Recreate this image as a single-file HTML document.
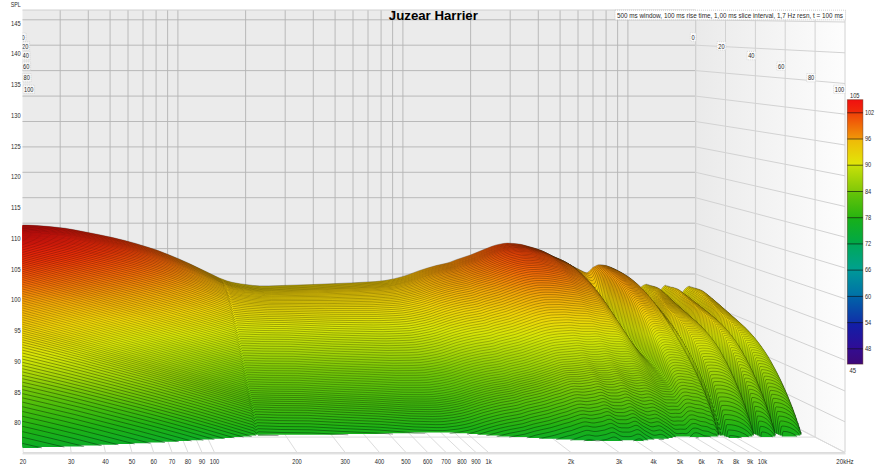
<!DOCTYPE html><html><head><meta charset="utf-8"><style>html,body{margin:0;padding:0;background:#fff}svg{display:block}text{font-family:"Liberation Sans",sans-serif}</style></head><body><svg width="877" height="468" viewBox="0 0 877 468">
<defs>
<clipPath id="cp"><rect x="22.5" y="0" width="830" height="456"/></clipPath>
<linearGradient id="rw" x1="0" y1="0" x2="1" y2="0"><stop offset="0" stop-color="#eaeaea"/><stop offset="1" stop-color="#fdfdfd"/></linearGradient>
<linearGradient id="g0" gradientUnits="userSpaceOnUse" x1="0" y1="223.2" x2="0" y2="421.4"><stop offset="0.000" stop-color="#f01010"/><stop offset="0.077" stop-color="#f03408"/><stop offset="0.154" stop-color="#f26c08"/><stop offset="0.231" stop-color="#f2a808"/><stop offset="0.308" stop-color="#f0d408"/><stop offset="0.385" stop-color="#d8e608"/><stop offset="0.462" stop-color="#a8d608"/><stop offset="0.538" stop-color="#74c608"/><stop offset="0.615" stop-color="#46bc0c"/><stop offset="0.692" stop-color="#1eb214"/><stop offset="0.769" stop-color="#0cac28"/><stop offset="0.846" stop-color="#00a84c"/><stop offset="1.000" stop-color="#00a090"/></linearGradient>
<linearGradient id="g1" gradientUnits="userSpaceOnUse" x1="0" y1="224.0" x2="0" y2="422.7"><stop offset="0.000" stop-color="#f01010"/><stop offset="0.077" stop-color="#f03408"/><stop offset="0.154" stop-color="#f26c08"/><stop offset="0.231" stop-color="#f2a808"/><stop offset="0.308" stop-color="#f0d408"/><stop offset="0.385" stop-color="#d8e608"/><stop offset="0.462" stop-color="#a8d608"/><stop offset="0.538" stop-color="#74c608"/><stop offset="0.615" stop-color="#46bc0c"/><stop offset="0.692" stop-color="#1eb214"/><stop offset="0.769" stop-color="#0cac28"/><stop offset="0.846" stop-color="#00a84c"/><stop offset="1.000" stop-color="#00a090"/></linearGradient>
<linearGradient id="g2" gradientUnits="userSpaceOnUse" x1="0" y1="224.8" x2="0" y2="423.9"><stop offset="0.000" stop-color="#f01010"/><stop offset="0.077" stop-color="#f03408"/><stop offset="0.154" stop-color="#f26c08"/><stop offset="0.231" stop-color="#f2a808"/><stop offset="0.308" stop-color="#f0d408"/><stop offset="0.385" stop-color="#d8e608"/><stop offset="0.462" stop-color="#a8d608"/><stop offset="0.538" stop-color="#74c608"/><stop offset="0.615" stop-color="#46bc0c"/><stop offset="0.692" stop-color="#1eb214"/><stop offset="0.769" stop-color="#0cac28"/><stop offset="0.846" stop-color="#00a84c"/><stop offset="1.000" stop-color="#00a090"/></linearGradient>
<linearGradient id="g3" gradientUnits="userSpaceOnUse" x1="0" y1="225.6" x2="0" y2="425.2"><stop offset="0.000" stop-color="#f01010"/><stop offset="0.077" stop-color="#f03408"/><stop offset="0.154" stop-color="#f26c08"/><stop offset="0.231" stop-color="#f2a808"/><stop offset="0.308" stop-color="#f0d408"/><stop offset="0.385" stop-color="#d8e608"/><stop offset="0.462" stop-color="#a8d608"/><stop offset="0.538" stop-color="#74c608"/><stop offset="0.615" stop-color="#46bc0c"/><stop offset="0.692" stop-color="#1eb214"/><stop offset="0.769" stop-color="#0cac28"/><stop offset="0.846" stop-color="#00a84c"/><stop offset="1.000" stop-color="#00a090"/></linearGradient>
<linearGradient id="g4" gradientUnits="userSpaceOnUse" x1="0" y1="226.5" x2="0" y2="426.4"><stop offset="0.000" stop-color="#f01010"/><stop offset="0.077" stop-color="#f03408"/><stop offset="0.154" stop-color="#f26c08"/><stop offset="0.231" stop-color="#f2a808"/><stop offset="0.308" stop-color="#f0d408"/><stop offset="0.385" stop-color="#d8e608"/><stop offset="0.462" stop-color="#a8d608"/><stop offset="0.538" stop-color="#74c608"/><stop offset="0.615" stop-color="#46bc0c"/><stop offset="0.692" stop-color="#1eb214"/><stop offset="0.769" stop-color="#0cac28"/><stop offset="0.846" stop-color="#00a84c"/><stop offset="1.000" stop-color="#00a090"/></linearGradient>
<linearGradient id="g5" gradientUnits="userSpaceOnUse" x1="0" y1="227.3" x2="0" y2="427.6"><stop offset="0.000" stop-color="#f01010"/><stop offset="0.077" stop-color="#f03408"/><stop offset="0.154" stop-color="#f26c08"/><stop offset="0.231" stop-color="#f2a808"/><stop offset="0.308" stop-color="#f0d408"/><stop offset="0.385" stop-color="#d8e608"/><stop offset="0.462" stop-color="#a8d608"/><stop offset="0.538" stop-color="#74c608"/><stop offset="0.615" stop-color="#46bc0c"/><stop offset="0.692" stop-color="#1eb214"/><stop offset="0.769" stop-color="#0cac28"/><stop offset="0.846" stop-color="#00a84c"/><stop offset="1.000" stop-color="#00a090"/></linearGradient>
<linearGradient id="g6" gradientUnits="userSpaceOnUse" x1="0" y1="228.1" x2="0" y2="428.9"><stop offset="0.000" stop-color="#f01010"/><stop offset="0.077" stop-color="#f03408"/><stop offset="0.154" stop-color="#f26c08"/><stop offset="0.231" stop-color="#f2a808"/><stop offset="0.308" stop-color="#f0d408"/><stop offset="0.385" stop-color="#d8e608"/><stop offset="0.462" stop-color="#a8d608"/><stop offset="0.538" stop-color="#74c608"/><stop offset="0.615" stop-color="#46bc0c"/><stop offset="0.692" stop-color="#1eb214"/><stop offset="0.769" stop-color="#0cac28"/><stop offset="0.846" stop-color="#00a84c"/><stop offset="1.000" stop-color="#00a090"/></linearGradient>
<linearGradient id="g7" gradientUnits="userSpaceOnUse" x1="0" y1="228.9" x2="0" y2="430.1"><stop offset="0.000" stop-color="#f01010"/><stop offset="0.077" stop-color="#f03408"/><stop offset="0.154" stop-color="#f26c08"/><stop offset="0.231" stop-color="#f2a808"/><stop offset="0.308" stop-color="#f0d408"/><stop offset="0.385" stop-color="#d8e608"/><stop offset="0.462" stop-color="#a8d608"/><stop offset="0.538" stop-color="#74c608"/><stop offset="0.615" stop-color="#46bc0c"/><stop offset="0.692" stop-color="#1eb214"/><stop offset="0.769" stop-color="#0cac28"/><stop offset="0.846" stop-color="#00a84c"/><stop offset="1.000" stop-color="#00a090"/></linearGradient>
<linearGradient id="g8" gradientUnits="userSpaceOnUse" x1="0" y1="229.7" x2="0" y2="431.3"><stop offset="0.000" stop-color="#f01010"/><stop offset="0.077" stop-color="#f03408"/><stop offset="0.154" stop-color="#f26c08"/><stop offset="0.231" stop-color="#f2a808"/><stop offset="0.308" stop-color="#f0d408"/><stop offset="0.385" stop-color="#d8e608"/><stop offset="0.462" stop-color="#a8d608"/><stop offset="0.538" stop-color="#74c608"/><stop offset="0.615" stop-color="#46bc0c"/><stop offset="0.692" stop-color="#1eb214"/><stop offset="0.769" stop-color="#0cac28"/><stop offset="0.846" stop-color="#00a84c"/><stop offset="1.000" stop-color="#00a090"/></linearGradient>
<linearGradient id="g9" gradientUnits="userSpaceOnUse" x1="0" y1="230.5" x2="0" y2="432.5"><stop offset="0.000" stop-color="#f01010"/><stop offset="0.077" stop-color="#f03408"/><stop offset="0.154" stop-color="#f26c08"/><stop offset="0.231" stop-color="#f2a808"/><stop offset="0.308" stop-color="#f0d408"/><stop offset="0.385" stop-color="#d8e608"/><stop offset="0.462" stop-color="#a8d608"/><stop offset="0.538" stop-color="#74c608"/><stop offset="0.615" stop-color="#46bc0c"/><stop offset="0.692" stop-color="#1eb214"/><stop offset="0.769" stop-color="#0cac28"/><stop offset="0.846" stop-color="#00a84c"/><stop offset="1.000" stop-color="#00a090"/></linearGradient>
<linearGradient id="g10" gradientUnits="userSpaceOnUse" x1="0" y1="231.3" x2="0" y2="433.7"><stop offset="0.000" stop-color="#f01010"/><stop offset="0.077" stop-color="#f03408"/><stop offset="0.154" stop-color="#f26c08"/><stop offset="0.231" stop-color="#f2a808"/><stop offset="0.308" stop-color="#f0d408"/><stop offset="0.385" stop-color="#d8e608"/><stop offset="0.462" stop-color="#a8d608"/><stop offset="0.538" stop-color="#74c608"/><stop offset="0.615" stop-color="#46bc0c"/><stop offset="0.692" stop-color="#1eb214"/><stop offset="0.769" stop-color="#0cac28"/><stop offset="0.846" stop-color="#00a84c"/><stop offset="1.000" stop-color="#00a090"/></linearGradient>
<linearGradient id="g11" gradientUnits="userSpaceOnUse" x1="0" y1="232.1" x2="0" y2="434.9"><stop offset="0.000" stop-color="#f01010"/><stop offset="0.077" stop-color="#f03408"/><stop offset="0.154" stop-color="#f26c08"/><stop offset="0.231" stop-color="#f2a808"/><stop offset="0.308" stop-color="#f0d408"/><stop offset="0.385" stop-color="#d8e608"/><stop offset="0.462" stop-color="#a8d608"/><stop offset="0.538" stop-color="#74c608"/><stop offset="0.615" stop-color="#46bc0c"/><stop offset="0.692" stop-color="#1eb214"/><stop offset="0.769" stop-color="#0cac28"/><stop offset="0.846" stop-color="#00a84c"/><stop offset="1.000" stop-color="#00a090"/></linearGradient>
<linearGradient id="g12" gradientUnits="userSpaceOnUse" x1="0" y1="232.8" x2="0" y2="436.1"><stop offset="0.000" stop-color="#f01010"/><stop offset="0.077" stop-color="#f03408"/><stop offset="0.154" stop-color="#f26c08"/><stop offset="0.231" stop-color="#f2a808"/><stop offset="0.308" stop-color="#f0d408"/><stop offset="0.385" stop-color="#d8e608"/><stop offset="0.462" stop-color="#a8d608"/><stop offset="0.538" stop-color="#74c608"/><stop offset="0.615" stop-color="#46bc0c"/><stop offset="0.692" stop-color="#1eb214"/><stop offset="0.769" stop-color="#0cac28"/><stop offset="0.846" stop-color="#00a84c"/><stop offset="1.000" stop-color="#00a090"/></linearGradient>
<linearGradient id="g13" gradientUnits="userSpaceOnUse" x1="0" y1="233.6" x2="0" y2="437.3"><stop offset="0.000" stop-color="#f01010"/><stop offset="0.077" stop-color="#f03408"/><stop offset="0.154" stop-color="#f26c08"/><stop offset="0.231" stop-color="#f2a808"/><stop offset="0.308" stop-color="#f0d408"/><stop offset="0.385" stop-color="#d8e608"/><stop offset="0.462" stop-color="#a8d608"/><stop offset="0.538" stop-color="#74c608"/><stop offset="0.615" stop-color="#46bc0c"/><stop offset="0.692" stop-color="#1eb214"/><stop offset="0.769" stop-color="#0cac28"/><stop offset="0.846" stop-color="#00a84c"/><stop offset="1.000" stop-color="#00a090"/></linearGradient>
<linearGradient id="g14" gradientUnits="userSpaceOnUse" x1="0" y1="234.4" x2="0" y2="438.5"><stop offset="0.000" stop-color="#f01010"/><stop offset="0.077" stop-color="#f03408"/><stop offset="0.154" stop-color="#f26c08"/><stop offset="0.231" stop-color="#f2a808"/><stop offset="0.308" stop-color="#f0d408"/><stop offset="0.385" stop-color="#d8e608"/><stop offset="0.462" stop-color="#a8d608"/><stop offset="0.538" stop-color="#74c608"/><stop offset="0.615" stop-color="#46bc0c"/><stop offset="0.692" stop-color="#1eb214"/><stop offset="0.769" stop-color="#0cac28"/><stop offset="0.846" stop-color="#00a84c"/><stop offset="1.000" stop-color="#00a090"/></linearGradient>
<linearGradient id="g15" gradientUnits="userSpaceOnUse" x1="0" y1="235.1" x2="0" y2="439.6"><stop offset="0.000" stop-color="#f01010"/><stop offset="0.077" stop-color="#f03408"/><stop offset="0.154" stop-color="#f26c08"/><stop offset="0.231" stop-color="#f2a808"/><stop offset="0.308" stop-color="#f0d408"/><stop offset="0.385" stop-color="#d8e608"/><stop offset="0.462" stop-color="#a8d608"/><stop offset="0.538" stop-color="#74c608"/><stop offset="0.615" stop-color="#46bc0c"/><stop offset="0.692" stop-color="#1eb214"/><stop offset="0.769" stop-color="#0cac28"/><stop offset="0.846" stop-color="#00a84c"/><stop offset="1.000" stop-color="#00a090"/></linearGradient>
<linearGradient id="g16" gradientUnits="userSpaceOnUse" x1="0" y1="235.9" x2="0" y2="440.8"><stop offset="0.000" stop-color="#f01010"/><stop offset="0.077" stop-color="#f03408"/><stop offset="0.154" stop-color="#f26c08"/><stop offset="0.231" stop-color="#f2a808"/><stop offset="0.308" stop-color="#f0d408"/><stop offset="0.385" stop-color="#d8e608"/><stop offset="0.462" stop-color="#a8d608"/><stop offset="0.538" stop-color="#74c608"/><stop offset="0.615" stop-color="#46bc0c"/><stop offset="0.692" stop-color="#1eb214"/><stop offset="0.769" stop-color="#0cac28"/><stop offset="0.846" stop-color="#00a84c"/><stop offset="1.000" stop-color="#00a090"/></linearGradient>
<linearGradient id="g17" gradientUnits="userSpaceOnUse" x1="0" y1="236.7" x2="0" y2="442.0"><stop offset="0.000" stop-color="#f01010"/><stop offset="0.077" stop-color="#f03408"/><stop offset="0.154" stop-color="#f26c08"/><stop offset="0.231" stop-color="#f2a808"/><stop offset="0.308" stop-color="#f0d408"/><stop offset="0.385" stop-color="#d8e608"/><stop offset="0.462" stop-color="#a8d608"/><stop offset="0.538" stop-color="#74c608"/><stop offset="0.615" stop-color="#46bc0c"/><stop offset="0.692" stop-color="#1eb214"/><stop offset="0.769" stop-color="#0cac28"/><stop offset="0.846" stop-color="#00a84c"/><stop offset="1.000" stop-color="#00a090"/></linearGradient>
<linearGradient id="g18" gradientUnits="userSpaceOnUse" x1="0" y1="237.5" x2="0" y2="443.2"><stop offset="0.000" stop-color="#f01010"/><stop offset="0.077" stop-color="#f03408"/><stop offset="0.154" stop-color="#f26c08"/><stop offset="0.231" stop-color="#f2a808"/><stop offset="0.308" stop-color="#f0d408"/><stop offset="0.385" stop-color="#d8e608"/><stop offset="0.462" stop-color="#a8d608"/><stop offset="0.538" stop-color="#74c608"/><stop offset="0.615" stop-color="#46bc0c"/><stop offset="0.692" stop-color="#1eb214"/><stop offset="0.769" stop-color="#0cac28"/><stop offset="0.846" stop-color="#00a84c"/><stop offset="1.000" stop-color="#00a090"/></linearGradient>
<linearGradient id="g19" gradientUnits="userSpaceOnUse" x1="0" y1="238.3" x2="0" y2="444.4"><stop offset="0.000" stop-color="#f01010"/><stop offset="0.077" stop-color="#f03408"/><stop offset="0.154" stop-color="#f26c08"/><stop offset="0.231" stop-color="#f2a808"/><stop offset="0.308" stop-color="#f0d408"/><stop offset="0.385" stop-color="#d8e608"/><stop offset="0.462" stop-color="#a8d608"/><stop offset="0.538" stop-color="#74c608"/><stop offset="0.615" stop-color="#46bc0c"/><stop offset="0.692" stop-color="#1eb214"/><stop offset="0.769" stop-color="#0cac28"/><stop offset="0.846" stop-color="#00a84c"/><stop offset="1.000" stop-color="#00a090"/></linearGradient>
<linearGradient id="g20" gradientUnits="userSpaceOnUse" x1="0" y1="239.0" x2="0" y2="445.6"><stop offset="0.000" stop-color="#f01010"/><stop offset="0.077" stop-color="#f03408"/><stop offset="0.154" stop-color="#f26c08"/><stop offset="0.231" stop-color="#f2a808"/><stop offset="0.308" stop-color="#f0d408"/><stop offset="0.385" stop-color="#d8e608"/><stop offset="0.462" stop-color="#a8d608"/><stop offset="0.538" stop-color="#74c608"/><stop offset="0.615" stop-color="#46bc0c"/><stop offset="0.692" stop-color="#1eb214"/><stop offset="0.769" stop-color="#0cac28"/><stop offset="0.846" stop-color="#00a84c"/><stop offset="1.000" stop-color="#00a090"/></linearGradient>
<linearGradient id="g21" gradientUnits="userSpaceOnUse" x1="0" y1="239.8" x2="0" y2="446.8"><stop offset="0.000" stop-color="#f01010"/><stop offset="0.077" stop-color="#f03408"/><stop offset="0.154" stop-color="#f26c08"/><stop offset="0.231" stop-color="#f2a808"/><stop offset="0.308" stop-color="#f0d408"/><stop offset="0.385" stop-color="#d8e608"/><stop offset="0.462" stop-color="#a8d608"/><stop offset="0.538" stop-color="#74c608"/><stop offset="0.615" stop-color="#46bc0c"/><stop offset="0.692" stop-color="#1eb214"/><stop offset="0.769" stop-color="#0cac28"/><stop offset="0.846" stop-color="#00a84c"/><stop offset="1.000" stop-color="#00a090"/></linearGradient>
<linearGradient id="g22" gradientUnits="userSpaceOnUse" x1="0" y1="240.6" x2="0" y2="448.0"><stop offset="0.000" stop-color="#f01010"/><stop offset="0.077" stop-color="#f03408"/><stop offset="0.154" stop-color="#f26c08"/><stop offset="0.231" stop-color="#f2a808"/><stop offset="0.308" stop-color="#f0d408"/><stop offset="0.385" stop-color="#d8e608"/><stop offset="0.462" stop-color="#a8d608"/><stop offset="0.538" stop-color="#74c608"/><stop offset="0.615" stop-color="#46bc0c"/><stop offset="0.692" stop-color="#1eb214"/><stop offset="0.769" stop-color="#0cac28"/><stop offset="0.846" stop-color="#00a84c"/><stop offset="1.000" stop-color="#00a090"/></linearGradient>
<linearGradient id="g23" gradientUnits="userSpaceOnUse" x1="0" y1="241.3" x2="0" y2="449.2"><stop offset="0.000" stop-color="#f01010"/><stop offset="0.077" stop-color="#f03408"/><stop offset="0.154" stop-color="#f26c08"/><stop offset="0.231" stop-color="#f2a808"/><stop offset="0.308" stop-color="#f0d408"/><stop offset="0.385" stop-color="#d8e608"/><stop offset="0.462" stop-color="#a8d608"/><stop offset="0.538" stop-color="#74c608"/><stop offset="0.615" stop-color="#46bc0c"/><stop offset="0.692" stop-color="#1eb214"/><stop offset="0.769" stop-color="#0cac28"/><stop offset="0.846" stop-color="#00a84c"/><stop offset="1.000" stop-color="#00a090"/></linearGradient>
<linearGradient id="g24" gradientUnits="userSpaceOnUse" x1="0" y1="242.0" x2="0" y2="450.3"><stop offset="0.000" stop-color="#f01010"/><stop offset="0.077" stop-color="#f03408"/><stop offset="0.154" stop-color="#f26c08"/><stop offset="0.231" stop-color="#f2a808"/><stop offset="0.308" stop-color="#f0d408"/><stop offset="0.385" stop-color="#d8e608"/><stop offset="0.462" stop-color="#a8d608"/><stop offset="0.538" stop-color="#74c608"/><stop offset="0.615" stop-color="#46bc0c"/><stop offset="0.692" stop-color="#1eb214"/><stop offset="0.769" stop-color="#0cac28"/><stop offset="0.846" stop-color="#00a84c"/><stop offset="1.000" stop-color="#00a090"/></linearGradient>
<linearGradient id="g25" gradientUnits="userSpaceOnUse" x1="0" y1="242.7" x2="0" y2="451.3"><stop offset="0.000" stop-color="#f01010"/><stop offset="0.077" stop-color="#f03408"/><stop offset="0.154" stop-color="#f26c08"/><stop offset="0.231" stop-color="#f2a808"/><stop offset="0.308" stop-color="#f0d408"/><stop offset="0.385" stop-color="#d8e608"/><stop offset="0.462" stop-color="#a8d608"/><stop offset="0.538" stop-color="#74c608"/><stop offset="0.615" stop-color="#46bc0c"/><stop offset="0.692" stop-color="#1eb214"/><stop offset="0.769" stop-color="#0cac28"/><stop offset="0.846" stop-color="#00a84c"/><stop offset="1.000" stop-color="#00a090"/></linearGradient>
<linearGradient id="g26" gradientUnits="userSpaceOnUse" x1="0" y1="243.3" x2="0" y2="452.4"><stop offset="0.000" stop-color="#f01010"/><stop offset="0.077" stop-color="#f03408"/><stop offset="0.154" stop-color="#f26c08"/><stop offset="0.231" stop-color="#f2a808"/><stop offset="0.308" stop-color="#f0d408"/><stop offset="0.385" stop-color="#d8e608"/><stop offset="0.462" stop-color="#a8d608"/><stop offset="0.538" stop-color="#74c608"/><stop offset="0.615" stop-color="#46bc0c"/><stop offset="0.692" stop-color="#1eb214"/><stop offset="0.769" stop-color="#0cac28"/><stop offset="0.846" stop-color="#00a84c"/><stop offset="1.000" stop-color="#00a090"/></linearGradient>
<linearGradient id="g27" gradientUnits="userSpaceOnUse" x1="0" y1="243.9" x2="0" y2="453.4"><stop offset="0.000" stop-color="#f01010"/><stop offset="0.077" stop-color="#f03408"/><stop offset="0.154" stop-color="#f26c08"/><stop offset="0.231" stop-color="#f2a808"/><stop offset="0.308" stop-color="#f0d408"/><stop offset="0.385" stop-color="#d8e608"/><stop offset="0.462" stop-color="#a8d608"/><stop offset="0.538" stop-color="#74c608"/><stop offset="0.615" stop-color="#46bc0c"/><stop offset="0.692" stop-color="#1eb214"/><stop offset="0.769" stop-color="#0cac28"/><stop offset="0.846" stop-color="#00a84c"/><stop offset="1.000" stop-color="#00a090"/></linearGradient>
<linearGradient id="g28" gradientUnits="userSpaceOnUse" x1="0" y1="244.4" x2="0" y2="454.3"><stop offset="0.000" stop-color="#f01010"/><stop offset="0.077" stop-color="#f03408"/><stop offset="0.154" stop-color="#f26c08"/><stop offset="0.231" stop-color="#f2a808"/><stop offset="0.308" stop-color="#f0d408"/><stop offset="0.385" stop-color="#d8e608"/><stop offset="0.462" stop-color="#a8d608"/><stop offset="0.538" stop-color="#74c608"/><stop offset="0.615" stop-color="#46bc0c"/><stop offset="0.692" stop-color="#1eb214"/><stop offset="0.769" stop-color="#0cac28"/><stop offset="0.846" stop-color="#00a84c"/><stop offset="1.000" stop-color="#00a090"/></linearGradient>
<linearGradient id="g29" gradientUnits="userSpaceOnUse" x1="0" y1="244.9" x2="0" y2="455.3"><stop offset="0.000" stop-color="#f01010"/><stop offset="0.077" stop-color="#f03408"/><stop offset="0.154" stop-color="#f26c08"/><stop offset="0.231" stop-color="#f2a808"/><stop offset="0.308" stop-color="#f0d408"/><stop offset="0.385" stop-color="#d8e608"/><stop offset="0.462" stop-color="#a8d608"/><stop offset="0.538" stop-color="#74c608"/><stop offset="0.615" stop-color="#46bc0c"/><stop offset="0.692" stop-color="#1eb214"/><stop offset="0.769" stop-color="#0cac28"/><stop offset="0.846" stop-color="#00a84c"/><stop offset="1.000" stop-color="#00a090"/></linearGradient>
<linearGradient id="g30" gradientUnits="userSpaceOnUse" x1="0" y1="245.5" x2="0" y2="456.2"><stop offset="0.000" stop-color="#f01010"/><stop offset="0.077" stop-color="#f03408"/><stop offset="0.154" stop-color="#f26c08"/><stop offset="0.231" stop-color="#f2a808"/><stop offset="0.308" stop-color="#f0d408"/><stop offset="0.385" stop-color="#d8e608"/><stop offset="0.462" stop-color="#a8d608"/><stop offset="0.538" stop-color="#74c608"/><stop offset="0.615" stop-color="#46bc0c"/><stop offset="0.692" stop-color="#1eb214"/><stop offset="0.769" stop-color="#0cac28"/><stop offset="0.846" stop-color="#00a84c"/><stop offset="1.000" stop-color="#00a090"/></linearGradient>
<linearGradient id="g31" gradientUnits="userSpaceOnUse" x1="0" y1="246.0" x2="0" y2="457.1"><stop offset="0.000" stop-color="#f01010"/><stop offset="0.077" stop-color="#f03408"/><stop offset="0.154" stop-color="#f26c08"/><stop offset="0.231" stop-color="#f2a808"/><stop offset="0.308" stop-color="#f0d408"/><stop offset="0.385" stop-color="#d8e608"/><stop offset="0.462" stop-color="#a8d608"/><stop offset="0.538" stop-color="#74c608"/><stop offset="0.615" stop-color="#46bc0c"/><stop offset="0.692" stop-color="#1eb214"/><stop offset="0.769" stop-color="#0cac28"/><stop offset="0.846" stop-color="#00a84c"/><stop offset="1.000" stop-color="#00a090"/></linearGradient>
<linearGradient id="g32" gradientUnits="userSpaceOnUse" x1="0" y1="246.5" x2="0" y2="458.1"><stop offset="0.000" stop-color="#f01010"/><stop offset="0.077" stop-color="#f03408"/><stop offset="0.154" stop-color="#f26c08"/><stop offset="0.231" stop-color="#f2a808"/><stop offset="0.308" stop-color="#f0d408"/><stop offset="0.385" stop-color="#d8e608"/><stop offset="0.462" stop-color="#a8d608"/><stop offset="0.538" stop-color="#74c608"/><stop offset="0.615" stop-color="#46bc0c"/><stop offset="0.692" stop-color="#1eb214"/><stop offset="0.769" stop-color="#0cac28"/><stop offset="0.846" stop-color="#00a84c"/><stop offset="1.000" stop-color="#00a090"/></linearGradient>
<linearGradient id="g33" gradientUnits="userSpaceOnUse" x1="0" y1="247.0" x2="0" y2="459.0"><stop offset="0.000" stop-color="#f01010"/><stop offset="0.077" stop-color="#f03408"/><stop offset="0.154" stop-color="#f26c08"/><stop offset="0.231" stop-color="#f2a808"/><stop offset="0.308" stop-color="#f0d408"/><stop offset="0.385" stop-color="#d8e608"/><stop offset="0.462" stop-color="#a8d608"/><stop offset="0.538" stop-color="#74c608"/><stop offset="0.615" stop-color="#46bc0c"/><stop offset="0.692" stop-color="#1eb214"/><stop offset="0.769" stop-color="#0cac28"/><stop offset="0.846" stop-color="#00a84c"/><stop offset="1.000" stop-color="#00a090"/></linearGradient>
<linearGradient id="g34" gradientUnits="userSpaceOnUse" x1="0" y1="247.5" x2="0" y2="459.9"><stop offset="0.000" stop-color="#f01010"/><stop offset="0.077" stop-color="#f03408"/><stop offset="0.154" stop-color="#f26c08"/><stop offset="0.231" stop-color="#f2a808"/><stop offset="0.308" stop-color="#f0d408"/><stop offset="0.385" stop-color="#d8e608"/><stop offset="0.462" stop-color="#a8d608"/><stop offset="0.538" stop-color="#74c608"/><stop offset="0.615" stop-color="#46bc0c"/><stop offset="0.692" stop-color="#1eb214"/><stop offset="0.769" stop-color="#0cac28"/><stop offset="0.846" stop-color="#00a84c"/><stop offset="1.000" stop-color="#00a090"/></linearGradient>
<linearGradient id="g35" gradientUnits="userSpaceOnUse" x1="0" y1="248.0" x2="0" y2="460.9"><stop offset="0.000" stop-color="#f01010"/><stop offset="0.077" stop-color="#f03408"/><stop offset="0.154" stop-color="#f26c08"/><stop offset="0.231" stop-color="#f2a808"/><stop offset="0.308" stop-color="#f0d408"/><stop offset="0.385" stop-color="#d8e608"/><stop offset="0.462" stop-color="#a8d608"/><stop offset="0.538" stop-color="#74c608"/><stop offset="0.615" stop-color="#46bc0c"/><stop offset="0.692" stop-color="#1eb214"/><stop offset="0.769" stop-color="#0cac28"/><stop offset="0.846" stop-color="#00a84c"/><stop offset="1.000" stop-color="#00a090"/></linearGradient>
<linearGradient id="g36" gradientUnits="userSpaceOnUse" x1="0" y1="248.5" x2="0" y2="461.8"><stop offset="0.000" stop-color="#f01010"/><stop offset="0.077" stop-color="#f03408"/><stop offset="0.154" stop-color="#f26c08"/><stop offset="0.231" stop-color="#f2a808"/><stop offset="0.308" stop-color="#f0d408"/><stop offset="0.385" stop-color="#d8e608"/><stop offset="0.462" stop-color="#a8d608"/><stop offset="0.538" stop-color="#74c608"/><stop offset="0.615" stop-color="#46bc0c"/><stop offset="0.692" stop-color="#1eb214"/><stop offset="0.769" stop-color="#0cac28"/><stop offset="0.846" stop-color="#00a84c"/><stop offset="1.000" stop-color="#00a090"/></linearGradient>
<linearGradient id="g37" gradientUnits="userSpaceOnUse" x1="0" y1="249.0" x2="0" y2="462.7"><stop offset="0.000" stop-color="#f01010"/><stop offset="0.077" stop-color="#f03408"/><stop offset="0.154" stop-color="#f26c08"/><stop offset="0.231" stop-color="#f2a808"/><stop offset="0.308" stop-color="#f0d408"/><stop offset="0.385" stop-color="#d8e608"/><stop offset="0.462" stop-color="#a8d608"/><stop offset="0.538" stop-color="#74c608"/><stop offset="0.615" stop-color="#46bc0c"/><stop offset="0.692" stop-color="#1eb214"/><stop offset="0.769" stop-color="#0cac28"/><stop offset="0.846" stop-color="#00a84c"/><stop offset="1.000" stop-color="#00a090"/></linearGradient>
<linearGradient id="g38" gradientUnits="userSpaceOnUse" x1="0" y1="249.5" x2="0" y2="463.6"><stop offset="0.000" stop-color="#f01010"/><stop offset="0.077" stop-color="#f03408"/><stop offset="0.154" stop-color="#f26c08"/><stop offset="0.231" stop-color="#f2a808"/><stop offset="0.308" stop-color="#f0d408"/><stop offset="0.385" stop-color="#d8e608"/><stop offset="0.462" stop-color="#a8d608"/><stop offset="0.538" stop-color="#74c608"/><stop offset="0.615" stop-color="#46bc0c"/><stop offset="0.692" stop-color="#1eb214"/><stop offset="0.769" stop-color="#0cac28"/><stop offset="0.846" stop-color="#00a84c"/><stop offset="1.000" stop-color="#00a090"/></linearGradient>
<linearGradient id="g39" gradientUnits="userSpaceOnUse" x1="0" y1="250.0" x2="0" y2="464.5"><stop offset="0.000" stop-color="#f01010"/><stop offset="0.077" stop-color="#f03408"/><stop offset="0.154" stop-color="#f26c08"/><stop offset="0.231" stop-color="#f2a808"/><stop offset="0.308" stop-color="#f0d408"/><stop offset="0.385" stop-color="#d8e608"/><stop offset="0.462" stop-color="#a8d608"/><stop offset="0.538" stop-color="#74c608"/><stop offset="0.615" stop-color="#46bc0c"/><stop offset="0.692" stop-color="#1eb214"/><stop offset="0.769" stop-color="#0cac28"/><stop offset="0.846" stop-color="#00a84c"/><stop offset="1.000" stop-color="#00a090"/></linearGradient>
<linearGradient id="g40" gradientUnits="userSpaceOnUse" x1="0" y1="250.5" x2="0" y2="465.4"><stop offset="0.000" stop-color="#f01010"/><stop offset="0.077" stop-color="#f03408"/><stop offset="0.154" stop-color="#f26c08"/><stop offset="0.231" stop-color="#f2a808"/><stop offset="0.308" stop-color="#f0d408"/><stop offset="0.385" stop-color="#d8e608"/><stop offset="0.462" stop-color="#a8d608"/><stop offset="0.538" stop-color="#74c608"/><stop offset="0.615" stop-color="#46bc0c"/><stop offset="0.692" stop-color="#1eb214"/><stop offset="0.769" stop-color="#0cac28"/><stop offset="0.846" stop-color="#00a84c"/><stop offset="1.000" stop-color="#00a090"/></linearGradient>
<linearGradient id="g41" gradientUnits="userSpaceOnUse" x1="0" y1="250.9" x2="0" y2="466.2"><stop offset="0.000" stop-color="#f01010"/><stop offset="0.077" stop-color="#f03408"/><stop offset="0.154" stop-color="#f26c08"/><stop offset="0.231" stop-color="#f2a808"/><stop offset="0.308" stop-color="#f0d408"/><stop offset="0.385" stop-color="#d8e608"/><stop offset="0.462" stop-color="#a8d608"/><stop offset="0.538" stop-color="#74c608"/><stop offset="0.615" stop-color="#46bc0c"/><stop offset="0.692" stop-color="#1eb214"/><stop offset="0.769" stop-color="#0cac28"/><stop offset="0.846" stop-color="#00a84c"/><stop offset="1.000" stop-color="#00a090"/></linearGradient>
<linearGradient id="g42" gradientUnits="userSpaceOnUse" x1="0" y1="251.3" x2="0" y2="467.0"><stop offset="0.000" stop-color="#f01010"/><stop offset="0.077" stop-color="#f03408"/><stop offset="0.154" stop-color="#f26c08"/><stop offset="0.231" stop-color="#f2a808"/><stop offset="0.308" stop-color="#f0d408"/><stop offset="0.385" stop-color="#d8e608"/><stop offset="0.462" stop-color="#a8d608"/><stop offset="0.538" stop-color="#74c608"/><stop offset="0.615" stop-color="#46bc0c"/><stop offset="0.692" stop-color="#1eb214"/><stop offset="0.769" stop-color="#0cac28"/><stop offset="0.846" stop-color="#00a84c"/><stop offset="1.000" stop-color="#00a090"/></linearGradient>
<linearGradient id="g43" gradientUnits="userSpaceOnUse" x1="0" y1="251.6" x2="0" y2="467.7"><stop offset="0.000" stop-color="#f01010"/><stop offset="0.077" stop-color="#f03408"/><stop offset="0.154" stop-color="#f26c08"/><stop offset="0.231" stop-color="#f2a808"/><stop offset="0.308" stop-color="#f0d408"/><stop offset="0.385" stop-color="#d8e608"/><stop offset="0.462" stop-color="#a8d608"/><stop offset="0.538" stop-color="#74c608"/><stop offset="0.615" stop-color="#46bc0c"/><stop offset="0.692" stop-color="#1eb214"/><stop offset="0.769" stop-color="#0cac28"/><stop offset="0.846" stop-color="#00a84c"/><stop offset="1.000" stop-color="#00a090"/></linearGradient>
<linearGradient id="g44" gradientUnits="userSpaceOnUse" x1="0" y1="251.9" x2="0" y2="468.4"><stop offset="0.000" stop-color="#f01010"/><stop offset="0.077" stop-color="#f03408"/><stop offset="0.154" stop-color="#f26c08"/><stop offset="0.231" stop-color="#f2a808"/><stop offset="0.308" stop-color="#f0d408"/><stop offset="0.385" stop-color="#d8e608"/><stop offset="0.462" stop-color="#a8d608"/><stop offset="0.538" stop-color="#74c608"/><stop offset="0.615" stop-color="#46bc0c"/><stop offset="0.692" stop-color="#1eb214"/><stop offset="0.769" stop-color="#0cac28"/><stop offset="0.846" stop-color="#00a84c"/><stop offset="1.000" stop-color="#00a090"/></linearGradient>
<linearGradient id="g45" gradientUnits="userSpaceOnUse" x1="0" y1="252.1" x2="0" y2="469.1"><stop offset="0.000" stop-color="#f01010"/><stop offset="0.077" stop-color="#f03408"/><stop offset="0.154" stop-color="#f26c08"/><stop offset="0.231" stop-color="#f2a808"/><stop offset="0.308" stop-color="#f0d408"/><stop offset="0.385" stop-color="#d8e608"/><stop offset="0.462" stop-color="#a8d608"/><stop offset="0.538" stop-color="#74c608"/><stop offset="0.615" stop-color="#46bc0c"/><stop offset="0.692" stop-color="#1eb214"/><stop offset="0.769" stop-color="#0cac28"/><stop offset="0.846" stop-color="#00a84c"/><stop offset="1.000" stop-color="#00a090"/></linearGradient>
<linearGradient id="g46" gradientUnits="userSpaceOnUse" x1="0" y1="252.4" x2="0" y2="469.8"><stop offset="0.000" stop-color="#f01010"/><stop offset="0.077" stop-color="#f03408"/><stop offset="0.154" stop-color="#f26c08"/><stop offset="0.231" stop-color="#f2a808"/><stop offset="0.308" stop-color="#f0d408"/><stop offset="0.385" stop-color="#d8e608"/><stop offset="0.462" stop-color="#a8d608"/><stop offset="0.538" stop-color="#74c608"/><stop offset="0.615" stop-color="#46bc0c"/><stop offset="0.692" stop-color="#1eb214"/><stop offset="0.769" stop-color="#0cac28"/><stop offset="0.846" stop-color="#00a84c"/><stop offset="1.000" stop-color="#00a090"/></linearGradient>
<linearGradient id="g47" gradientUnits="userSpaceOnUse" x1="0" y1="252.8" x2="0" y2="470.6"><stop offset="0.000" stop-color="#f01010"/><stop offset="0.077" stop-color="#f03408"/><stop offset="0.154" stop-color="#f26c08"/><stop offset="0.231" stop-color="#f2a808"/><stop offset="0.308" stop-color="#f0d408"/><stop offset="0.385" stop-color="#d8e608"/><stop offset="0.462" stop-color="#a8d608"/><stop offset="0.538" stop-color="#74c608"/><stop offset="0.615" stop-color="#46bc0c"/><stop offset="0.692" stop-color="#1eb214"/><stop offset="0.769" stop-color="#0cac28"/><stop offset="0.846" stop-color="#00a84c"/><stop offset="1.000" stop-color="#00a090"/></linearGradient>
<linearGradient id="g48" gradientUnits="userSpaceOnUse" x1="0" y1="253.1" x2="0" y2="471.3"><stop offset="0.000" stop-color="#f01010"/><stop offset="0.077" stop-color="#f03408"/><stop offset="0.154" stop-color="#f26c08"/><stop offset="0.231" stop-color="#f2a808"/><stop offset="0.308" stop-color="#f0d408"/><stop offset="0.385" stop-color="#d8e608"/><stop offset="0.462" stop-color="#a8d608"/><stop offset="0.538" stop-color="#74c608"/><stop offset="0.615" stop-color="#46bc0c"/><stop offset="0.692" stop-color="#1eb214"/><stop offset="0.769" stop-color="#0cac28"/><stop offset="0.846" stop-color="#00a84c"/><stop offset="1.000" stop-color="#00a090"/></linearGradient>
<linearGradient id="g49" gradientUnits="userSpaceOnUse" x1="0" y1="253.5" x2="0" y2="472.2"><stop offset="0.000" stop-color="#f01010"/><stop offset="0.077" stop-color="#f03408"/><stop offset="0.154" stop-color="#f26c08"/><stop offset="0.231" stop-color="#f2a808"/><stop offset="0.308" stop-color="#f0d408"/><stop offset="0.385" stop-color="#d8e608"/><stop offset="0.462" stop-color="#a8d608"/><stop offset="0.538" stop-color="#74c608"/><stop offset="0.615" stop-color="#46bc0c"/><stop offset="0.692" stop-color="#1eb214"/><stop offset="0.769" stop-color="#0cac28"/><stop offset="0.846" stop-color="#00a84c"/><stop offset="1.000" stop-color="#00a090"/></linearGradient>
<linearGradient id="g50" gradientUnits="userSpaceOnUse" x1="0" y1="254.0" x2="0" y2="473.1"><stop offset="0.000" stop-color="#f01010"/><stop offset="0.077" stop-color="#f03408"/><stop offset="0.154" stop-color="#f26c08"/><stop offset="0.231" stop-color="#f2a808"/><stop offset="0.308" stop-color="#f0d408"/><stop offset="0.385" stop-color="#d8e608"/><stop offset="0.462" stop-color="#a8d608"/><stop offset="0.538" stop-color="#74c608"/><stop offset="0.615" stop-color="#46bc0c"/><stop offset="0.692" stop-color="#1eb214"/><stop offset="0.769" stop-color="#0cac28"/><stop offset="0.846" stop-color="#00a84c"/><stop offset="1.000" stop-color="#00a090"/></linearGradient>
<linearGradient id="g51" gradientUnits="userSpaceOnUse" x1="0" y1="254.6" x2="0" y2="474.1"><stop offset="0.000" stop-color="#f01010"/><stop offset="0.077" stop-color="#f03408"/><stop offset="0.154" stop-color="#f26c08"/><stop offset="0.231" stop-color="#f2a808"/><stop offset="0.308" stop-color="#f0d408"/><stop offset="0.385" stop-color="#d8e608"/><stop offset="0.462" stop-color="#a8d608"/><stop offset="0.538" stop-color="#74c608"/><stop offset="0.615" stop-color="#46bc0c"/><stop offset="0.692" stop-color="#1eb214"/><stop offset="0.769" stop-color="#0cac28"/><stop offset="0.846" stop-color="#00a84c"/><stop offset="1.000" stop-color="#00a090"/></linearGradient>
<linearGradient id="g52" gradientUnits="userSpaceOnUse" x1="0" y1="255.3" x2="0" y2="475.2"><stop offset="0.000" stop-color="#f01010"/><stop offset="0.077" stop-color="#f03408"/><stop offset="0.154" stop-color="#f26c08"/><stop offset="0.231" stop-color="#f2a808"/><stop offset="0.308" stop-color="#f0d408"/><stop offset="0.385" stop-color="#d8e608"/><stop offset="0.462" stop-color="#a8d608"/><stop offset="0.538" stop-color="#74c608"/><stop offset="0.615" stop-color="#46bc0c"/><stop offset="0.692" stop-color="#1eb214"/><stop offset="0.769" stop-color="#0cac28"/><stop offset="0.846" stop-color="#00a84c"/><stop offset="1.000" stop-color="#00a090"/></linearGradient>
<linearGradient id="g53" gradientUnits="userSpaceOnUse" x1="0" y1="256.0" x2="0" y2="476.3"><stop offset="0.000" stop-color="#f01010"/><stop offset="0.077" stop-color="#f03408"/><stop offset="0.154" stop-color="#f26c08"/><stop offset="0.231" stop-color="#f2a808"/><stop offset="0.308" stop-color="#f0d408"/><stop offset="0.385" stop-color="#d8e608"/><stop offset="0.462" stop-color="#a8d608"/><stop offset="0.538" stop-color="#74c608"/><stop offset="0.615" stop-color="#46bc0c"/><stop offset="0.692" stop-color="#1eb214"/><stop offset="0.769" stop-color="#0cac28"/><stop offset="0.846" stop-color="#00a84c"/><stop offset="1.000" stop-color="#00a090"/></linearGradient>
<linearGradient id="g54" gradientUnits="userSpaceOnUse" x1="0" y1="256.7" x2="0" y2="477.4"><stop offset="0.000" stop-color="#f01010"/><stop offset="0.077" stop-color="#f03408"/><stop offset="0.154" stop-color="#f26c08"/><stop offset="0.231" stop-color="#f2a808"/><stop offset="0.308" stop-color="#f0d408"/><stop offset="0.385" stop-color="#d8e608"/><stop offset="0.462" stop-color="#a8d608"/><stop offset="0.538" stop-color="#74c608"/><stop offset="0.615" stop-color="#46bc0c"/><stop offset="0.692" stop-color="#1eb214"/><stop offset="0.769" stop-color="#0cac28"/><stop offset="0.846" stop-color="#00a84c"/><stop offset="1.000" stop-color="#00a090"/></linearGradient>
<linearGradient id="g55" gradientUnits="userSpaceOnUse" x1="0" y1="257.5" x2="0" y2="478.6"><stop offset="0.000" stop-color="#f01010"/><stop offset="0.077" stop-color="#f03408"/><stop offset="0.154" stop-color="#f26c08"/><stop offset="0.231" stop-color="#f2a808"/><stop offset="0.308" stop-color="#f0d408"/><stop offset="0.385" stop-color="#d8e608"/><stop offset="0.462" stop-color="#a8d608"/><stop offset="0.538" stop-color="#74c608"/><stop offset="0.615" stop-color="#46bc0c"/><stop offset="0.692" stop-color="#1eb214"/><stop offset="0.769" stop-color="#0cac28"/><stop offset="0.846" stop-color="#00a84c"/><stop offset="1.000" stop-color="#00a090"/></linearGradient>
<linearGradient id="g56" gradientUnits="userSpaceOnUse" x1="0" y1="258.2" x2="0" y2="479.8"><stop offset="0.000" stop-color="#f01010"/><stop offset="0.077" stop-color="#f03408"/><stop offset="0.154" stop-color="#f26c08"/><stop offset="0.231" stop-color="#f2a808"/><stop offset="0.308" stop-color="#f0d408"/><stop offset="0.385" stop-color="#d8e608"/><stop offset="0.462" stop-color="#a8d608"/><stop offset="0.538" stop-color="#74c608"/><stop offset="0.615" stop-color="#46bc0c"/><stop offset="0.692" stop-color="#1eb214"/><stop offset="0.769" stop-color="#0cac28"/><stop offset="0.846" stop-color="#00a84c"/><stop offset="1.000" stop-color="#00a090"/></linearGradient>
<linearGradient id="g57" gradientUnits="userSpaceOnUse" x1="0" y1="259.0" x2="0" y2="481.0"><stop offset="0.000" stop-color="#f01010"/><stop offset="0.077" stop-color="#f03408"/><stop offset="0.154" stop-color="#f26c08"/><stop offset="0.231" stop-color="#f2a808"/><stop offset="0.308" stop-color="#f0d408"/><stop offset="0.385" stop-color="#d8e608"/><stop offset="0.462" stop-color="#a8d608"/><stop offset="0.538" stop-color="#74c608"/><stop offset="0.615" stop-color="#46bc0c"/><stop offset="0.692" stop-color="#1eb214"/><stop offset="0.769" stop-color="#0cac28"/><stop offset="0.846" stop-color="#00a84c"/><stop offset="1.000" stop-color="#00a090"/></linearGradient>
<linearGradient id="g58" gradientUnits="userSpaceOnUse" x1="0" y1="259.8" x2="0" y2="482.1"><stop offset="0.000" stop-color="#f01010"/><stop offset="0.077" stop-color="#f03408"/><stop offset="0.154" stop-color="#f26c08"/><stop offset="0.231" stop-color="#f2a808"/><stop offset="0.308" stop-color="#f0d408"/><stop offset="0.385" stop-color="#d8e608"/><stop offset="0.462" stop-color="#a8d608"/><stop offset="0.538" stop-color="#74c608"/><stop offset="0.615" stop-color="#46bc0c"/><stop offset="0.692" stop-color="#1eb214"/><stop offset="0.769" stop-color="#0cac28"/><stop offset="0.846" stop-color="#00a84c"/><stop offset="1.000" stop-color="#00a090"/></linearGradient>
<linearGradient id="g59" gradientUnits="userSpaceOnUse" x1="0" y1="260.5" x2="0" y2="483.3"><stop offset="0.000" stop-color="#f01010"/><stop offset="0.077" stop-color="#f03408"/><stop offset="0.154" stop-color="#f26c08"/><stop offset="0.231" stop-color="#f2a808"/><stop offset="0.308" stop-color="#f0d408"/><stop offset="0.385" stop-color="#d8e608"/><stop offset="0.462" stop-color="#a8d608"/><stop offset="0.538" stop-color="#74c608"/><stop offset="0.615" stop-color="#46bc0c"/><stop offset="0.692" stop-color="#1eb214"/><stop offset="0.769" stop-color="#0cac28"/><stop offset="0.846" stop-color="#00a84c"/><stop offset="1.000" stop-color="#00a090"/></linearGradient>
<linearGradient id="g60" gradientUnits="userSpaceOnUse" x1="0" y1="261.2" x2="0" y2="484.4"><stop offset="0.000" stop-color="#f01010"/><stop offset="0.077" stop-color="#f03408"/><stop offset="0.154" stop-color="#f26c08"/><stop offset="0.231" stop-color="#f2a808"/><stop offset="0.308" stop-color="#f0d408"/><stop offset="0.385" stop-color="#d8e608"/><stop offset="0.462" stop-color="#a8d608"/><stop offset="0.538" stop-color="#74c608"/><stop offset="0.615" stop-color="#46bc0c"/><stop offset="0.692" stop-color="#1eb214"/><stop offset="0.769" stop-color="#0cac28"/><stop offset="0.846" stop-color="#00a84c"/><stop offset="1.000" stop-color="#00a090"/></linearGradient>
<linearGradient id="g61" gradientUnits="userSpaceOnUse" x1="0" y1="261.9" x2="0" y2="485.6"><stop offset="0.000" stop-color="#f01010"/><stop offset="0.077" stop-color="#f03408"/><stop offset="0.154" stop-color="#f26c08"/><stop offset="0.231" stop-color="#f2a808"/><stop offset="0.308" stop-color="#f0d408"/><stop offset="0.385" stop-color="#d8e608"/><stop offset="0.462" stop-color="#a8d608"/><stop offset="0.538" stop-color="#74c608"/><stop offset="0.615" stop-color="#46bc0c"/><stop offset="0.692" stop-color="#1eb214"/><stop offset="0.769" stop-color="#0cac28"/><stop offset="0.846" stop-color="#00a84c"/><stop offset="1.000" stop-color="#00a090"/></linearGradient>
<linearGradient id="g62" gradientUnits="userSpaceOnUse" x1="0" y1="262.7" x2="0" y2="486.8"><stop offset="0.000" stop-color="#f01010"/><stop offset="0.077" stop-color="#f03408"/><stop offset="0.154" stop-color="#f26c08"/><stop offset="0.231" stop-color="#f2a808"/><stop offset="0.308" stop-color="#f0d408"/><stop offset="0.385" stop-color="#d8e608"/><stop offset="0.462" stop-color="#a8d608"/><stop offset="0.538" stop-color="#74c608"/><stop offset="0.615" stop-color="#46bc0c"/><stop offset="0.692" stop-color="#1eb214"/><stop offset="0.769" stop-color="#0cac28"/><stop offset="0.846" stop-color="#00a84c"/><stop offset="1.000" stop-color="#00a090"/></linearGradient>
<linearGradient id="g63" gradientUnits="userSpaceOnUse" x1="0" y1="263.5" x2="0" y2="488.0"><stop offset="0.000" stop-color="#f01010"/><stop offset="0.077" stop-color="#f03408"/><stop offset="0.154" stop-color="#f26c08"/><stop offset="0.231" stop-color="#f2a808"/><stop offset="0.308" stop-color="#f0d408"/><stop offset="0.385" stop-color="#d8e608"/><stop offset="0.462" stop-color="#a8d608"/><stop offset="0.538" stop-color="#74c608"/><stop offset="0.615" stop-color="#46bc0c"/><stop offset="0.692" stop-color="#1eb214"/><stop offset="0.769" stop-color="#0cac28"/><stop offset="0.846" stop-color="#00a84c"/><stop offset="1.000" stop-color="#00a090"/></linearGradient>
<linearGradient id="g64" gradientUnits="userSpaceOnUse" x1="0" y1="264.3" x2="0" y2="489.1"><stop offset="0.000" stop-color="#f01010"/><stop offset="0.077" stop-color="#f03408"/><stop offset="0.154" stop-color="#f26c08"/><stop offset="0.231" stop-color="#f2a808"/><stop offset="0.308" stop-color="#f0d408"/><stop offset="0.385" stop-color="#d8e608"/><stop offset="0.462" stop-color="#a8d608"/><stop offset="0.538" stop-color="#74c608"/><stop offset="0.615" stop-color="#46bc0c"/><stop offset="0.692" stop-color="#1eb214"/><stop offset="0.769" stop-color="#0cac28"/><stop offset="0.846" stop-color="#00a84c"/><stop offset="1.000" stop-color="#00a090"/></linearGradient>
<linearGradient id="g65" gradientUnits="userSpaceOnUse" x1="0" y1="265.0" x2="0" y2="490.3"><stop offset="0.000" stop-color="#f01010"/><stop offset="0.077" stop-color="#f03408"/><stop offset="0.154" stop-color="#f26c08"/><stop offset="0.231" stop-color="#f2a808"/><stop offset="0.308" stop-color="#f0d408"/><stop offset="0.385" stop-color="#d8e608"/><stop offset="0.462" stop-color="#a8d608"/><stop offset="0.538" stop-color="#74c608"/><stop offset="0.615" stop-color="#46bc0c"/><stop offset="0.692" stop-color="#1eb214"/><stop offset="0.769" stop-color="#0cac28"/><stop offset="0.846" stop-color="#00a84c"/><stop offset="1.000" stop-color="#00a090"/></linearGradient>
<linearGradient id="g66" gradientUnits="userSpaceOnUse" x1="0" y1="265.7" x2="0" y2="491.4"><stop offset="0.000" stop-color="#f01010"/><stop offset="0.077" stop-color="#f03408"/><stop offset="0.154" stop-color="#f26c08"/><stop offset="0.231" stop-color="#f2a808"/><stop offset="0.308" stop-color="#f0d408"/><stop offset="0.385" stop-color="#d8e608"/><stop offset="0.462" stop-color="#a8d608"/><stop offset="0.538" stop-color="#74c608"/><stop offset="0.615" stop-color="#46bc0c"/><stop offset="0.692" stop-color="#1eb214"/><stop offset="0.769" stop-color="#0cac28"/><stop offset="0.846" stop-color="#00a84c"/><stop offset="1.000" stop-color="#00a090"/></linearGradient>
<linearGradient id="g67" gradientUnits="userSpaceOnUse" x1="0" y1="266.4" x2="0" y2="492.5"><stop offset="0.000" stop-color="#f01010"/><stop offset="0.077" stop-color="#f03408"/><stop offset="0.154" stop-color="#f26c08"/><stop offset="0.231" stop-color="#f2a808"/><stop offset="0.308" stop-color="#f0d408"/><stop offset="0.385" stop-color="#d8e608"/><stop offset="0.462" stop-color="#a8d608"/><stop offset="0.538" stop-color="#74c608"/><stop offset="0.615" stop-color="#46bc0c"/><stop offset="0.692" stop-color="#1eb214"/><stop offset="0.769" stop-color="#0cac28"/><stop offset="0.846" stop-color="#00a84c"/><stop offset="1.000" stop-color="#00a090"/></linearGradient>
<linearGradient id="g68" gradientUnits="userSpaceOnUse" x1="0" y1="267.0" x2="0" y2="493.5"><stop offset="0.000" stop-color="#f01010"/><stop offset="0.077" stop-color="#f03408"/><stop offset="0.154" stop-color="#f26c08"/><stop offset="0.231" stop-color="#f2a808"/><stop offset="0.308" stop-color="#f0d408"/><stop offset="0.385" stop-color="#d8e608"/><stop offset="0.462" stop-color="#a8d608"/><stop offset="0.538" stop-color="#74c608"/><stop offset="0.615" stop-color="#46bc0c"/><stop offset="0.692" stop-color="#1eb214"/><stop offset="0.769" stop-color="#0cac28"/><stop offset="0.846" stop-color="#00a84c"/><stop offset="1.000" stop-color="#00a090"/></linearGradient>
<linearGradient id="g69" gradientUnits="userSpaceOnUse" x1="0" y1="267.5" x2="0" y2="494.4"><stop offset="0.000" stop-color="#f01010"/><stop offset="0.077" stop-color="#f03408"/><stop offset="0.154" stop-color="#f26c08"/><stop offset="0.231" stop-color="#f2a808"/><stop offset="0.308" stop-color="#f0d408"/><stop offset="0.385" stop-color="#d8e608"/><stop offset="0.462" stop-color="#a8d608"/><stop offset="0.538" stop-color="#74c608"/><stop offset="0.615" stop-color="#46bc0c"/><stop offset="0.692" stop-color="#1eb214"/><stop offset="0.769" stop-color="#0cac28"/><stop offset="0.846" stop-color="#00a84c"/><stop offset="1.000" stop-color="#00a090"/></linearGradient>
<linearGradient id="g70" gradientUnits="userSpaceOnUse" x1="0" y1="267.9" x2="0" y2="495.3"><stop offset="0.000" stop-color="#f01010"/><stop offset="0.077" stop-color="#f03408"/><stop offset="0.154" stop-color="#f26c08"/><stop offset="0.231" stop-color="#f2a808"/><stop offset="0.308" stop-color="#f0d408"/><stop offset="0.385" stop-color="#d8e608"/><stop offset="0.462" stop-color="#a8d608"/><stop offset="0.538" stop-color="#74c608"/><stop offset="0.615" stop-color="#46bc0c"/><stop offset="0.692" stop-color="#1eb214"/><stop offset="0.769" stop-color="#0cac28"/><stop offset="0.846" stop-color="#00a84c"/><stop offset="1.000" stop-color="#00a090"/></linearGradient>
<linearGradient id="g71" gradientUnits="userSpaceOnUse" x1="0" y1="268.3" x2="0" y2="496.0"><stop offset="0.000" stop-color="#f01010"/><stop offset="0.077" stop-color="#f03408"/><stop offset="0.154" stop-color="#f26c08"/><stop offset="0.231" stop-color="#f2a808"/><stop offset="0.308" stop-color="#f0d408"/><stop offset="0.385" stop-color="#d8e608"/><stop offset="0.462" stop-color="#a8d608"/><stop offset="0.538" stop-color="#74c608"/><stop offset="0.615" stop-color="#46bc0c"/><stop offset="0.692" stop-color="#1eb214"/><stop offset="0.769" stop-color="#0cac28"/><stop offset="0.846" stop-color="#00a84c"/><stop offset="1.000" stop-color="#00a090"/></linearGradient>
<linearGradient id="g72" gradientUnits="userSpaceOnUse" x1="0" y1="268.5" x2="0" y2="496.7"><stop offset="0.000" stop-color="#f01010"/><stop offset="0.077" stop-color="#f03408"/><stop offset="0.154" stop-color="#f26c08"/><stop offset="0.231" stop-color="#f2a808"/><stop offset="0.308" stop-color="#f0d408"/><stop offset="0.385" stop-color="#d8e608"/><stop offset="0.462" stop-color="#a8d608"/><stop offset="0.538" stop-color="#74c608"/><stop offset="0.615" stop-color="#46bc0c"/><stop offset="0.692" stop-color="#1eb214"/><stop offset="0.769" stop-color="#0cac28"/><stop offset="0.846" stop-color="#00a84c"/><stop offset="1.000" stop-color="#00a090"/></linearGradient>
<linearGradient id="g73" gradientUnits="userSpaceOnUse" x1="0" y1="268.7" x2="0" y2="497.3"><stop offset="0.000" stop-color="#f01010"/><stop offset="0.077" stop-color="#f03408"/><stop offset="0.154" stop-color="#f26c08"/><stop offset="0.231" stop-color="#f2a808"/><stop offset="0.308" stop-color="#f0d408"/><stop offset="0.385" stop-color="#d8e608"/><stop offset="0.462" stop-color="#a8d608"/><stop offset="0.538" stop-color="#74c608"/><stop offset="0.615" stop-color="#46bc0c"/><stop offset="0.692" stop-color="#1eb214"/><stop offset="0.769" stop-color="#0cac28"/><stop offset="0.846" stop-color="#00a84c"/><stop offset="1.000" stop-color="#00a090"/></linearGradient>
<linearGradient id="g74" gradientUnits="userSpaceOnUse" x1="0" y1="268.9" x2="0" y2="497.9"><stop offset="0.000" stop-color="#f01010"/><stop offset="0.077" stop-color="#f03408"/><stop offset="0.154" stop-color="#f26c08"/><stop offset="0.231" stop-color="#f2a808"/><stop offset="0.308" stop-color="#f0d408"/><stop offset="0.385" stop-color="#d8e608"/><stop offset="0.462" stop-color="#a8d608"/><stop offset="0.538" stop-color="#74c608"/><stop offset="0.615" stop-color="#46bc0c"/><stop offset="0.692" stop-color="#1eb214"/><stop offset="0.769" stop-color="#0cac28"/><stop offset="0.846" stop-color="#00a84c"/><stop offset="1.000" stop-color="#00a090"/></linearGradient>
<linearGradient id="g75" gradientUnits="userSpaceOnUse" x1="0" y1="269.0" x2="0" y2="498.4"><stop offset="0.000" stop-color="#f01010"/><stop offset="0.077" stop-color="#f03408"/><stop offset="0.154" stop-color="#f26c08"/><stop offset="0.231" stop-color="#f2a808"/><stop offset="0.308" stop-color="#f0d408"/><stop offset="0.385" stop-color="#d8e608"/><stop offset="0.462" stop-color="#a8d608"/><stop offset="0.538" stop-color="#74c608"/><stop offset="0.615" stop-color="#46bc0c"/><stop offset="0.692" stop-color="#1eb214"/><stop offset="0.769" stop-color="#0cac28"/><stop offset="0.846" stop-color="#00a84c"/><stop offset="1.000" stop-color="#00a090"/></linearGradient>
<linearGradient id="g76" gradientUnits="userSpaceOnUse" x1="0" y1="269.0" x2="0" y2="498.9"><stop offset="0.000" stop-color="#f01010"/><stop offset="0.077" stop-color="#f03408"/><stop offset="0.154" stop-color="#f26c08"/><stop offset="0.231" stop-color="#f2a808"/><stop offset="0.308" stop-color="#f0d408"/><stop offset="0.385" stop-color="#d8e608"/><stop offset="0.462" stop-color="#a8d608"/><stop offset="0.538" stop-color="#74c608"/><stop offset="0.615" stop-color="#46bc0c"/><stop offset="0.692" stop-color="#1eb214"/><stop offset="0.769" stop-color="#0cac28"/><stop offset="0.846" stop-color="#00a84c"/><stop offset="1.000" stop-color="#00a090"/></linearGradient>
<linearGradient id="g77" gradientUnits="userSpaceOnUse" x1="0" y1="268.8" x2="0" y2="499.1"><stop offset="0.000" stop-color="#f01010"/><stop offset="0.077" stop-color="#f03408"/><stop offset="0.154" stop-color="#f26c08"/><stop offset="0.231" stop-color="#f2a808"/><stop offset="0.308" stop-color="#f0d408"/><stop offset="0.385" stop-color="#d8e608"/><stop offset="0.462" stop-color="#a8d608"/><stop offset="0.538" stop-color="#74c608"/><stop offset="0.615" stop-color="#46bc0c"/><stop offset="0.692" stop-color="#1eb214"/><stop offset="0.769" stop-color="#0cac28"/><stop offset="0.846" stop-color="#00a84c"/><stop offset="1.000" stop-color="#00a090"/></linearGradient>
<linearGradient id="g78" gradientUnits="userSpaceOnUse" x1="0" y1="268.1" x2="0" y2="498.8"><stop offset="0.000" stop-color="#f01010"/><stop offset="0.077" stop-color="#f03408"/><stop offset="0.154" stop-color="#f26c08"/><stop offset="0.231" stop-color="#f2a808"/><stop offset="0.308" stop-color="#f0d408"/><stop offset="0.385" stop-color="#d8e608"/><stop offset="0.462" stop-color="#a8d608"/><stop offset="0.538" stop-color="#74c608"/><stop offset="0.615" stop-color="#46bc0c"/><stop offset="0.692" stop-color="#1eb214"/><stop offset="0.769" stop-color="#0cac28"/><stop offset="0.846" stop-color="#00a84c"/><stop offset="1.000" stop-color="#00a090"/></linearGradient>
<linearGradient id="g79" gradientUnits="userSpaceOnUse" x1="0" y1="267.1" x2="0" y2="498.2"><stop offset="0.000" stop-color="#f01010"/><stop offset="0.077" stop-color="#f03408"/><stop offset="0.154" stop-color="#f26c08"/><stop offset="0.231" stop-color="#f2a808"/><stop offset="0.308" stop-color="#f0d408"/><stop offset="0.385" stop-color="#d8e608"/><stop offset="0.462" stop-color="#a8d608"/><stop offset="0.538" stop-color="#74c608"/><stop offset="0.615" stop-color="#46bc0c"/><stop offset="0.692" stop-color="#1eb214"/><stop offset="0.769" stop-color="#0cac28"/><stop offset="0.846" stop-color="#00a84c"/><stop offset="1.000" stop-color="#00a090"/></linearGradient>
<linearGradient id="g80" gradientUnits="userSpaceOnUse" x1="0" y1="266.0" x2="0" y2="497.6"><stop offset="0.000" stop-color="#f01010"/><stop offset="0.077" stop-color="#f03408"/><stop offset="0.154" stop-color="#f26c08"/><stop offset="0.231" stop-color="#f2a808"/><stop offset="0.308" stop-color="#f0d408"/><stop offset="0.385" stop-color="#d8e608"/><stop offset="0.462" stop-color="#a8d608"/><stop offset="0.538" stop-color="#74c608"/><stop offset="0.615" stop-color="#46bc0c"/><stop offset="0.692" stop-color="#1eb214"/><stop offset="0.769" stop-color="#0cac28"/><stop offset="0.846" stop-color="#00a84c"/><stop offset="1.000" stop-color="#00a090"/></linearGradient>
<linearGradient id="g81" gradientUnits="userSpaceOnUse" x1="0" y1="265.0" x2="0" y2="497.0"><stop offset="0.000" stop-color="#f01010"/><stop offset="0.077" stop-color="#f03408"/><stop offset="0.154" stop-color="#f26c08"/><stop offset="0.231" stop-color="#f2a808"/><stop offset="0.308" stop-color="#f0d408"/><stop offset="0.385" stop-color="#d8e608"/><stop offset="0.462" stop-color="#a8d608"/><stop offset="0.538" stop-color="#74c608"/><stop offset="0.615" stop-color="#46bc0c"/><stop offset="0.692" stop-color="#1eb214"/><stop offset="0.769" stop-color="#0cac28"/><stop offset="0.846" stop-color="#00a84c"/><stop offset="1.000" stop-color="#00a090"/></linearGradient>
<linearGradient id="g82" gradientUnits="userSpaceOnUse" x1="0" y1="264.3" x2="0" y2="496.6"><stop offset="0.000" stop-color="#f01010"/><stop offset="0.077" stop-color="#f03408"/><stop offset="0.154" stop-color="#f26c08"/><stop offset="0.231" stop-color="#f2a808"/><stop offset="0.308" stop-color="#f0d408"/><stop offset="0.385" stop-color="#d8e608"/><stop offset="0.462" stop-color="#a8d608"/><stop offset="0.538" stop-color="#74c608"/><stop offset="0.615" stop-color="#46bc0c"/><stop offset="0.692" stop-color="#1eb214"/><stop offset="0.769" stop-color="#0cac28"/><stop offset="0.846" stop-color="#00a84c"/><stop offset="1.000" stop-color="#00a090"/></linearGradient>
<linearGradient id="g83" gradientUnits="userSpaceOnUse" x1="0" y1="264.0" x2="0" y2="496.7"><stop offset="0.000" stop-color="#f01010"/><stop offset="0.077" stop-color="#f03408"/><stop offset="0.154" stop-color="#f26c08"/><stop offset="0.231" stop-color="#f2a808"/><stop offset="0.308" stop-color="#f0d408"/><stop offset="0.385" stop-color="#d8e608"/><stop offset="0.462" stop-color="#a8d608"/><stop offset="0.538" stop-color="#74c608"/><stop offset="0.615" stop-color="#46bc0c"/><stop offset="0.692" stop-color="#1eb214"/><stop offset="0.769" stop-color="#0cac28"/><stop offset="0.846" stop-color="#00a84c"/><stop offset="1.000" stop-color="#00a090"/></linearGradient>
<linearGradient id="g84" gradientUnits="userSpaceOnUse" x1="0" y1="264.0" x2="0" y2="497.2"><stop offset="0.000" stop-color="#f01010"/><stop offset="0.077" stop-color="#f03408"/><stop offset="0.154" stop-color="#f26c08"/><stop offset="0.231" stop-color="#f2a808"/><stop offset="0.308" stop-color="#f0d408"/><stop offset="0.385" stop-color="#d8e608"/><stop offset="0.462" stop-color="#a8d608"/><stop offset="0.538" stop-color="#74c608"/><stop offset="0.615" stop-color="#46bc0c"/><stop offset="0.692" stop-color="#1eb214"/><stop offset="0.769" stop-color="#0cac28"/><stop offset="0.846" stop-color="#00a84c"/><stop offset="1.000" stop-color="#00a090"/></linearGradient>
<linearGradient id="g85" gradientUnits="userSpaceOnUse" x1="0" y1="264.1" x2="0" y2="497.7"><stop offset="0.000" stop-color="#f01010"/><stop offset="0.077" stop-color="#f03408"/><stop offset="0.154" stop-color="#f26c08"/><stop offset="0.231" stop-color="#f2a808"/><stop offset="0.308" stop-color="#f0d408"/><stop offset="0.385" stop-color="#d8e608"/><stop offset="0.462" stop-color="#a8d608"/><stop offset="0.538" stop-color="#74c608"/><stop offset="0.615" stop-color="#46bc0c"/><stop offset="0.692" stop-color="#1eb214"/><stop offset="0.769" stop-color="#0cac28"/><stop offset="0.846" stop-color="#00a84c"/><stop offset="1.000" stop-color="#00a090"/></linearGradient>
<linearGradient id="g86" gradientUnits="userSpaceOnUse" x1="0" y1="264.2" x2="0" y2="498.3"><stop offset="0.000" stop-color="#f01010"/><stop offset="0.077" stop-color="#f03408"/><stop offset="0.154" stop-color="#f26c08"/><stop offset="0.231" stop-color="#f2a808"/><stop offset="0.308" stop-color="#f0d408"/><stop offset="0.385" stop-color="#d8e608"/><stop offset="0.462" stop-color="#a8d608"/><stop offset="0.538" stop-color="#74c608"/><stop offset="0.615" stop-color="#46bc0c"/><stop offset="0.692" stop-color="#1eb214"/><stop offset="0.769" stop-color="#0cac28"/><stop offset="0.846" stop-color="#00a84c"/><stop offset="1.000" stop-color="#00a090"/></linearGradient>
<linearGradient id="g87" gradientUnits="userSpaceOnUse" x1="0" y1="264.4" x2="0" y2="498.9"><stop offset="0.000" stop-color="#f01010"/><stop offset="0.077" stop-color="#f03408"/><stop offset="0.154" stop-color="#f26c08"/><stop offset="0.231" stop-color="#f2a808"/><stop offset="0.308" stop-color="#f0d408"/><stop offset="0.385" stop-color="#d8e608"/><stop offset="0.462" stop-color="#a8d608"/><stop offset="0.538" stop-color="#74c608"/><stop offset="0.615" stop-color="#46bc0c"/><stop offset="0.692" stop-color="#1eb214"/><stop offset="0.769" stop-color="#0cac28"/><stop offset="0.846" stop-color="#00a84c"/><stop offset="1.000" stop-color="#00a090"/></linearGradient>
<linearGradient id="g88" gradientUnits="userSpaceOnUse" x1="0" y1="264.6" x2="0" y2="499.5"><stop offset="0.000" stop-color="#f01010"/><stop offset="0.077" stop-color="#f03408"/><stop offset="0.154" stop-color="#f26c08"/><stop offset="0.231" stop-color="#f2a808"/><stop offset="0.308" stop-color="#f0d408"/><stop offset="0.385" stop-color="#d8e608"/><stop offset="0.462" stop-color="#a8d608"/><stop offset="0.538" stop-color="#74c608"/><stop offset="0.615" stop-color="#46bc0c"/><stop offset="0.692" stop-color="#1eb214"/><stop offset="0.769" stop-color="#0cac28"/><stop offset="0.846" stop-color="#00a84c"/><stop offset="1.000" stop-color="#00a090"/></linearGradient>
<linearGradient id="g89" gradientUnits="userSpaceOnUse" x1="0" y1="264.9" x2="0" y2="500.2"><stop offset="0.000" stop-color="#f01010"/><stop offset="0.077" stop-color="#f03408"/><stop offset="0.154" stop-color="#f26c08"/><stop offset="0.231" stop-color="#f2a808"/><stop offset="0.308" stop-color="#f0d408"/><stop offset="0.385" stop-color="#d8e608"/><stop offset="0.462" stop-color="#a8d608"/><stop offset="0.538" stop-color="#74c608"/><stop offset="0.615" stop-color="#46bc0c"/><stop offset="0.692" stop-color="#1eb214"/><stop offset="0.769" stop-color="#0cac28"/><stop offset="0.846" stop-color="#00a84c"/><stop offset="1.000" stop-color="#00a090"/></linearGradient>
<linearGradient id="g90" gradientUnits="userSpaceOnUse" x1="0" y1="265.1" x2="0" y2="500.8"><stop offset="0.000" stop-color="#f01010"/><stop offset="0.077" stop-color="#f03408"/><stop offset="0.154" stop-color="#f26c08"/><stop offset="0.231" stop-color="#f2a808"/><stop offset="0.308" stop-color="#f0d408"/><stop offset="0.385" stop-color="#d8e608"/><stop offset="0.462" stop-color="#a8d608"/><stop offset="0.538" stop-color="#74c608"/><stop offset="0.615" stop-color="#46bc0c"/><stop offset="0.692" stop-color="#1eb214"/><stop offset="0.769" stop-color="#0cac28"/><stop offset="0.846" stop-color="#00a84c"/><stop offset="1.000" stop-color="#00a090"/></linearGradient>
<linearGradient id="g91" gradientUnits="userSpaceOnUse" x1="0" y1="265.4" x2="0" y2="501.5"><stop offset="0.000" stop-color="#f01010"/><stop offset="0.077" stop-color="#f03408"/><stop offset="0.154" stop-color="#f26c08"/><stop offset="0.231" stop-color="#f2a808"/><stop offset="0.308" stop-color="#f0d408"/><stop offset="0.385" stop-color="#d8e608"/><stop offset="0.462" stop-color="#a8d608"/><stop offset="0.538" stop-color="#74c608"/><stop offset="0.615" stop-color="#46bc0c"/><stop offset="0.692" stop-color="#1eb214"/><stop offset="0.769" stop-color="#0cac28"/><stop offset="0.846" stop-color="#00a84c"/><stop offset="1.000" stop-color="#00a090"/></linearGradient>
<linearGradient id="g92" gradientUnits="userSpaceOnUse" x1="0" y1="265.6" x2="0" y2="502.1"><stop offset="0.000" stop-color="#f01010"/><stop offset="0.077" stop-color="#f03408"/><stop offset="0.154" stop-color="#f26c08"/><stop offset="0.231" stop-color="#f2a808"/><stop offset="0.308" stop-color="#f0d408"/><stop offset="0.385" stop-color="#d8e608"/><stop offset="0.462" stop-color="#a8d608"/><stop offset="0.538" stop-color="#74c608"/><stop offset="0.615" stop-color="#46bc0c"/><stop offset="0.692" stop-color="#1eb214"/><stop offset="0.769" stop-color="#0cac28"/><stop offset="0.846" stop-color="#00a84c"/><stop offset="1.000" stop-color="#00a090"/></linearGradient>
<linearGradient id="g93" gradientUnits="userSpaceOnUse" x1="0" y1="265.8" x2="0" y2="502.8"><stop offset="0.000" stop-color="#f01010"/><stop offset="0.077" stop-color="#f03408"/><stop offset="0.154" stop-color="#f26c08"/><stop offset="0.231" stop-color="#f2a808"/><stop offset="0.308" stop-color="#f0d408"/><stop offset="0.385" stop-color="#d8e608"/><stop offset="0.462" stop-color="#a8d608"/><stop offset="0.538" stop-color="#74c608"/><stop offset="0.615" stop-color="#46bc0c"/><stop offset="0.692" stop-color="#1eb214"/><stop offset="0.769" stop-color="#0cac28"/><stop offset="0.846" stop-color="#00a84c"/><stop offset="1.000" stop-color="#00a090"/></linearGradient>
<linearGradient id="g94" gradientUnits="userSpaceOnUse" x1="0" y1="266.1" x2="0" y2="503.5"><stop offset="0.000" stop-color="#f01010"/><stop offset="0.077" stop-color="#f03408"/><stop offset="0.154" stop-color="#f26c08"/><stop offset="0.231" stop-color="#f2a808"/><stop offset="0.308" stop-color="#f0d408"/><stop offset="0.385" stop-color="#d8e608"/><stop offset="0.462" stop-color="#a8d608"/><stop offset="0.538" stop-color="#74c608"/><stop offset="0.615" stop-color="#46bc0c"/><stop offset="0.692" stop-color="#1eb214"/><stop offset="0.769" stop-color="#0cac28"/><stop offset="0.846" stop-color="#00a84c"/><stop offset="1.000" stop-color="#00a090"/></linearGradient>
</defs>
<g clip-path="url(#cp)">
<rect x="20" y="10" width="675.6" height="365.7" fill="#ebebeb"/>
<polygon points="695.6,10 845.0,10 845.0,452.5 695.6,375.7" fill="url(#rw)"/>
<path d="M20.6 10V375.7M60.2 10V375.7M88.3 10V375.7M110.1 10V375.7M128.0 10V375.7M143.0 10V375.7M156.1 10V375.7M167.6 10V375.7M177.9 10V375.7M245.6 10V375.7M285.2 10V375.7M313.3 10V375.7M335.1 10V375.7M353.0 10V375.7M368.0 10V375.7M381.1 10V375.7M392.6 10V375.7M402.9 10V375.7M470.6 10V375.7M510.2 10V375.7M538.3 10V375.7M560.1 10V375.7M578.0 10V375.7M593.0 10V375.7M606.1 10V375.7M617.6 10V375.7M627.9 10V375.7M695.6 10V375.7M20 19.8H695.6M20 45.2H695.6M20 70.6H695.6M20 96.1H695.6M20 121.5H695.6M20 146.9H695.6M20 172.3H695.6M20 197.7H695.6M20 223.2H695.6M20 248.6H695.6M20 274.0H695.6M20 299.4H695.6M20 324.8H695.6M20 350.3H695.6M20 375.7H695.6" stroke="#b4b4b4" stroke-width="0.9" fill="none"/>
<path d="M20 10H695.6" stroke="#d0d0d0" stroke-width="1" fill="none"/>
<path d="M695.6 10V375.7M725.5 10V391.0M755.4 10V406.4M785.2 10V421.8M815.1 10V437.1M845.0 10V452.5M695.6 19.8L845.0 22.0M695.6 45.2L845.0 52.8M695.6 70.6L845.0 83.5M695.6 96.1L845.0 114.2M695.6 121.5L845.0 145.0M695.6 146.9L845.0 175.8M695.6 172.3L845.0 206.5M695.6 197.7L845.0 237.2M695.6 223.2L845.0 268.0M695.6 248.6L845.0 298.8M695.6 274.0L845.0 329.5M695.6 299.4L845.0 360.2M695.6 324.8L845.0 391.0M695.6 350.3L845.0 421.8M695.6 375.7L845.0 452.5" stroke="#d2d2d2" stroke-width="1" fill="none"/>
<path d="M20.6 375.7L23.0 452.5M60.2 375.7L71.2 452.5M88.3 375.7L105.5 452.5M110.1 375.7L132.0 452.5M128.0 375.7L153.7 452.5M143.0 375.7L172.1 452.5M156.1 375.7L188.0 452.5M167.6 375.7L202.0 452.5M177.9 375.7L214.5 452.5M245.6 375.7L297.0 452.5M285.2 375.7L345.2 452.5M313.3 375.7L379.5 452.5M335.1 375.7L406.0 452.5M353.0 375.7L427.7 452.5M368.0 375.7L446.1 452.5M381.1 375.7L462.0 452.5M392.6 375.7L476.0 452.5M402.9 375.7L488.5 452.5M470.6 375.7L571.0 452.5M510.2 375.7L619.2 452.5M538.3 375.7L653.5 452.5M560.1 375.7L680.0 452.5M578.0 375.7L701.7 452.5M593.0 375.7L720.1 452.5M606.1 375.7L736.0 452.5M617.6 375.7L750.0 452.5M627.9 375.7L762.5 452.5M695.6 375.7L845.0 452.5M20.6 375.7L695.6 375.7M21.1 391.0L725.5 391.0M21.6 406.4L755.4 406.4M22.0 421.8L785.2 421.8M22.5 437.1L815.1 437.1M23.0 452.5L845.0 452.5" stroke="#dcdcdc" stroke-width="1" fill="none"/>
<g stroke="#000" stroke-linejoin="round">
<path fill="url(#g0)" stroke-opacity="0.34" stroke-width="0.85" d="M16.6 375.7l0-150.7 10.8 0.1 9.6 0.4 13 1.1 15 1.6 9.2 1.6 24.1 4.7 14.5 3.1 12 2.9 10.6 2.9 13.5 4.1 9.2 3.1 10.1 3.9 10.7 4.4 11.5 5.2 28.4 13.7 7.8 3 5.3 1.5 8.2 1.5 12.6 1.6 7.2 0.5 8.7 0 42.5-1.3 40-1.7 24.1-1.3 9.7-1 9.6-1.9 7.7-2 5.4-1.7 11.5-4.3 8.2-2.6 8.7-2.5 10.2-2.3 3.8-1.1 6.3-2.5 14-4.6 13.5-5.6 8.2-3.2 4.3-1.4 6.8-1.4 4.3-0.4 6.8 0.4 4.3 0.5 3.4 0.6 12.5 3.5 6.8 2.3 9.2 4.8 10.1 4.3 13 7.3 10.3 5.1 1.7 0.6 1.4 0.2 1-0.4 1.1-0.8 2.8-3 1-0.9 3.8-2.2 2-0.6 3.4 0.1 4.3 0.7 4.4 1.8 2.4 1.5 1.4 1.5 1 1.5 1.2 3.2 0.6 2.7 0.6 6.9 2.2 31.8 0.6 5 0.5 1 4-9.7 2.9-6.4 3.3-6.6 3.4-5.5 3.4-4.4 2.9-2.9 1.9-1.4 1.5-0.8 1.4-0.5 1.3-0.1 0.9 47.4 4.1-17.2 1.9-7 1.9-6.1 2-5.2 1.9-4.3 1.9-3.3 1.5-1.8 1.4-1.2 1-0.3 0.2 0.1 0.9 48.2 3.4-11.8 2.7-8.4 2.9-7.8 2.9-6.6 2.9-5.4 2.9-4 1.5-1.4 1.4-1.1 1.4-0.7 1-0.1 0.4 89.5"/>
<path fill="url(#g1)" stroke-opacity="0.34" stroke-width="0.85" d="M16.6 376.4l0-150.9 10.8 0.1 9.7 0.4 13 1.1 15 1.6 9.2 1.6 24.2 4.8 14.5 3.1 12.1 2.9 10.6 2.8 13.5 4.2 9.2 3.1 10.2 3.9 11.1 4.6 11.6 5.2 29.8 14.4 6 2.2 5.3 1.4 8.2 1.6 12.6 1.5 7.3 0.6 8.7-0.1 42.5-1.3 40.1-1.7 24.2-1.3 9.7-1 9.7-1.9 7.7-2 5.3-1.7 11.6-4.3 8.2-2.6 8.8-2.5 10.1-2.3 3.9-1.1 6.3-2.5 14-4.6 13.5-5.7 8.2-3.1 4.4-1.4 6.8-1.4 4.3-0.4 6.8 0.4 4.3 0.5 3.4 0.6 12.6 3.5 6.8 2.3 9.1 4.8 10.7 4.5 13.5 7.7 9.3 4.8 1.8 0.7 1.4 0.2 1.1-0.4 0.9-0.8 2.8-3.3 1.1-0.9 3.4-2.1 2.4-0.9 3.4 0.1 4.3 0.8 4.4 1.7 2.4 1.5 1.5 1.5 0.9 1.6 1.3 3.2 0.5 2.7 0.7 6.9 2.1 31.7 0.7 5.1 0.4 1 4-9.8 2.9-6.4 3.4-6.5 3.4-5.6 3.4-4.4 2.9-2.9 1.9-1.4 1.4-0.7 1.5-0.5 1.3-0.2 0.9 47.5 3.9-16.4 3.6-12.5 1.9-5.5 1.9-4.5 2-3.6 1.4-2 1.9-1.6 1-0.4 0.3 0.1 0.8 48.3 3.4-11.8 2.8-8.4 2.9-7.9 2.9-6.6 2.9-5.3 2.9-4.1 1.4-1.4 1.5-1.1 1.4-0.6 0.9-0.2 0.4 89.7"/>
<path fill="url(#g2)" stroke-opacity="0.34" stroke-width="0.85" d="M16.6 377.2l0-151.1 10.8 0 9.7 0.5 13.1 1.1 15 1.6 9.2 1.6 24.3 4.8 14.5 3.1 12.1 2.9 10.7 2.9 13.5 4.1 9.3 3.2 10.1 3.8 11.2 4.7 12.6 5.6 28.8 14 6.1 2.1 5.3 1.5 8.2 1.5 12.6 1.6 7.3 0.5 8.7 0 42.7-1.4 40.2-1.6 24.2-1.3 9.7-1 9.7-1.9 7.8-2 5.3-1.7 11.6-4.3 8.3-2.6 8.7-2.5 10.2-2.4 3.8-1.1 6.3-2.4 14.1-4.7 13.6-5.7 8.2-3.1 4.4-1.4 6.7-1.4 4.4-0.4 6.8 0.3 4.3 0.6 3.4 0.6 13.1 3.6 6.8 2.4 8.7 4.6 7.8 3.2 3.4 1.6 16 9.6 6.4 3.7 1.8 0.7 1.5 0.2 1.2-0.5 1.1-1.1 2.4-3.6 1-1.2 3.5-2.2 2.4-0.9 3.4 0.1 4.3 0.8 4.4 1.7 2.4 1.5 1.5 1.5 0.9 1.6 1.3 3.2 0.5 2.7 0.7 6.9 2.1 31.6 0.7 5.1 0.4 0.9 4-9.8 2.9-6.4 3.4-6.6 3.4-5.5 3.4-4.5 2.9-2.8 2-1.4 1.4-0.8 1.5-0.4 1.2-0.1 0.2 2.8 0.8 44.7 3.9-16.6 3.6-12.5 1.9-5.5 1.9-4.5 2-3.5 1.4-2 2-1.6 0.9-0.3 0.3 0.2 0.8 48.2 3.5-11.9 2.7-8.4 2.9-7.9 2.9-6.6 2.9-5.4 2.9-4 1.5-1.4 1.4-1.1 1.5-0.6 0.9 0 0.4 89.9"/>
<path fill="url(#g3)" stroke-opacity="0.34" stroke-width="0.85" d="M16.7 378l0-151.4 10.8 0.1 9.7 0.5 13.1 1.1 15.1 1.7 9.2 1.5 24.3 4.9 14.5 3.1 12.2 2.9 10.7 2.9 14 4.3 9.3 3.1 10.6 4.1 11.7 4.9 13.6 6.1 17.5 8.4 9.2 4.7 1.6 0.4 7.2 2.3 7.7 1.7 13.6 1.8 9.2 0.7 8.8 0 42.7-1.3 40.3-1.6 24.3-1.4 9.7-0.9 9.7-2 7.8-1.9 5.4-1.7 11.6-4.4 8.3-2.6 8.7-2.5 10.2-2.4 3.9-1 6.3-2.5 14.1-4.7 13.6-5.6 8.2-3.2 4.4-1.4 6.8-1.4 4.4-0.4 6.8 0.4 4.4 0.5 3.4 0.6 12.1 3.3 6.3 2.1 2.9 1.3 7.3 3.9 9.7 4.1 5.4 3.1 18.4 12.4 2.2 1.1 1.4 0.1 1.3-0.7 0.9-1.3 2.4-4.5 1-1.4 2.8-2.1 2.6-1.2 1-0.1 2.4 0.1 4.8 0.8 4.4 1.7 2.4 1.5 1.5 1.6 1 1.5 1.2 3.2 0.6 2.7 0.6 6.8 2 29 0.6 6.2 0.3 1.6 0.3 0.6 4.1-9.9 2.9-6.4 3.4-6.6 3.4-5.6 3.4-4.4 2.9-2.8 1.9-1.3 1.5-0.8 1.5-0.4 1.2 0 0.2 3 0.8 44.4 3.9-16.6 3.6-12.6 1.9-5.5 2-4.5 1.9-3.5 1.5-2 0.9-0.9 1-0.6 1-0.2 0.2 0.4 0.9 48 3.4-12 2.8-8.5 2.9-7.9 2.9-6.6 2.9-5.4 2.9-3.9 1.5-1.4 1.4-1.1 1.5-0.5 0.8 0 0.1 0.6 0.1 8.4 0.3 81.3"/>
<path fill="url(#g4)" stroke-opacity="0.34" stroke-width="0.85" d="M16.7 378.8l0-151.6 10.3 0.1 10.2 0.5 13.2 1.1 15.1 1.7 9.2 1.6 24.4 4.9 14.6 3.1 12.1 2.9 10.7 2.9 14.1 4.3 9.8 3.4 10.7 4.1 12.2 5.1 14.1 6.3 23.5 11.4 1.8 1.1 1.6 0.2 7.6 2.5 7.8 1.6 13.6 1.8 8.8 0.7 8.8-0.1 42.8-1.2 40.4-1.6 24.3-1.4 9.7-0.9 9.8-2 7.8-1.9 5.3-1.7 11.7-4.4 8.3-2.6 8.7-2.5 10.3-2.4 3.9-1.1 6.3-2.4 14.1-4.7 13.6-5.7 8.3-3.2 4.4-1.4 6.8-1.4 4.4-0.4 6.8 0.4 4.4 0.5 3.4 0.6 12.1 3.4 6.4 2.1 2.9 1.3 7.3 3.8 10.2 4.4 3.4 2 3.9 2.7 5.4 3.9 10.4 8.5 1.4 0.9 1.4 0.6 1.4 0 1.1-0.8 0.8-1.4 2.4-6 1.3-2 2.1-1.8 2.5-1.2 1-0.2 1.4-0.1 5.4 0.7 3.9 1.3 3.4 1.8 1.4 1.3 1.5 2.1 1.2 3.2 0.6 2.7 0.6 6.8 2 28.7 0.6 6.2 0.3 1.5 0.4 0.6 4-10 2.9-6.5 3.4-6.6 3.5-5.5 3.4-4.4 2.9-2.8 2.9-1.7 1.5-0.5 1.4-0.1 0.4 0.6 0.1 2.6 0.7 44.1 4-16.7 3.6-12.6 1.9-5.5 2-4.5 1.9-3.5 1.5-1.9 1-0.9 0.9-0.5 1-0.1 0.2 0.5 0.9 47.7 3.5-12 2.7-8.5 2.9-8 2.9-6.6 3-5.3 2.9-4 1.4-1.3 1.5-1 1.5-0.5 0.4 0 0.4 0.3 0.2 9.1 0.3 81.4"/>
<path fill="url(#g5)" stroke-opacity="0.34" stroke-width="0.85" d="M16.7 379.5l0-151.7 10.4 0.1 10.2 0.5 13.2 1.2 15.1 1.7 9.3 1.6 24.3 4.9 14.2 3.1 12.2 2.9 10.7 2.8 14.6 4.5 9.8 3.3 10.7 4.1 12.2 5.1 14.7 6.6 22.9 11 2 1.3 1.8 0.2 7.4 2.4 8.3 1.6 13.2 1.7 8.7 0.7 9.3-0.1 42.9-1.2 40-1.5 24.4-1.4 9.8-0.9 9.7-2 7.8-1.9 5.4-1.7 11.7-4.4 8.3-2.6 8.8-2.5 10.2-2.4 3.9-1.1 6.4-2.5 14.1-4.7 13.7-5.6 8.2-3.2 4.4-1.4 6.9-1.4 4.4-0.5 6.8 0.4 4.4 0.5 3.4 0.7 12.2 3.3 6.3 2.1 2.9 1.3 7.4 3.9 7.8 3.2 2.9 1.5 4.4 2.8 5.3 4.1 3.9 3.5 9.1 8.7 1.4 1.1 1.4 0.7 1.3 0 1.1-0.8 1.1-2.4 2.1-6.6 1-2.3 1.5-1.8 2.5-1.6 1.4-0.5 1.5-0.1 5.9 0.6 3.9 1.3 3.4 1.9 1.4 1.3 1.5 2.1 1.2 3.2 0.6 2.7 0.7 6.7 1.9 28.4 0.7 6 0.3 1.5 0.3 0.6 4.1-10.1 2.9-6.5 3.4-6.6 3.4-5.6 3.4-4.3 3-2.7 1.9-1.2 1.5-0.6 1.4-0.3 1 0.2 0.4 0.7 0.1 2.6 0.7 43.7 4-16.9 3.6-12.7 1.9-5.5 2-4.4 1.9-3.5 1.5-1.8 1.5-1.1 0.9-0.3 0.5 0.3 0.3 0.6 0.8 47.4 3.5-12.2 2.7-8.6 3-8 2.9-6.6 2.9-5.3 3-3.9 2.4-1.9 1.5-0.6 0.9 0.1 0.5 0.7 0 2.6 0.4 87.7"/>
<path fill="url(#g6)" stroke-opacity="0.34" stroke-width="0.85" d="M16.7 380.3l0-151.9 10.4 0.1 10.3 0.6 13.2 1.2 15.1 1.8 9.3 1.6 24.4 4.9 26.4 6 10.8 2.9 14.7 4.4 9.7 3.4 11.3 4.2 12.7 5.3 14.6 6.6 22 10.5 2 1.4 1.6 0.1 7.2 2.2 8.8 1.8 13.2 1.6 8.8 0.7 9.3 0 43-1.2 40.1-1.5 24.4-1.3 9.8-1 9.8-1.9 7.8-2 5.4-1.7 11.7-4.4 8.3-2.6 8.8-2.5 10.3-2.4 3.9-1.1 6.3-2.5 14.2-4.7 13.7-5.7 8.3-3.2 4.4-1.4 6.8-1.4 4.4-0.4 6.9 0.4 4.4 0.5 3.4 0.6 12.2 3.4 6.4 2.1 2.9 1.3 6.8 3.6 8.8 3.7 3.5 1.9 4.4 3.1 4.9 4.2 3.4 3.5 9 10.3 1.7 1.4 1.5 0.7 1.1 0 0.7-0.4 0.3-0.4 0.8-2.1 2-7.8 1.1-3.2 1.4-2.3 2.1-1.8 1.7-0.8 1.5-0.3 2.4 0.1 3.5 0.5 1.9 0.5 2 0.7 2.4 1.1 1.5 0.9 1.5 1.3 1.4 2.2 1.3 3.2 0.5 2.7 0.7 6.6 1.9 28 0.7 5.9 0.3 1.5 0.3 0.5 4.1-10.2 2.9-6.6 3.5-6.6 2.9-4.8 3.4-4.4 2.9-2.8 2-1.3 1.5-0.6 1.4-0.3 1 0.1 0.5 0.4 0.3 0.5 0.2 2.3 0.7 43.7 4-17.1 3.6-12.7 1.9-5.5 1.5-3.4 2-3.6 1.4-2 1.5-1.2 1-0.4 0.5 0 0.5 0.5 0.2 0.7 0.8 46.8 3.5-12.3 2.8-8.7 2.9-8 3-6.6 2.9-5.3 1.5-2 1.4-1.7 1.5-1.2 1.5-0.8 0.9-0.2 1 0.3 0.4 0.8 0.1 2.6 0.4 87.8"/>
<path fill="url(#g7)" stroke-opacity="0.34" stroke-width="0.85" d="M16.8 381.1l0-152.1 9.8 0.2 10.8 0.6 13.2 1.3 15.2 1.8 9.3 1.6 24 4.9 26.5 5.9 11.3 3.1 14.7 4.4 9.8 3.3 11.2 4.3 12.8 5.3 15.1 6.8 21.6 10.2 2 1.5 1.8 0 7.5 2.2 8.8 1.7 12.7 1.6 8.3 0.6 9.8 0 42.7-1.1 40.1-1.4 24.5-1.3 10.3-1 9.8-2 7.8-2 5.4-1.7 11.8-4.3 8.3-2.7 8.8-2.5 10.3-2.4 3.9-1.1 6.4-2.5 14.2-4.7 13.7-5.7 8.3-3.2 4.5-1.4 6.8-1.4 4.4-0.4 6.9 0.4 4.4 0.5 3.4 0.6 12.8 3.5 6.3 2.2 9.8 5 8.8 3.7 3.5 1.9 4.4 3.4 4.4 4.2 3.9 4.6 8.3 10.9 2 2 1.5 0.8 1 0 0.7-0.3 0.4-0.5 0.8-2.5 2-9.3 1-3.8 1.4-2.6 1.8-1.7 1.6-0.9 1.5-0.4 2-0.1 2.9 0.4 2.4 0.4 2 0.6 2.9 1.3 2 1.1 1.5 1.3 1.4 2.2 1.3 3.2 0.5 2.7 0.7 6.5 2 27.6 0.6 5.7 0.3 1.5 0.4 0.4 4-10.2 3-6.6 3.4-6.7 2.9-4.7 3.5-4.4 1.9-1.9 1.5-1.1 1.5-0.9 1.4-0.5 1.5-0.2 1 0.4 0.5 0.4 0.3 0.7 0.2 2.2 0.7 43.1 4-17.3 3.6-12.8 2-5.5 1.4-3.3 2-3.6 1.5-1.9 1.4-1.1 1-0.2 0.5 0.2 0.5 0.6 0.2 0.9 0.9 46.2 3.5-12.5 2.7-8.8 3-8 2.4-5.6 3-5.5 1.4-2.1 1.5-1.8 1.5-1.3 1-0.6 1.4-0.4 1 0.1 0.5 0.4 0.4 0.9 0.1 2.7 0.3 87.8"/>
<path fill="url(#g8)" stroke-opacity="0.34" stroke-width="0.85" d="M16.8 381.8l0-152.1 9.4 0.1 10.8 0.7 13.2 1.3 15.8 1.9 9.3 1.7 24 4.9 26.1 5.9 11.2 3 14.8 4.4 9.8 3.3 11.8 4.4 13.2 5.5 15.7 7 20.6 9.6 2 1.7 1.9-0.2 7.4 2.3 9.4 1.7 12.7 1.5 7.9 0.6 7.8 0 44.7-1.1 39.8-1.4 24.5-1.2 10.3-1 10.3-2 7.9-2 5.4-1.7 11.8-4.4 8.3-2.6 8.9-2.5 10.3-2.4 3.9-1.1 6.4-2.5 14.2-4.7 13.7-5.7 8.4-3.2 4.4-1.4 6.9-1.4 4.4-0.5 6.9 0.4 4.4 0.5 3.4 0.7 12.8 3.4 6.4 2.2 9.3 4.8 9.3 4 3.5 2 4.4 3.5 4.4 4.5 3.9 5.2 8.6 12.8 1.8 1.9 0.9 0.7 0.9 0.3 0.7-0.1 0.7-0.3 0.7-1.5 3.4-16.8 1.2-2.9 0.8-1.1 0.9-0.9 1.5-1 2-0.6 3.9 0.2 3 0.4 1.9 0.5 3.5 1.5 1.9 1.1 1.5 1.4 1.5 2.1 1.2 3.2 0.6 2.7 0.6 6.5 2 27.1 0.7 5.6 0.3 1.4 0.3 0.4 4.1-10.4 2.9-6.7 3.5-6.6 3.4-5.4 3.4-4.1 3-2.4 1.5-0.7 1.4-0.5 1.5 0.1 1 0.5 0.5 0.5 0.3 0.8 0.1 2.2 0.8 42.4 3.7-16.6 3.4-12.3 2-5.7 1.5-3.6 1.9-3.7 1.5-2 1.5-1.2 0.9-0.3 1 0.4 0.5 0.8 0.3 0.9 0.8 45.5 3.5-12.7 2.8-8.8 2.9-8.1 2.5-5.6 2.9-5.4 1.5-2.1 1.5-1.6 1.4-1.2 1.5-0.7 1-0.1 1 0.4 0.5 0.5 0.4 0.9 0.1 2.8 0.3 87.6"/>
<path fill="url(#g9)" stroke-opacity="0.34" stroke-width="0.85" d="M16.8 382.6l0-152.2 8.9 0.1 10.9 0.7 12.7 1.3 16.3 2.1 9.3 1.6 24.1 5 26.1 5.9 11.8 3.2 14.8 4.4 9.8 3.3 11.8 4.4 13.8 5.6 16.2 7.2 19.6 9.1 2.1 1.8 1.8-0.3 7.5 2.2 9.4 1.7 12.8 1.5 7.8 0.5 7.4 0.1 45.3-1 39.8-1.3 24.6-1.3 10.3-0.9 9.9-1.9 7.9-2 5.9-1.9 12.3-4.5 7.8-2.5 8.9-2.5 10.3-2.4 3.9-1.1 6.4-2.5 14.3-4.7 13.8-5.7 8.3-3.2 4.5-1.4 6.9-1.4 4.4-0.4 6.9 0.3 4.4 0.5 3.4 0.7 12.8 3.4 6.4 2.2 9.4 4.7 9.3 4 4 2.4 4.4 3.8 3.9 4.4 4 5.7 8.6 14.3 1.8 2.1 0.9 0.7 0.8 0.4 0.7 0 0.7-0.4 0.7-1.6 3.5-19.1 1.1-3.2 1.4-1.9 1.5-1.1 1.9-0.8 1.4-0.1 2.5 0.1 3.5 0.5 1.9 0.6 3.5 1.4 1.9 1.2 1.5 1.3 1.5 2.2 1.2 3.2 0.6 2.6 0.6 6.5 2 26.6 0.7 5.4 0.3 1.4 0.3 0.3 4.1-10.5 3-6.7 3.4-6.7 3-4.6 3.4-4.2 3-2.4 1.4-0.7 1.5-0.4 1.5 0.1 1 0.4 1 1 0.3 1 0.9 43.6 3.7-16.9 3.4-12.3 2-5.7 1.5-3.5 1.9-3.6 1.5-1.9 1.5-1 1-0.1 1 0.7 0.4 0.8 0.3 1 0.8 44.7 3.4-12.2 2.9-9.5 3-8.2 2.9-6.6 3-5 2.4-2.8 1.5-1.1 1.5-0.5 1 0.1 1 0.6 0.5 0.6 0.4 1 0 2.8 0.4 87.4"/>
<path fill="url(#g10)" stroke-opacity="0.34" stroke-width="0.85" d="M16.8 383.4l0-152.3 8.5 0.2 11.3 0.8 12.8 1.4 16.3 2 9.4 1.8 23.6 4.9 26.2 6 11.8 3.1 15.3 4.6 10.3 3.5 11.9 4.4 14.3 5.8 17.2 7.6 17.7 8.2 0.7 0.4 1.4 1.4 1.8-0.4 7.5 2.2 9.9 1.7 12.3 1.3 7.9 0.6 6.9 0 45.8-0.8 40-1.3 24.1-1.2 10.9-1 9.8-1.9 7.9-2 5.9-1.8 12.3-4.6 7.9-2.4 8.9-2.6 10.4-2.3 3.9-1.1 6.4-2.5 14.3-4.7 13.8-5.7 8.4-3.2 4.4-1.4 6.9-1.4 4.5-0.5 6.9 0.4 4.4 0.5 3.5 0.6 12.8 3.4 6.4 2.1 9.4 4.7 9.3 4 2.5 1.4 2 1.4 2.4 2.1 2 2 3.9 4.9 3.5 5.5 8.4 15.1 2 2.8 0.9 0.8 0.9 0.4 0.7 0 0.7-0.4 0.7-1.7 0.7-3.8 1.8-12.2 0.9-5.2 1-3.2 0.6-1 0.9-1.3 1.5-1.2 2-0.8 0.9-0.1 2.5 0.1 3.9 0.5 1.5 0.4 3.5 1.4 2.4 1.4 1.5 1.3 1.5 2.1 1.3 3.3 0.5 2.6 0.7 6.4 2 26.1 0.6 5.3 0.3 1.3 0.4 0.3 3.6-9.4 2.9-6.9 3.5-6.9 2.9-4.8 3.5-4.3 2.9-2.4 1.5-0.7 1.5-0.3 1.5 0.1 1 0.4 1 0.8 0.4 0.7 0.4 1.1 0.9 42.6 3.7-17.1 3.4-12.4 2-5.7 1.5-3.5 1.5-2.7 1.4-1.9 1.5-1.1 0.5-0.2 1 0.2 1 0.9 0.5 0.9 0.2 1.1 0.9 43.8 3.3-12.4 3-9.7 2.9-8.2 2.5-5.6 3-5.1 2.4-3 1.5-1.1 1-0.4 1.5 0 0.9 0.5 1 1.2 0.5 1.6 0.4 89.4"/>
<path fill="url(#g11)" stroke-opacity="0.34" stroke-width="0.85" d="M16.9 384.1l0-152.2 7.9 0.2 11.4 0.8 13.3 1.5 16.3 2.2 9.4 1.8 23.7 5 25.7 5.9 11.9 3.2 15.3 4.6 10.4 3.4 12.3 4.6 18.8 7.7 22.7 10.1 8.1 3.7 1.8 1.8 1.4-0.5 0.5 0 7.5 2.1 10.4 1.8 11.8 1.2 7.4 0.5 6.9 0.1 46.5-0.8 40-1.2 24.2-1.2 10.9-1 9.9-1.9 7.9-1.9 5.9-1.9 12.3-4.5 7.9-2.5 8.9-2.5 10.4-2.4 4-1.1 6.4-2.4 14.3-4.7 13.8-5.7 8.4-3.2 4.5-1.4 6.9-1.5 4.5-0.4 6.9 0.3 4.4 0.5 3.5 0.6 12.8 3.4 6.4 2.1 9.4 4.7 9.4 3.9 2.5 1.4 2 1.4 2.4 2.2 2 2.1 4 5.1 3.4 5.8 8.4 16.4 2.1 2.9 0.9 0.8 0.8 0.5 0.7 0 0.8-0.4 0.6-1.8 0.8-4.1 1.7-13.3 1-5.6 1-3.4 0.5-1.2 1-1.3 1.5-1.2 1.9-0.9 1-0.1 2.5 0.1 3.9 0.5 1.5 0.4 3.5 1.4 2.5 1.4 1.4 1.3 1.5 2.2 1.3 3.2 0.5 2.6 0.7 6.3 2 25.5 0.5 4.3 0.6 2.5 0.2 0.1 0.2-0.3 3.9-10.5 3.5-7.9 2.9-5.6 3-4.6 3-3.4 1.4-1.3 1.5-0.9 1.5-0.6 1-0.1 1.5 0.2 1.5 0.7 0.9 0.9 0.5 0.8 0.4 1.1 0.9 41.6 3.5-16.5 3.1-11.8 2-6 1.5-3.6 1.5-2.8 1.5-2.1 1.4-1.2 0.5-0.1 1 0.1 1 0.7 0.5 0.6 0.5 1.1 0.2 1.1 0.9 42.9 3.3-12.7 3-9.8 3-8.2 2.4-5.6 3-5 2.5-2.8 1.5-0.9 1-0.2 1.4 0.3 1 0.6 1 1.3 0.5 1.8 0.4 88.8"/>
<path fill="url(#g12)" stroke-opacity="0.34" stroke-width="0.85" d="M16.9 384.9l0-152.1 7.5 0.2 11.3 0.9 12.9 1.5 16.8 2.4 9.5 1.7 23.2 5 25.8 6 12.3 3.3 15.4 4.6 10.9 3.6 12.4 4.5 18.8 7.6 23.2 10.3 7.6 3.4 1.9 2 1.4-0.6 0.4 0 7.1 1.9 7.9 1.3 12.4 1.4 9.9 0.8 6.4 0 47-0.6 40.1-1.1 24.3-1.2 10.9-1 9.9-1.9 7.9-2 6-1.8 11.8-4.4 8.5-2.6 8.9-2.5 10.4-2.4 3.9-1.1 6.5-2.4 14.3-4.7 13.9-5.7 8.4-3.2 4.5-1.4 6.9-1.5 4.4-0.4 8 0.4 3.9 0.5 3.5 0.6 12.9 3.3 5.9 2 9.4 4.6 9.4 3.9 2.5 1.4 2 1.4 2.4 2.2 2 2.2 4 5.3 3.5 6.1 8.4 17.2 2 3.1 0.9 0.8 1 0.6 0.6-0.1 0.7-0.3 0.7-1.9 0.7-4.4 2.5-18.7 1.1-4.5 0.7-1.6 0.7-1.2 1.4-1.3 1.8-0.9 1.5-0.3 2 0 3.9 0.5 2 0.5 3.5 1.4 2.5 1.4 1.5 1.3 1.4 2.1 1 2.4 0.9 3.4 0.6 6.3 2 25.1 0.5 4.1 0.6 2.5 0.2 0 0.2-0.2 3.4-9.5 3.5-8.2 3-5.8 3-4.6 2.9-3.5 1.5-1.3 1.5-0.8 1.5-0.5 1-0.1 1.5 0.2 1.4 0.7 1.5 1.4 0.5 0.8 0.4 1.2 0.9 40.5 3.5-16.8 3.1-11.9 2-5.9 1.5-3.6 1.5-2.7 1.5-1.9 1.5-0.9 1.5 0.4 0.9 0.8 0.5 0.7 0.8 2.4 0.8 41.8 3.1-12 2.8-9.3 2.9-8.6 2.5-5.7 1.5-2.9 1.5-2.3 1.5-1.9 1-0.9 1.4-0.9 1-0.2 1.5 0.3 1 0.6 1 1 0.5 0.8 0.4 1.8 0.4 88.3"/>
<path fill="url(#g13)" stroke-opacity="0.34" stroke-width="0.85" d="M16.9 385.7l0-152 7 0.2 11.9 1.1 12.9 1.6 16.9 2.4 9.4 1.9 22.8 4.9 25.3 6 12.9 3.4 15.4 4.6 11.4 3.7 12.4 4.5 22.3 9.1 27 11.8 0.9 0.6 1.4 1.7 1.4-0.7 0.5 0 7 1.8 8 1.3 12.4 1.4 9.9 0.7 6 0.1 47.6-0.6 40.2-1 24.3-1.2 10.9-1 9.9-1.9 8-1.9 5.9-1.9 11.9-4.3 8.5-2.7 8.9-2.5 10.4-2.3 4-1.1 6.4-2.4 14.4-4.7 13.9-5.7 8.4-3.2 4.5-1.4 7-1.4 4.4-0.5 8 0.4 3.9 0.4 3.5 0.7 12.9 3.2 6.5 2.1 8.9 4.4 9.4 3.8 2.5 1.4 2.5 1.9 3.9 4 4 5.4 3.5 6.3 8.4 17.7 2.1 3.2 0.9 0.9 1 0.5 0.6 0 0.7-0.3 0.7-2 0.7-4.5 2.5-19.5 1.1-4.6 0.6-1.7 0.8-1.3 1.4-1.3 1.8-0.9 1.5-0.3 2 0.1 3.9 0.4 2 0.5 4 1.6 2 1.2 1.5 1.3 1.5 2.2 1 2.4 0.8 3.3 0.6 6.2 2 24.7 0.5 4 0.6 2.3 0.3 0 0.1-0.2 3.5-9.7 3.5-8.2 2.9-5.8 3-4.5 3-3.3 2.5-1.6 1.5-0.5 1 0.1 1.4 0.2 1.5 0.7 1 0.7 1 1.1 0.9 2.1 0.9 39.4 3.5-17.1 3.1-12.1 1.5-4.5 1.5-3.7 1.5-2.9 1.5-1.9 1.5-0.9 1 0.1 1 0.5 1 1 0.5 0.8 0.7 2.5 0.9 40.7 3.1-12.3 2.7-9.5 3-8.6 2.5-5.7 2.4-4.3 1.5-1.9 1-0.9 1.5-0.9 1-0.2 1.5 0.4 1 0.5 1.5 1.5 0.5 0.9 0.4 1.9 0.4 87.6"/>
<path fill="url(#g14)" stroke-opacity="0.34" stroke-width="0.85" d="M16.9 386.4l0-151.7 4 0 14.5 1.3 12.9 1.7 17.4 2.7 9.4 1.9 23.4 5.1 25.4 6.1 12.9 3.4 15.9 4.8 10.9 3.6 13 4.7 21.8 8.8 26.6 11.5 0.9 0.6 1.4 1.8 0.5-0.2 0.9-0.6 0.4-0.1 6.6 1.7 7 1.2 7.4 0.9 12.5 1.1 8.9 0.2 57.7-0.6 39.8-1 18.9-1.1 8.4-0.8 10-2 7.4-1.8 5.5-1.7 12.4-4.5 8.5-2.7 8.9-2.5 10.5-2.3 3.9-1 6.5-2.5 14.4-4.6 13.9-5.7 8-3 4-1.3 9.4-2 3-0.2 3.5 0 7.4 0.6 3.5 0.6 12 2.9 5.4 1.5 4.5 1.6 8 3.9 7.9 3.1 2.5 1.3 2 1.3 2.5 2 2 2 2.5 3 1.9 2.8 4 7.2 6.5 13.9 2.2 4.5 2.2 3.1 1 0.8 0.8 0.3 1-0.5 0.8-2 3.2-24.3 0.7-3.6 1-2.9 0.8-1.2 1-1 1.2-0.8 1.5-0.6 1-0.1 2 0 4.4 0.6 2 0.6 2.5 1 2 0.9 1.5 1.1 1 0.9 1 1.3 1.5 3.2 0.6 2.2 0.4 2.7 2.5 28.8 0.5 3.8 0.6 2.2 0.3-0.3 3.5-9.8 3.5-8.3 3.5-6.5 3-4.3 1.5-1.6 1.5-1.2 1.4-0.8 1-0.2 1.5 0 2 0.5 1.5 0.8 1.5 1.3 1 1.6 0.4 1.3 0.9 38.2 3.2-16.1 3-11.9 1.4-4.8 1.5-3.9 1.5-3 1.5-2 1-0.8 0.5-0.1 1 0.1 1 0.4 1.5 1.5 0.5 0.9 0.7 2.4 0.9 39.8 3.1-12.6 2.8-9.6 2.9-8.7 3-6.6 2.5-3.8 1.5-1.5 1-0.6 1-0.3 2 0.3 1.5 0.9 1 1 1 1.7 0.4 1.9 0.4 86.8"/>
<path fill="url(#g15)" stroke-opacity="0.34" stroke-width="0.85" d="M17 387.2l0-151.5 4 0 13.9 1.4 13.5 1.9 17.4 2.8 9.5 1.9 22.9 5.2 24.9 5.9 13.5 3.6 15.9 4.8 11.5 3.8 12.9 4.6 21.9 8.8 26.6 11.3 1 0.6 1.4 1.9 0.4-0.2 0.9-0.7 0.6-0.1 6.5 1.6 7 1.1 7.5 0.9 11.9 1 9 0.3 58.8-0.4 39.3-1 19-1 8.4-0.9 9.5-1.8 7.5-1.8 6-1.9 12.9-4.7 8-2.4 9-2.5 10.4-2.3 4-1 6.5-2.5 14.4-4.6 14-5.6 8-3.1 3.9-1.3 9.5-2 3-0.2 3.5 0 7.5 0.6 3.4 0.5 12.5 3 5.5 1.5 4 1.5 7.9 3.8 8 3.1 2.5 1.2 2 1.3 2.5 2 2 1.9 2.5 3 2 2.9 3.9 7.1 6.5 13.9 2.3 4.5 2.1 3.1 1.1 0.8 0.7 0.3 1.1-0.5 0.7-2 3.2-24.3 0.8-3.7 1-2.9 0.7-1.2 1.1-1 1.2-0.8 1.5-0.5 1-0.2 2 0 4.4 0.6 2 0.6 2.5 1 2 1 1.5 1 1 0.9 1 1.3 1.5 3.3 0.6 2 0.5 2.8 2.4 28.1 0.5 3.7 0.6 2.1 0.4-0.4 3.5-10 3.5-8.3 3.4-6.6 3-4 2.5-2.2 1.5-0.7 1-0.1 2 0.2 2 0.6 1.5 0.9 1.5 1.5 1 1.7 0.4 1.3 0.8 36.9 3.3-16.4 3-12.1 1.5-4.7 1.5-3.8 1.4-2.8 1-1.3 1-0.8 0.5-0.1 1.5 0.3 1 0.5 1.5 1.7 0.5 1 0.6 1.9 0.3 2.6 0.7 36.5 3.1-12.8 2.8-9.8 3-8.7 3-6.5 1.5-2.3 1-1.3 1.5-1.2 1-0.4 1.5 0 1.4 0.5 1.5 1 1 1.1 1 1.8 0.5 2 0.4 86.1"/>
<path fill="url(#g16)" stroke-opacity="0.34" stroke-width="0.85" d="M17 388l0-151.2 4 0 13.5 1.4 12.9 1.9 18 3 9.5 1.9 22.5 5.2 24.9 6 14 3.8 16 4.8 11.5 3.7 13.5 4.8 21.9 8.6 26.7 11.3 0.9 0.6 1.4 1.8 0.5-0.1 0.9-0.8 0.6-0.1 6.5 1.5 7 1.1 7.5 0.9 11.4 0.9 8.5 0.4 47-0.2 41.9-0.7 10.5-0.3 15-0.8 7.5-0.5 5-0.6 9.4-1.8 7.5-1.9 6-1.8 12.5-4.5 8.5-2.6 9-2.5 10.5-2.3 4-1 6.5-2.5 14.9-4.7 13.5-5.5 8-3 4-1.3 9.5-2 3-0.3 3.5 0.1 7.5 0.5 3.5 0.5 12.9 3.1 5 1.3 4 1.4 8 3.8 8 3 2.5 1.2 2 1.3 2.5 2 2 1.9 2.5 3 2 2.8 4 7.1 6.5 13.9 2.2 4.5 2.2 3.1 1.1 0.9 0.7 0.2 1.1-0.4 0.7-2.1 3.2-24.4 0.8-3.6 1-2.9 0.7-1.2 1.1-1.1 1.1-0.7 1.5-0.6 1-0.2 2 0.1 4.5 0.6 4 1.3 2.5 1.2 1.5 1 1 1 1 1.3 1.5 3.2 0.6 2 0.5 2.7 2.4 27.4 0.5 3.6 0.6 1.9 0.4-0.4 4-11.5 3-7.1 3-5.6 3-4.1 1.5-1.4 1.5-0.9 1-0.4 1.5 0 2 0.3 2 0.8 1.5 1 1.5 1.6 1 1.8 0.4 1.4 0.8 35.6 3.3-16.9 3-12.1 1.5-4.7 1.5-3.7 1.5-2.5 1-1.1 1-0.4 1 0.1 1 0.4 1 0.7 1.4 1.8 0.5 1.1 0.7 2 0.2 2.6 0.8 35.3 3.1-13.2 2.7-10 3-8.7 2.5-5.4 1.5-2.5 1-1.2 1-0.9 1-0.5 1.5-0.1 1.5 0.4 1.5 0.8 1.5 1.3 1 1.5 0.5 1.1 0.5 2 0.4 85.4"/>
<path fill="url(#g17)" stroke-opacity="0.34" stroke-width="0.85" d="M17 388.7l0-150.8 4 0 13 1.5 13 2 18 3.1 13.5 2.9 42.1 10.1 14.5 3.8 15.5 4.6 12.5 4 13.5 4.8 22 8.5 27.7 11.5 1 0.6 1.4 1.8 0.4-0.1 1-0.8 0.6-0.1 6.5 1.5 6.5 0.9 7.5 0.9 11.5 0.9 9 0.3 60.5-0.1 39.1-0.8 18.5-1 8.5-0.8 10-1.9 7.5-1.8 6-1.9 12.5-4.5 8.5-2.6 9-2.4 10.5-2.3 4-1 6.5-2.4 15-4.8 13.5-5.4 8-3.1 4.1-1.3 9.5-2 3-0.2 4 0 7 0.5 3.5 0.5 13 3 5 1.3 4 1.4 8 3.7 8 2.9 2.5 1.2 2 1.2 2.5 2 2 2 2.5 2.9 2 2.8 4 7.1 6.5 13.9 2.3 4.5 2.1 3.1 1.1 0.8 0.7 0.3 1.1-0.5 0.7-2 3.3-24.5 0.7-3.6 1.1-2.9 0.7-1.2 1.1-1.1 1.1-0.7 1.5-0.6 1-0.2 2 0.1 4.5 0.6 4 1.4 2.5 1.2 1.5 1 1 0.9 1 1.3 1.5 3.2 0.7 1.9 0.4 2.6 2.2 24.9 0.7 5.3 0.7 1.7 0.3-0.4 4-11.8 2.5-6 3.1-5.8 1.5-2.3 1.5-1.8 1.5-1.4 1.5-0.8 1-0.3 1.5 0.1 2 0.4 2 0.8 1.5 1 1.5 1.4 1 1.5 0.9 2.5 0.8 34.2 2.9-15.7 2.9-12.1 1.5-4.9 1.5-3.9 1.5-2.7 1-1.1 1-0.4 1 0.2 1.5 0.6 1 0.8 1.5 2.1 0.5 1 0.6 2.2 0.2 2.6 0.8 34 3.1-13.6 2.8-10.2 3-8.7 2.5-5.2 2-2.8 1-0.9 1-0.5 1.5 0.1 2 0.6 1.5 0.9 1.5 1.5 1 1.5 0.5 1.2 0.5 2.1 0.3 84.5"/>
<path fill="url(#g18)" stroke-opacity="0.34" stroke-width="0.85" d="M17 389.5l0-150.5 4 0 12.1 1.5 13.5 2.2 18.6 3.3 13 2.9 41.1 10 15.6 4.1 15.5 4.6 13 4.2 13.6 4.7 22 8.4 27.8 11.3 0.9 0.7 1.4 1.8 0.5-0.2 0.9-0.8 0.6-0.1 6.5 1.4 6.6 1 7 0.7 11 0.9 9.5 0.4 61.2 0 39.1-0.7 18.6-1 8.5-0.8 10-1.9 7.5-1.8 6.1-1.9 12.5-4.5 8.5-2.6 9-2.4 10.6-2.2 4-1.1 6.5-2.4 15-4.7 13.6-5.4 12-4.4 9.5-2 3-0.2 4.1 0 7 0.5 3.5 0.5 18 4.1 4 1.4 8.1 3.6 8 2.8 2.5 1.2 2 1.2 2.5 2 2 1.9 2.5 3 2 2.8 2 3.3 2 3.8 6.6 13.8 2.2 4.5 2.2 3.1 1.1 0.8 0.7 0.3 1.1-0.5 0.7-2 3.2-24.5 0.8-3.7 1-2.9 0.8-1.2 1-1.1 1.2-0.7 1.5-0.6 1-0.2 2 0.1 4.5 0.6 4 1.4 2.5 1.2 1.6 1 1 0.9 1 1.3 1.5 3.3 0.6 1.7 0.4 2.6 2.5 26.1 0.5 3.1 0.4 1.3 0.2 0.3 0.4-0.6 3.5-10.6 3-7.4 3-5.7 2.5-3.3 1.5-1.3 1.5-0.7 1-0.1 2 0.2 2 0.5 2 1 1.5 1 1.5 1.6 1 1.5 0.9 2.6 0.9 32.8 2.9-16.2 2.9-12.2 1.5-4.9 1-2.5 1.5-2.9 1-1.1 1-0.3 1 0.2 1.5 0.6 1 0.7 1 1.1 1 1.6 1 2.9 0.3 3.1 0.8 32.7 2.9-13.1 2.5-9.6 3-9.1 2.5-5.5 2-2.8 1-0.8 1-0.4 2.1 0.2 2 0.8 1.5 1 1.5 1.6 1 1.7 0.5 1.2 0.4 2.1 0.4 83.8"/>
<path fill="url(#g19)" stroke-opacity="0.34" stroke-width="0.85" d="M17.1 390.3l0-150.1 4 0 12 1.7 13.6 2.2 19.1 3.6 9.5 2.1 23.6 5.7 26.2 6.6 13 3.6 17.1 5.2 11.1 3.6 13.5 4.8 22.1 8.4 25.3 10.2 1 0.6 1.4 1.8 0.5-0.2 0.9-0.8 0.6-0.1 8 1.6 12.1 1.4 12 0.8 7.1 0.3 56.8 0.3 44.7-0.7 18.1-0.9 8.5-0.7 10.6-1.9 7.5-1.8 6-1.8 13.6-4.9 8-2.4 9.1-2.4 10.5-2.2 4-1 6.6-2.4 14.5-4.5 21.1-8.3 6.1-2 6.5-1.4 4-0.5 5-0.1 7.1 0.5 6.5 1 12.1 2.7 5 1.4 9.5 4.1 9.1 3.2 2.5 1.2 2.5 1.6 2.5 2.2 2 2.1 2 2.5 2.1 2.9 3.5 6.3 8.5 17.8 2.1 3.1 0.9 1 1 0.5 0.6 0 0.7-0.4 0.8-2.1 0.7-4.5 2.1-17.7 0.8-4.3 0.7-2.8 0.7-1.8 1-1.5 1.2-1.1 1.8-0.9 1.5-0.3 3 0.2 3.5 0.5 2.5 0.8 3.6 1.6 1.5 0.9 1.5 1.3 1.5 2.1 1.4 3.7 0-0.2 0.1 0.2 0.3 1.3 2.5 25 0.7 4.5 0.5 1.5 0.4-0.2 0.1-0.4 3-9.4 2.5-6.6 2.5-5.2 2.6-3.9 2-2 1-0.6 1-0.3 3.5 0.3 3 1.2 2 1.3 2 2 1 1.6 0.9 2.6 0.9 31.4 1.8-10.6 1.8-9.3 1.7-7.2 1.5-5.2 1.5-3.8 1.5-2.5 1-0.7 1 0 1.5 0.5 2 1.4 1.5 1.9 1 2.2 0.7 2.9 1 33.3 2.4-11.3 2-8.3 2-7 2-5.8 2-4.3 2-2.9 1.5-0.9 2 0.1 1.5 0.4 1.5 0.7 1.5 1.2 1 1 1.6 2.5 0.5 1.3 0.4 2 0.4 83.1"/>
<path fill="url(#g20)" stroke-opacity="0.34" stroke-width="0.85" d="M17.1 391l0-149.5 4 0 11.6 1.7 14.6 2.5 19.6 3.8 38.8 9.5 29.7 7.8 27.2 8.3 13.1 4.5 11.5 4.2 17.7 6.7 22.8 9.1 0.9 0.6 1.5 1.8 0.4-0.2 1-0.8 0.5-0.1 7.1 1.3 8.1 1 7.5 0.6 14.1 0.9 49.3 0.4 15.7 0 39.2-0.4 18.2-1 8-0.6 8.1-1.4 10-2.3 6.6-1.9 13.6-4.8 8-2.4 9.1-2.4 10.6-2.2 4-1.1 6.5-2.3 15.1-4.7 20.7-8 6-2 6.6-1.4 4-0.6 4.5 0 7.6 0.4 6.5 1 12.1 2.6 5.1 1.3 9.5 4 9.1 3.1 2.5 1.2 2.5 1.6 2.5 2.2 2.1 2.1 2 2.4 2 2.9 3.5 6.3 8.6 17.8 2 3.2 1 0.9 1 0.5 0.6 0 0.7-0.4 0.7-2.1 0.7-4.6 2.2-17.7 0.7-4.2 0.8-2.9 0.7-1.8 0.9-1.5 1.2-1 1.9-1 1.5-0.3 3 0.2 3.5 0.6 2.5 0.7 3.6 1.6 1.5 0.9 1.5 1.3 1.5 2.2 1.4 3.7 0-0.4 0.1 0.2 0.3 1.3 2.5 24.1 0.7 4.2 0.5 1.3 0.5-0.6 3.1-9.7 2.5-6.6 2.5-5.1 2-3 2-1.9 1.5-0.6 3.6 0.3 2 0.6 1.5 0.6 2 1.3 2 1.9 1.5 2.4 0.9 2.6 0.9 29.9 1.8-11 1.8-9.5 1.7-7.2 1.5-5.1 1.5-3.6 1-1.5 0.5-0.5 1-0.2 2 0.5 2 1.4 1.5 1.7 1.6 3.1 0.6 2.4 0.2 2.5 0.8 30.1 2.2-11 1.8-7.8 1.9-7 2-6 2-4.5 1-1.7 1.1-1.1 1-0.7 0.5-0.2 2 0.2 1.5 0.5 1.5 0.7 1.5 1.1 1 1 1 1.3 1 1.9 1 3.4 0.4 82.2"/>
<path fill="url(#g21)" stroke-opacity="0.34" stroke-width="0.85" d="M17.1 391.8l0-149 4 0 11.1 1.7 14.6 2.7 20.2 4.1 38.9 9.6 29.7 7.9 27.3 8.4 25.2 8.7 17.7 6.7 22.4 8.7 0.9 0.6 1.4 1.8 0.5-0.2 0.9-0.8 0.6-0.1 7.1 1.3 7 0.8 20.2 1.4 55.5 0.7 51.5-0.4 18.2-0.9 8-0.6 8.1-1.4 10.1-2.2 6.5-2 13.7-4.8 8-2.4 9.6-2.5 10.1-2.1 4.1-1 6.5-2.4 15.2-4.6 20.6-8 6.1-2 6.6-1.4 4-0.6 4.5 0 7.6 0.4 6.6 1 12.1 2.4 5 1.3 9.6 3.9 9.1 3.1 2.5 1.1 2.5 1.6 2.5 2.1 2.1 2.1 2 2.5 2 2.9 3.5 6.2 8.6 17.8 2.1 3.1 0.9 0.9 1 0.5 0.6 0 0.8-0.4 0.7-2.1 0.7-4.5 2.2-17.8 1.1-6 0.7-2.1 1.1-2 1.2-1.2 1.5-0.9 1.6-0.4 2-0.1 4.5 0.7 2 0.5 5.6 2.5 1.5 1.1 1.5 1.8 1 1.9 0.9 2.7 0-0.6 0.1 0.2 0.4 1.3 2.4 23.2 0.7 3.9 0.6 1.1 0.5-0.7 2.5-8.4 2.5-6.9 2.5-5.3 2.1-3 1.5-1.5 1.5-0.7 2 0.1 2 0.3 3.6 1.3 2.5 1.6 2 2.1 1.5 2.4 0.9 2.7 0.9 28.4 3.3-19.5 1.5-6.9 1.5-5.4 1.5-3.9 1-1.5 1-0.6 1.5 0.2 1 0.3 2.1 1.3 2 2.3 1.5 3.2 0.6 2.5 0.2 2.5 0.8 28.7 2.3-11.5 1.8-7.9 1.9-7.1 2-5.9 2-4.3 1.5-1.9 1-0.6 2.5 0.2 2.1 0.7 1.5 0.8 2.5 2.3 1 1.3 1 1.9 1 3.5 0.4 81.5"/>
<path fill="url(#g22)" stroke-opacity="0.34" stroke-width="0.85" d="M17.1 392.6l0-148.4 4 0 10.1 1.7 14.7 2.8 20.7 4.3 39 9.8 30.3 8.2 27.8 8.5 25.8 8.9 39.1 14.8 1 0.6 1.4 1.8 0.4-0.2 1-0.9 0.6-0.1 7.1 1.2 7 0.8 19.8 1.3 58.6 0.9 49-0.3 18.2-0.9 8.1-0.6 8.1-1.4 10.1-2.2 5.6-1.6 13.7-4.8 8.5-2.6 9.7-2.5 10.6-2.2 4-1 6.6-2.4 15.2-4.5 20.7-8.1 6.1-1.9 6.5-1.5 4.1-0.5 4.5-0.1 7.6 0.4 6.1 0.8 12.6 2.5 5.1 1.2 9.6 3.9 9.1 2.9 2.5 1.1 2.5 1.6 2.6 2.1 2 2 2 2.5 2 2.9 3.6 6.2 8.6 17.7 2.1 3.1 0.9 1 1 0.5 0.6-0.1 0.7-0.4 0.7-2 0.8-4.6 2.1-17.8 1.2-6 0.7-2.2 1-2 1.3-1.2 1.5-0.9 1.5-0.4 2.1 0 4 0.5 2.5 0.6 5.6 2.6 1.5 1.1 1.5 1.8 1 1.9 0.9 2.6 0.1-0.7 0.1 0.1 0.3 1.3 2.5 22.3 0.7 3.6 0.4 0.9 0.2-0.1 0.4-0.8 2.5-8.6 2.6-6.9 2-4.2 2-3 1.5-1.4 1.5-0.4 3.6 0.3 3.5 1.2 2.5 1.5 2.6 2.3 1.5 2.1 1.3 3.2 0.2 2.3 0.8 25.2 1.7-11.7 1.6-8.5 1.5-7 1.5-5.2 1.5-3.4 1-1.2 1.5 0 1.5 0.4 2.1 1.3 2 2.1 1.5 2.8 1 3.3 0.4 3.1 0.7 27.3 2.1-10.8 1.8-8.4 1.6-6.3 2-6.3 1.5-3.5 1.5-2.3 1.1-0.8 0.5-0.1 2 0.2 2 0.5 1.5 0.8 1.5 1 1.6 1.4 2 3 1 2.5 0.5 2.1 0.3 80.7"/>
<path fill="url(#g23)" stroke-opacity="0.34" stroke-width="0.85" d="M17.2 393.3l0-147.6 4 0 9.6 1.7 14.7 2.9 21.3 4.6 39 10 30.4 8.3 27.8 8.5 26.9 9.2 38.2 14.2 0.9 0.6 1.4 1.8 0.5-0.2 0.9-0.9 0.6-0.1 7.1 1.1 7.1 0.8 19.8 1.2 60.8 1 47.1-0.1 18.2-0.9 8.1-0.6 8.2-1.4 10.1-2.2 6.6-2 13.1-4.6 8.2-2.4 9.6-2.5 10.6-2.1 4.1-1 6.6-2.4 15.2-4.5 20.7-8 6.1-2 6.6-1.4 4.1-0.6 4.5-0.1 7.6 0.3 6.1 0.8 12.7 2.5 5 1.1 9.7 3.7 9.1 2.9 2.5 1.1 2.5 1.5 2.6 2.1 2 2 2 2.5 2.1 2.8 3.5 6.2 8.6 17.7 2.1 3.1 1 0.9 1 0.5 0.6 0 0.7-0.4 0.7-2.1 0.7-4.6 2.2-17.8 1.1-6 0.7-2.2 1.1-2 1.3-1.2 1.5-0.9 1.5-0.4 2.1 0 3 0.3 3 0.7 2.6 1 3.5 1.7 1.5 1.1 1.6 1.8 1 1.9 0.9 2.6 0.1-0.8 0.3 1.3 2.5 21.3 0.7 3.2 0.4 0.7 0.5-0.6 2.7-9.2 2-5.7 2-4.4 2.1-2.9 1.5-1.2 1.5-0.2 3.5 0.4 3.6 1.2 3 1.8 2.6 2.4 1.5 2.2 1.2 3.3 0.3 2.3 0.8 23.6 2.9-19 1.4-6.7 1.5-5.7 1.5-3.6 1-1.2 1.5 0.1 1.6 0.4 1.5 0.8 1 0.8 2 2.3 1.5 2.8 1 3.5 0.4 3.1 0.8 25.8 1.9-10.6 1.7-8.2 1.8-7.4 1.6-4.8 1.5-3.7 1.5-2.3 1-0.7 2.5 0.2 2.1 0.6 2 1.1 1.5 1.1 1.5 1.5 2.1 3 1 2.6 0.4 2.1 0.4 79.9"/>
<path fill="url(#g24)" stroke-opacity="0.34" stroke-width="0.85" d="M17.2 394.1l0-146.8 4 0 8.1 1.5 15.2 3.1 21.9 4.8 39.1 10.2 30.9 8.5 28.5 8.7 27.9 9.5 36.7 13.5 1 0.6 1.4 1.8 0.5-0.2 0.9-0.9 0.6-0.1 7.1 1 6.6 0.7 19.8 1.1 63 1.2 45.7 0 18.2-0.9 8.2-0.6 7.6-1.2 10.1-2.3 6.1-1.7 13.7-4.8 8.7-2.5 9.6-2.5 10.7-2.1 4-1 6.6-2.4 15.3-4.5 20.8-7.9 6.1-2 6.6-1.4 4-0.6 4.6-0.2 7.6 0.4 6.1 0.8 13.2 2.4 4.6 1 9.6 3.6 9.7 2.9 2.5 1.2 2 1.2 2.6 2.1 2 2 2 2.4 2.1 2.8 3.5 6.2 8.7 17.6 2.1 3.2 0.9 0.9 1 0.5 0.6-0.1 0.7-0.4 0.8-2.1 0.7-4.6 2.2-17.9 0.7-4.2 0.7-2.9 0.8-1.9 0.9-1.5 1.3-1 1.8-0.9 1.5-0.3 2 0 4.1 0.6 2 0.6 5.6 2.5 1.5 1.1 1.6 1.8 1 2 0.9 2.6 0-1.2 0.4 1.4 2.3 18.8 0.7 3.6 0.3 0.8 0.4 0.3 0.4-0.7 2.7-9.4 2-5.6 2.1-4.2 1-1.4 1-1.1 1-0.5 1.5 0 2.6 0.2 2 0.5 2 0.7 2.1 1 3 2.3 1.5 1.6 1.6 2.4 1 2.4 0.4 1.5 0.9 23.7 2.7-18.5 1.3-6.9 1.3-4.9 1-2.9 1-1.8 0.5-0.3 0.5-0.1 2.6 0.6 2.5 1.5 2 2.1 1 1.6 1.1 2.1 1 3.6 0.3 3.1 0.8 24.4 3.4-18.6 1.6-6.6 1.5-5.1 1.5-3.8 1.5-2.3 1.1-0.6 2.5 0.3 2 0.6 2.1 1 1.5 1.1 1.5 1.4 1.5 2 1 1.8 1.1 2.7 0.4 2 0.4 79.2"/>
<path fill="url(#g25)" stroke-opacity="0.34" stroke-width="0.85" d="M17.2 394.9l0-146 4 0 7.1 1.4 15.8 3.3 22.4 5.1 39.2 10.4 31 8.6 29 8.8 29.5 10.1 34.8 12.5 0.9 0.6 1.5 1.8 0.4-0.2 1-0.9 0.6-0.1 7.1 0.9 6.6 0.6 19.3 1.1 14.8 0.2 50.9 1.2 43.7 0.1 18.3-0.9 8.2-0.6 7.6-1.2 10.2-2.3 6.1-1.7 13.7-4.8 8.7-2.5 9.6-2.5 10.7-2.1 4.1-1 6.6-2.3 15.3-4.5 20.8-7.9 6.1-2 6.6-1.4 4.1-0.6 4.6-0.1 7.6 0.3 5.6 0.6 13.8 2.4 4.5 1 9.7 3.5 9.7 2.8 2.5 1.1 2.1 1.3 2.5 2 2 2 2.1 2.4 2 2.8 3.6 6.1 8.6 17.6 2.1 3.1 1 0.9 1 0.5 0.6 0 0.7-0.4 0.7-2.1 0.8-4.6 2.1-18 0.8-4.3 0.7-2.8 0.7-1.9 1-1.5 1.2-1.1 1.9-0.9 1.5-0.3 2 0.1 5.6 1 6.1 2.7 1.6 1.1 1 1.1 1.5 2.6 0.9 2.7 0-1.4 0.5 1.4 2.2 17.4 0.5 2.8 0.7 1.6 0.3-0.1 0.4-0.8 2.6-9.6 2.1-5.6 2-3.7 1.5-1.6 1.1-0.3 2 0 2.5 0.4 2.1 0.5 3.5 1.6 3.1 2.2 1.5 1.5 1.5 2.1 1.1 2 0.9 3 0.6 19.4 0.2 2.7 2.8-19.2 1.3-7 1.3-4.7 1-2.5 0.5-0.7 0.5-0.4 1.5 0.1 1.6 0.4 2.5 1.5 2 2 1.6 2.3 1.5 3.7 0.6 2.7 0.3 2.6 0.7 22.9 1.9-11 1.5-8.3 1.6-6.7 1.5-5 1.6-3.4 1-1.3 0.5-0.4 0.5 0 2.5 0.3 2.1 0.6 2 1 2 1.5 1.6 1.5 1.5 2 1 1.9 1 2.8 0.5 2 0.4 78.4"/>
<path fill="url(#g26)" stroke-opacity="0.34" stroke-width="0.85" d="M17.2 395.7l0-145.1 4 0 6.1 1.2 15.8 3.5 23 5.3 39.8 10.7 31.1 8.7 30 9.2 31.1 10.5 32.3 11.5 1 0.6 1.4 1.8 0.5-0.3 0.9-0.9 0.8-0.1 6.5 0.8 6.6 0.6 19.4 1.1 15.3 0.1 34.6 1.1 18.9 0.3 41.3 0.1 18.3-0.8 8.2-0.6 7.6-1.2 10.2-2.2 6.1-1.7 13.8-4.8 8.7-2.6 9.7-2.4 10.7-2.1 4.1-1 6.6-2.3 15.3-4.4 20.9-7.9 6.1-2 6.6-1.4 4.1-0.7 4.6-0.1 7.6 0.3 5.6 0.6 13.8 2.3 4.6 0.9 9.7 3.4 9.7 2.7 2.5 1.1 2.1 1.3 2.5 1.9 2 2 2.1 2.4 2 2.8 3.6 6.1 8.7 17.5 2.1 3.1 0.9 0.9 1 0.5 0.6 0 0.8-0.4 0.7-2.1 0.7-4.7 2.2-18 0.7-4.2 0.8-2.9 0.7-1.9 1-1.5 1.2-1.1 1.9-0.9 1.5-0.3 2 0.1 5.6 1.1 6.1 2.7 1.6 1.1 1 1.1 1.5 2.6 0.9 2.6 0.1-1.6 0.2 0.4 0.6 3.8 1.8 13.6 0.5 2.5 0.5 1 0.2 0.1 0.3-0.2 0.4-0.9 2.2-8.2 1.5-4.5 2-4.3 1.6-1.9 1-0.4 2 0 2.6 0.4 2 0.4 3.6 1.5 2 1.2 1.6 1.2 2 2 1.5 2.2 1 2.1 1 2.9 0.6 18.2 0.2 2.3 2.5-18.6 1.2-6.2 1.2-4.9 1-2.7 0.5-0.8 0.5-0.4 1.5 0.2 1.6 0.4 2.5 1.4 1.5 1.3 1.1 1.2 1.5 2.4 1.5 3.8 0.6 2.8 0.3 2.6 0.8 21.5 1.6-10.3 1.6-8.7 1.2-5.9 1.6-5.4 1.5-3.6 1-1.2 0.5-0.2 2.6 0.2 2.5 0.7 2.1 1 2 1.4 1.5 1.5 1.6 1.9 1.5 2.7 1 2.8 0.5 2 0.4 77.7"/>
<path fill="url(#g27)" stroke-opacity="0.34" stroke-width="0.85" d="M17.2 396.4l0-144.1 4 0 4.6 0.9 16.4 3.7 23.5 5.6 39.8 10.9 31.7 8.9 31.7 9.7 36.3 12.2 25.7 9 0.9 0.6 1.5 1.8 0.4-0.2 1-0.9 0.7-0.2 6.5 0.8 6.7 0.6 18.4 0.9 16.3 0.2 35.8 1.1 20.9 0.4 38.3 0.2 18.4-0.7 8.2-0.6 7.7-1.3 10.2-2.2 6.1-1.7 13.8-4.8 8.7-2.5 9.7-2.4 10.7-2.1 4.1-0.9 6.7-2.3 15.3-4.5 21.4-8 5.7-1.8 6.6-1.5 4.1-0.6 4.6-0.1 7.6 0.2 5.7 0.6 18.4 3.1 9.7 3.3 9.7 2.6 2.5 1.1 2.1 1.2 2.5 1.9 2.1 2 2 2.3 2 2.8 3.6 6.1 6.7 13.6 2.3 4.3 2.2 3 0.7 0.7 0.9 0.4 0.6-0.1 0.7-0.4 0.8-2.1 0.7-4.7 2.2-18 0.7-4.3 0.8-2.9 0.7-1.9 1-1.5 1.2-1 1.8-0.9 1.6-0.3 2 0.1 5.6 1 6.2 2.8 1.5 1.1 1 1 1.5 2.6 1 2.7 0-1.8 0.2 0.3 0.7 3.7 1.6 11.8 0.6 2.9 0.5 0.9 0.5-0.3 0.4-1.2 1.7-6.5 2-6.2 1.6-3.1 1-1.3 0.5-0.4 1-0.1 2.6 0 4.1 0.8 3.5 1.4 3.6 2.4 2.1 2 1.5 2 1.5 2.9 0.8 2.4 0.3 2 0.5 14.7 0.2 2.7 2.3-17.8 1-6 1.1-4.6 1-3 0.5-0.8 0.5-0.4 0.5 0 2.6 0.5 2.5 1.4 2.6 2.4 2 3.1 1.6 4 0.6 2.8 0.2 2.5 0.6 17.4 0.2 2.7 2.7-17.5 1.4-6.6 1.4-5.3 1.5-3.8 1.1-1.2 1 0 2 0.2 2.6 0.7 2 1 2.1 1.4 2 1.9 1.5 2 1.6 2.8 1 2.9 0.5 1.9 0.3 76.9"/>
<path fill="url(#g28)" stroke-opacity="0.34" stroke-width="0.85" d="M17.3 397.2l0-143.2 4 0 3 0.6 16.4 3.8 24.6 6.1 39.9 10.9 32.3 9.2 32.7 10.1 38.9 13 22.5 7.7 0.7 0.5 1.4 1.8 0.5-0.2 1-0.9 0.7-0.2 13.7 1.3 19.4 0.8 14.9 0.2 46.1 1.5 38.9 0.5 12.2-0.1 16.9-0.7 7.7-0.6 7.7-1.2 10.2-2.2 7.2-2.1 13.3-4.6 8.2-2.3 9.7-2.4 10.8-2.1 4.1-0.9 6.6-2.3 15.4-4.4 21.5-8 5.6-1.8 7.2-1.6 3.6-0.5 4.6-0.1 8.2 0.2 5.1 0.5 18.4 3 9.7 3.2 9.8 2.4 2.5 1.1 2.1 1.2 2.5 1.9 2.1 2 2 2.3 2.1 2.8 3.6 6 6.6 13.6 2.3 4.3 2.2 3 0.8 0.6 0.9 0.4 0.5 0 0.8-0.5 0.7-2.1 0.7-4.6 2.3-18.1 0.7-4.3 0.7-2.9 0.8-1.9 0.9-1.5 1.3-1.1 1.8-0.9 1.6-0.3 1.5 0.1 5.6 1 2.1 0.7 4.1 1.9 1.5 1 1 0.9 1.6 2.1 1.4 3.7 0-2.1 0.2 0.4 0.5 2.1 1.8 12.4 0.7 2.4 0.4 0.5 0.3-0.1 0.4-0.9 1.9-7.4 1.6-4.7 1.5-3.2 1-1.2 0.5-0.2 2.6-0.1 4.6 0.8 3.6 1.3 3.6 2.1 2 1.7 2.1 2.5 1.5 2.5 1 2.7 0.5 2.6 0.6 14 0.2 2.1 2.3-18.6 1-6 1.1-4.2 1-2.4 0.5-0.4 1.5 0.1 1.6 0.4 1.5 0.7 1.5 1 2.6 2.5 2 3.2 1.6 4.1 0.6 2.8 0.2 2.6 0.6 16.3 0.2 2.3 2.8-18.3 1.3-6.7 1.4-5 1.1-2.4 1-1.1 3.1 0.2 2.5 0.7 2.6 1.3 2 1.5 2.1 2 1.5 2 1.6 2.9 1.4 4.9 0.4 76.1"/>
<path fill="url(#g29)" stroke-opacity="0.34" stroke-width="0.85" d="M17.3 398l0-142.3 4 0 17.9 4.2 25.7 6.5 40 11.1 32.8 9.4 23.1 7 17.5 5.6 53.3 17.9 1.2 0.6 1.4 1.8 0.5-0.2 0.9-0.9 0.7-0.2 13.3 1.1 18.9 0.8 15.9 0.2 46.2 1.6 40.5 0.6 12.3-0.1 15.4-0.6 7.7-0.6 7.7-1.2 10.3-2.2 7.2-2 13.3-4.6 8.2-2.4 9.8-2.4 10.7-2 4.1-0.9 6.7-2.3 15.4-4.4 21.5-8 5.7-1.7 7.2-1.6 3.5-0.6 4.7-0.1 8.2 0.2 5.1 0.5 14.9 2.1 4.1 0.8 9.2 3 9.8 2.4 2.5 1 2.1 1.1 2.5 1.9 2.1 2 2 2.3 2.1 2.7 3.6 6.1 6.7 13.5 2.3 4.3 2.2 3 0.7 0.6 0.9 0.4 0.6-0.1 0.7-0.4 0.8-2.1 0.7-4.7 2.2-18.1 1.2-6.1 0.7-2.1 1.1-2.1 1.2-1.2 1.6-0.9 1.5-0.4 1.6 0 5.6 0.9 2.1 0.6 4.6 2.2 1.5 0.9 1 0.9 1.6 2.1 1.4 3.7 0-2.3 0.2 0.4 0.5 2 1.6 10.4 0.7 2.6 0.4 0.6 0.5-0.3 0.4-1.1 1.5-5.7 1.5-5 1.5-3.2 1.1-1.1 3.6 0 4.1 0.6 3.5 1.3 3.6 2.1 2.6 2.2 2.1 2.5 1.5 2.6 1 2.7 0.5 2.6 0.5 12.9 0.3 1.6 2.1-17.8 0.9-5.7 0.9-4.1 1-2.6 0.5-0.4 1.5 0.1 1.6 0.4 1.5 0.7 1.5 0.9 2.6 2.4 2.1 3 1.5 3.4 0.5 1.7 0.8 3.8 0.6 16.9 0.3 1.9 2.5-17.8 1.4-7 1.1-4.3 1-2.5 0.5-0.7 0.5-0.4 3.1 0.3 2.6 0.8 2.5 1.2 2.1 1.4 2 1.9 1.6 2 1.5 2.5 1 2.5 1 3.6 0.4 75.4"/>
<path fill="url(#g30)" stroke-opacity="0.33" stroke-width="0.85" d="M17.3 398.7l0-141.2 4 0 17.5 4.2 25.7 6.7 39.6 11.1 33.9 9.8 23.1 7 17.5 5.5 53.4 17.7 1.2 0.7 1.5 1.8 0.4-0.3 1-0.9 0.7-0.2 12.7 1 17 0.7 18.5 0.2 46.8 1.8 41.6 0.7 12.9-0.2 13.8-0.6 7.2-0.5 7.8-1.2 10.2-2.2 7.2-2 13.4-4.6 8.2-2.3 9.8-2.4 10.8-2 4.1-0.9 6.7-2.3 15.4-4.3 21.6-8 5.6-1.8 7.2-1.6 3.6-0.5 4.7-0.2 8.2 0.2 4.6 0.4 15.4 2.1 4.1 0.8 9.3 2.8 9.8 2.3 2.5 1 2.1 1.1 2.6 1.9 2 1.9 2.1 2.3 2 2.8 3.6 6 6.7 13.4 2.3 4.3 2.3 3 0.7 0.6 0.9 0.4 0.6 0 0.7-0.5 0.7-2.1 0.8-4.7 2.2-18.1 1.1-6.1 0.7-2.2 1.1-2 1.3-1.3 1.6-0.8 1.5-0.5 1.5 0 5.7 0.9 2.1 0.7 4.6 2.2 1.5 0.9 1.1 0.9 1.5 2.1 1.4 3.7 0-2.6 0.3 0.4 2 11.5 0.5 1.7 0.4 0.7 0.5-0.2 0.5-1 1.6-6.5 1.5-4.7 1.1-2 1-0.9 4.1 0.1 3.6 0.7 3.6 1.2 3.6 2 2.1 1.7 2 2.1 1.5 2.2 1.6 3.1 0.9 3.1 0.6 12.8 0.3 1.1 1.8-16.9 1-6 0.9-4.3 0.7-1.9 0.5-0.5 1.5 0.1 1.6 0.4 1.5 0.6 1.5 0.9 2.6 2.3 1.6 2 1 1.6 1.5 3.6 0.5 1.7 0.8 3.8 0.7 15.9 0.2 1.5 2.3-17.2 1.1-6.4 1.1-4.4 1-2.7 0.5-0.8 0.6-0.2 3 0.3 2.6 0.7 2.6 1.2 2.6 1.8 2 2 1.6 2 1.5 2.6 1 2.5 1 3.6 0.4 74.6"/>
<path fill="url(#g31)" stroke-opacity="0.33" stroke-width="0.85" d="M17.3 399.5l0-140.2 4 0 17.6 4.4 25.2 6.6 74.2 21.4 39.1 12 55.1 18 1.2 0.7 1.4 1.7 0.5-0.2 1-1 0.7-0.1 9.1 0.7 13.4 0.6 15 0.4 10.8 0 46.8 1.9 42.8 0.8 6.2 0 7.2-0.2 12.9-0.5 6.7-0.5 7.2-1.1 10.3-2.2 6.1-1.7 14.5-4.8 8.7-2.5 9.8-2.4 10.8-2 4.1-0.9 6.7-2.3 15.5-4.3 21.6-7.9 5.7-1.8 7.2-1.6 3.6-0.5 4.6-0.2 8.3 0.1 4.6 0.5 19.6 2.6 9.3 2.8 9.8 2.2 2.5 1 2.1 1.1 2.6 1.8 2 1.9 2.1 2.3 2 2.7 3.6 6 6.7 13.4 2.4 4.3 2.2 2.9 0.7 0.6 0.9 0.4 0.6 0 0.8-0.5 0.7-2.1 0.7-4.7 2.3-18.1 1.1-6.1 0.7-2.2 1.1-2.1 1.3-1.2 1.5-0.9 1.6-0.4 1.5 0 5.7 0.9 2.1 0.8 4.6 2.1 2.1 1.3 1 1.1 1 1.5 1.4 3.7 0.1-2.8 0.2 0.4 1.9 10.1 0.5 1.6 0.5 0.5 0.5-0.5 0.5-1.2 1.6-6.6 1.1-3.1 1-2 0.5-0.6 1-0.2 2.6 0.1 4.1 0.5 3.6 1.2 3.6 1.8 2.6 1.9 2.6 2.7 1.5 2.2 1.6 3.2 0.9 3.1 0.6 11.7 0.1 0.4 0.2 0.1 1.8-17.2 0.7-5 0.8-3.9 0.5-1.6 0.6-0.7 1.5 0.1 1.5 0.3 1.6 0.6 1.5 0.9 2.6 2.1 2.1 2.6 2 3.9 1.1 3.1 0.7 3.9 0.7 14.9 0.2 1.1 2.3-18 1.2-6.4 0.9-3.6 0.7-1.8 0.5-0.8 1-0.2 2.6 0.3 2.6 0.8 2.5 1.1 2.6 1.8 2.1 1.9 2 2.6 1.6 2.6 1 2.6 1 3.5 0.4 74"/>
<path fill="url(#g32)" stroke-opacity="0.33" stroke-width="0.85" d="M17.4 400.3l0-139.1 4 0 17 4.3 25.3 6.8 74.8 21.7 37.7 11.6 56.7 18.3 1.2 0.7 1.5 1.7 0.5-0.2 0.9-1 1-0.1 7.4 0.5 10.3 0.5 18 0.5 12.4 0.1 43.4 1.8 47.5 1 5.6 0.1 7.8-0.3 11.9-0.5 6.7-0.4 7.2-1.2 10.3-2.1 6.2-1.7 14.5-4.8 8.7-2.5 9.8-2.4 10.9-1.9 4.1-1 6.7-2.2 15.5-4.3 21.7-7.9 5.7-1.8 7.2-1.5 3.6-0.6 4.6-0.2 8.3 0.1 4.6 0.4 19.7 2.5 9.2 2.7 9.8 2.1 2.6 0.9 2.1 1.1 2.6 1.9 2 1.8 2.1 2.3 2.1 2.7 3.6 5.9 6.7 13.3 2.3 4.3 2.3 2.9 0.7 0.6 0.9 0.4 0.6-0.1 0.7-0.4 0.8-2.2 0.7-4.6 2.2-18.1 1.2-6.1 0.7-2.2 1.1-2.1 1.3-1.2 1.5-0.8 1.6-0.5 1.5 0 5.7 1 2.1 0.7 4.6 2.2 2.1 1.3 1 1 1 1.6 1.5 3.7 0-3.1 0.2 0.3 1.8 9 0.5 1.3 0.5 0.5 0.4-0.5 0.5-1.1 2.4-8.9 1-2.1 0.5-0.5 3.6-0.1 4.2 0.6 3.6 1.1 3.6 1.8 2.6 1.8 2 2 2.1 2.6 1.5 2.8 1.5 4.4 0.7 10.9 0.2-0.3 1.8-17.9 1.2-7.1 0.4-1.6 0.5-0.7 1.5 0 1.5 0.3 3.1 1.4 1.6 1.1 1.5 1.5 2.1 2.6 2.1 4.1 1 3.1 0.7 3.9 0.8 14.8 2.2-17.5 1-5.5 1-4.4 1-2.4 1-0.2 2.6 0.3 3.1 0.9 2.6 1.2 2.6 1.8 2 2 2.1 2.6 1.6 2.8 1 2.5 1 4 0-0.4 0.3 73.3"/>
<path fill="url(#g33)" stroke-opacity="0.33" stroke-width="0.85" d="M17.4 401l0-138 4 0 29 7.8 23.7 6.6 64.7 19 36.2 11.1 58.4 18.7 1.2 0.6 1.4 1.8 0.5-0.3 1-1 0.9-0.1 8 0.5 12.4 0.5 16.5 0.4 11.4 0 45 2 47.1 1.1 4.6 0 14.5-0.5 11.9-0.6 7.2-1.1 10.4-2.2 6.2-1.6 14.5-4.9 8.7-2.5 9.9-2.3 10.8-2 4.2-0.9 6.7-2.2 15.5-4.2 22.2-8.1 5.7-1.7 7.3-1.6 3.6-0.5 4.6-0.2 7.8 0.1 4.7 0.4 19.6 2.4 9.3 2.6 9.8 1.9 2.6 1 2.1 1 2.6 1.8 2.1 1.9 2 2.2 2.1 2.6 3.6 5.9 6.7 13.1 2.4 4.3 2.2 2.9 0.8 0.6 0.8 0.3 0.6 0 0.8-0.4 0.7-2.2 0.8-4.6 2.2-18 1.1-6.1 0.7-2.2 1.2-2 1.2-1.2 1.6-0.9 1.6-0.4 1.5 0 5.7 1 2.6 0.9 5.7 2.9 1.5 1.4 1.1 1.6 1.4 3.7 0.1-3.3 0.5 1.7 1.2 5.9 0.5 1.4 0.5 0.6 0.4-0.4 0.5-1.1 2.1-8.1 1-2.2 0.5-0.4 4.2-0.1 3.6 0.5 3.6 1.1 3.6 1.7 2.6 1.8 2.6 2.4 2.1 2.7 1.5 2.8 1.5 4.4 0.6 9.8 0.3-0.8 1.6-17 1.2-7.4 0.4-1.2 0.5-0.6 2.7 0.4 3.1 1.3 2.6 1.9 2.6 3 2.1 3.7 1.5 4.4 0.6 3 1 14.5 2-17.6 0.9-5.1 0.9-4.1 0.7-1.9 0.6-0.5 3.1 0.3 3.1 0.9 2.6 1.2 2.6 1.7 2.6 2.4 2.1 2.7 1.5 2.8 1.1 2.6 0.9 4 0.1-0.4 0.3 72.5"/>
<path fill="url(#g34)" stroke-opacity="0.32" stroke-width="0.85" d="M17.4 401.8l0-136.8 4 0 24.9 6.7 26.9 7.6 65.9 19.5 34.7 10.6 60.1 19 1.1 0.6 1.5 1.8 0.5-0.2 0.9-1 1-0.2 7.9 0.5 12.5 0.5 16.6 0.3 11.4 0 46.1 2.2 47.7 1.1 19.1-0.5 10.4-0.6 7.2-1.1 10.4-2.1 6.2-1.7 14.5-4.9 8.9-2.4 9.8-2.4 10.9-1.9 4.1-0.9 6.8-2.2 15.5-4.2 22.3-8 5.7-1.8 7.2-1.5 3.7-0.5 4.6-0.2 7.8 0 4.2 0.3 20.2 2.3 9.3 2.6 9.8 1.8 2.6 0.9 2.6 1.4 2.1 1.4 2.1 1.8 2 2.2 2.1 2.6 3.6 5.8 6.8 13 2.3 4.1 2.3 2.9 0.7 0.6 0.9 0.4 0.6-0.1 0.7-0.4 0.8-2.2 0.7-4.6 2.3-17.8 1.1-6.1 0.7-2.1 1.1-2 1.3-1.3 1.6-0.8 1.5-0.4 1.6 0 5.7 1 2.6 1 5.7 2.8 1.5 1.5 1.1 1.5 1.4 3.7 0.1-3.5 1.8 7 0.7 1.3 0.4-0.3 0.5-1.1 1.6-6.5 0.7-2.2 0.5-1 0.6-0.4 4.1-0.1 3.6 0.5 3.7 1 3.6 1.7 2.6 1.7 2.6 2.3 2 2.5 1.6 2.6 1 2.3 1 3.2 0.6 8.6 1.7-16.8 1.1-7.7 0.7-1.7 1.7 0.1 1.5 0.3 3.1 1.4 2.6 2 2.6 3 2.1 3.7 1.5 4.5 0.7 3.1 0.9 13.3 2-17.6 0.9-5.8 0.7-3 0.5-1.3 0.4-0.6 3.3 0.2 3.1 0.9 2.6 1.1 2.6 1.7 2.6 2.3 2 2.5 1.6 2.6 1.5 3.7 1 4 0-0.5 0.4 71.9"/>
<path fill="url(#g35)" stroke-opacity="0.32" stroke-width="0.85" d="M17.4 402.6l0-135.7 4 0 21.8 6 29.1 8.3 67 19.9 33.2 10.2 61.8 19.4 1.2 0.6 1.5 1.8 0.4-0.3 1-1 1-0.2 20.4 0.9 16.6 0.4 11.4 0 42.6 2 46.7 1.3 12 0 15-0.5 7.3-0.5 7.3-1.1 10.4-2.1 6.2-1.6 14.5-4.9 8.9-2.4 9.8-2.4 10.9-1.9 4.2-0.9 6.7-2.2 15.6-4.2 22.3-8 5.8-1.7 7.2-1.5 3.7-0.6 12.4-0.1 4.2 0.3 20.2 2.1 9.4 2.5 9.8 1.7 2.6 0.9 2.1 1 2.6 1.7 2.1 1.8 2.1 2.1 2 2.6 3.7 5.7 6.7 12.8 2.4 4.1 2.2 2.8 0.8 0.6 0.9 0.3 0.6 0 0.7-0.5 0.7-2.1 0.8-4.6 2.2-17.6 1.2-6 0.7-2.1 0.8-1.7 1.1-1.1 1.5-1.1 1.6-0.5 1-0.2 2.6 0.3 3.1 0.6 3.2 1 5.7 2.8 1.5 1.2 1.1 1.2 1 1.9 0.9 2.6 0.2-3.7 1.5 5.9 0.4 1 0.5 0.3 0.4-0.6 0.5-1.4 1.8-7.2 0.6-1.2 0.5-0.6 4.1-0.1 3.7 0.5 3.6 1 3.1 1.3 3.1 1.9 2.6 2.2 2.1 2.4 2.1 3.3 1 2.3 1 3.2 0.6 7.6 1.5-16.8 1.1-7.1 0.4-1.5 0.3-0.2 2.9 0.4 3.1 1.3 1.6 1 1.5 1.3 2.6 3.1 2.1 3.8 1.6 4.5 0.6 3.2 0.9 12.2 1.8-16.7 0.8-5.8 0.8-3.4 0.5-1.3 0.3-0.4 3.6 0.4 3.1 0.8 2.6 1.3 2.6 1.7 2.6 2.3 2.1 2.6 1.6 2.6 1.5 3.7 1 4.1 0-0.6 0.4 71.3"/>
<path fill="url(#g36)" stroke-opacity="0.32" stroke-width="0.85" d="M17.5 403.3l0-134.4 4 0 19.2 5.4 31.2 8.9 67.7 20.3 31.7 9.6 63.5 19.8 1.2 0.7 1.4 1.7 0.5-0.2 1-1 0.9-0.2 20.5 0.8 28.1 0.4 42.7 2.1 47.8 1.4 6.3 0.1 6.2-0.2 13.5-0.5 7.3-0.4 7.3-1.1 10.4-2.1 6.3-1.6 14.5-4.9 8.9-2.4 9.9-2.4 10.9-1.9 4.1-0.9 6.8-2.2 15.6-4.1 22.4-8 5.7-1.7 6.8-1.5 3.6-0.5 4.7-0.2 8.3-0.1 4.2 0.3 7.3 0.9 13 1.1 9.3 2.4 9.9 1.6 2.6 0.9 2.1 1 2.6 1.6 2.1 1.8 2.1 2.1 2.1 2.5 3.6 5.6 6.8 12.5 2.3 4.1 2.3 2.8 0.7 0.5 0.9 0.3 0.6 0 0.8-0.5 0.7-2.1 0.8-4.5 2.2-17.4 1.2-5.9 0.7-2.1 0.8-1.6 1.1-1.2 1.5-1 1.6-0.6 1-0.1 2.6 0.2 2.6 0.5 3.1 1 5.8 2.7 1.5 1 1.6 1.7 1 1.9 1 2.6 0.1-4 1.5 5.3 0.4 0.9 0.3 0.1 0.4-0.3 0.3-0.7 1.8-7.3 0.5-1.5 0.5-0.7 3.6-0.2 3.7 0.3 3.6 0.9 3.7 1.4 3.1 1.8 2.6 2.1 2.1 2.3 2.1 3 1.5 3.3 0.9 3.2 0.7 6.8 1.4-16.5 0.9-6.8 0.5-1.6 0.2-0.2 2.7 0.3 3.1 1.2 3.1 2.2 2.6 2.9 2.1 3.5 1.6 3.8 1 4.3 0.7 9.5 0.4 2.5 1.7-17.3 0.7-4.8 0.7-3.2 0.7-1.6 3.4 0.3 3.2 0.9 3.1 1.4 2.6 1.7 2.6 2.4 2.1 2.7 1.5 2.6 1.6 3.7 1 4.1 0-0.6 0.3 70.6"/>
<path fill="url(#g37)" stroke-opacity="0.31" stroke-width="0.85" d="M17.5 404.1l0-133.1 4 0 17.2 4.8 32.3 9.3 68.8 20.7 95.4 29.4 1.2 0.6 1.5 1.8 0.5-0.2 0.9-1 1-0.2 20.5 0.8 28.1 0.3 42.3 2.1 49 1.5 6.2 0.1 6.8-0.2 13.1-0.4 6.7-0.4 7.3-1.1 10.5-2.1 6.2-1.6 14.6-4.9 8.9-2.4 9.9-2.3 10.9-1.9 4.2-0.9 6.8-2.2 15.6-4.1 22.4-8 5.8-1.7 6.8-1.4 4.1-0.7 13.1-0.2 23.9 2.1 9.4 2.3 9.9 1.6 2.6 0.8 2.6 1.2 2.1 1.4 2.1 1.7 2.1 2.1 2.1 2.4 3.6 5.5 6.8 12.3 2.4 3.9 2.2 2.7 1.1 0.8 0.8 0.1 1.1-0.5 0.8-2.1 0.7-4.4 2.3-17.2 0.7-4.1 0.8-2.8 0.7-1.7 1.1-1.6 1.5-1.1 1.5-0.7 1.6-0.3 1.6 0.1 5.2 1 2.1 0.8 5.7 2.8 1.6 1.2 1 1.2 1.1 1.9 0.9 2.7 0.1-4.3 1.5 4.9 0.6 0.7 0.3-0.4 0.5-1.1 1.8-7.5 0.5-1.2 0.5-0.3 4.2-0.1 3.7 0.4 3.6 1 3.1 1.3 3.2 1.8 2.6 2.2 2 2.2 2.1 3 1.6 3.4 0.8 2.6 0.8 6.6 1.4-17.1 0.6-5 0.6-2.2 0.2-0.3 1.6 0.1 1.8 0.4 1.6 0.6 2.6 1.5 2.6 2.3 2.1 2.7 2.1 3.8 1 2.8 1.1 4.3 0.9 11.3 0.2-1 1.5-15.5 0.6-4.8 0.7-3.5 0.5-1.3 0.2-0.2 3.7 0.3 3.1 0.9 3.2 1.5 2.6 1.7 2.6 2.5 2.1 2.6 1.5 2.7 1.6 3.7 1 4.1 0-0.6 0.3 70"/>
<path fill="url(#g38)" stroke-opacity="0.31" stroke-width="0.85" d="M17.5 404.9l0-131.9 4 0 15.7 4.4 33.9 9.9 69 20.8 95.6 29.4 1.2 0.6 1.4 1.8 0.5-0.2 1-1 1-0.3 20.5 0.8 28.2 0.3 42.3 2.2 50.2 1.6 5.2 0 14.6-0.3 12.6-0.7 7.3-1.1 9.9-2 6.3-1.6 14.6-4.9 8.9-2.4 9.9-2.3 11-1.9 4.7-1 6.3-2.1 16.1-4.2 22-7.7 5.7-1.8 6.8-1.4 4.2-0.6 13.1-0.3 3.6 0.2 7.9 0.9 12.5 0.9 9.4 2.2 10.5 1.6 2.6 0.8 2.1 1 2 1.4 2.1 1.6 2.1 2 2.1 2.4 3.7 5.4 6.8 12 2.3 3.8 2.3 2.7 1.1 0.7 0.8 0.1 1.1-0.5 0.7-2.1 0.8-4.3 2.2-16.9 0.8-4 0.7-2.7 0.8-1.8 1.1-1.5 1.5-1.1 1.5-0.7 1.6-0.3 1.6 0.2 5.2 1 2.1 0.8 3.1 1.6 2.6 1.1 1.6 1.2 1 1.3 1.1 1.9 0.9 2.6 0-4.6 1.4 4.1 0.3 0.7 0.4 0.3 0.2-0.1 0.5-1 1.6-7.1 0.5-1.5 0.5-0.7 3.6-0.2 3.7 0.3 3.6 0.8 3.7 1.4 3.1 1.8 2.6 2 2.1 2.1 2.1 2.8 1.6 2.9 1 2.9 0.4 1.7 0.5 5 0.2 0.4 1.4-17.6 0.9-6 0.3-0.6 0.9 0 1.7 0.3 2.1 0.6 3.1 1.7 2.6 2.4 2.1 2.7 2.1 3.9 1 2.8 1.1 4.3 0.9 10.9 1.6-16.7 1.2-7.5 0.7-1.8 3.4 0.2 3.2 0.8 3.1 1.4 2.6 1.7 2.6 2.3 2.1 2.5 2.1 3.4 1.6 3.8 0.9 4.1 0.1-0.7 0.3 69.5"/>
<path fill="url(#g39)" stroke-opacity="0.30" stroke-width="0.85" d="M17.5 405.6l0-130.5 4 0 14.2 4 35 10.2 69.7 21.1 95.8 29.4 1.1 0.7 1.5 1.7 0.5-0.2 1-1 0.9-0.2 20.6 0.7 28.3 0.3 42.4 2.2 51.3 1.6 4.2 0.1 16.2-0.4 11-0.6 7.3-1.1 10-2 6.2-1.6 14.7-4.8 8.9-2.5 9.9-2.3 11-1.8 4.7-1 6.3-2.1 16.3-4.2 21.9-7.7 5.8-1.7 6.8-1.5 4.2-0.6 13.1-0.3 3.6 0.2 7.9 0.8 12.6 0.8 9.4 2.2 10.4 1.5 2.7 0.8 2.1 1 2.1 1.2 2 1.7 2.1 1.9 2.1 2.4 3.7 5.2 6.8 11.7 2.4 3.7 2.2 2.6 1.2 0.7 0.7 0.1 1.1-0.5 0.8-2.1 0.7-4.2 2.3-16.5 0.8-4 0.7-2.6 0.8-1.8 1.1-1.5 1.4-1.1 1.6-0.6 1.6-0.3 1.5 0.1 5.3 1.1 2.1 0.8 3.1 1.6 2.6 1.1 1.6 1.2 1 1.3 1.1 1.9 0.9 2.6 0.1-4.9 1.3 4 0.5 0.7 0.3-0.1 0.9-2.1 1.6-7.3 0.7-1 3.6-0.2 3.7 0.3 3.7 0.8 3.1 1.1 3.1 1.7 2.7 1.9 2.6 2.6 2.1 2.8 1.5 3 1.1 2.9 0.4 1.6 0.4 4.8 0.2 0.3 1.5-17.9 0.5-3.7 0.4-2.1 0.3-0.3 1.4 0.1 3.3 0.8 3.1 1.8 2.6 2.4 2.1 2.7 2.1 3.9 1.1 2.8 1 4.3 0.9 10.7 1.7-17 1.1-7.4 0.5-1.2 0.2-0.2 3.5 0.3 3.1 0.8 3.1 1.4 2.7 1.7 2.6 2.3 2.1 2.5 2.1 3.5 1.5 3.8 1 4.1 0-0.8 0.4 68.9"/>
<path fill="url(#g40)" stroke-opacity="0.30" stroke-width="0.85" d="M17.6 406.4l0-129.2 4 0 14.1 4 35.2 10.3 69.7 21.2 96 29.5 1.2 0.6 1.5 1.8 0.4-0.3 1-1 1-0.2 20.6 0.7 28.3 0.3 42 2.2 52.5 1.7 3.6 0.1 16.3-0.4 11-0.6 7.3-1 10-2 6.3-1.6 14.7-4.9 8.9-2.4 10-2.3 11-1.8 4.7-1 6.3-2.1 16.3-4.2 22.5-7.9 5.3-1.5 6.8-1.4 4.2-0.6 13.1-0.4 3.1 0.1 8.4 0.9 12.6 0.7 9.5 2.1 10.4 1.4 2.7 0.8 2.1 0.9 2.1 1.3 2.1 1.6 2.1 1.9 2.1 2.3 3.6 5 5.8 9.7 3.4 5.3 2.3 2.5 1.1 0.7 0.8 0.1 1.1-0.6 0.8-2 0.7-4.2 2.3-16.1 0.7-3.8 0.8-2.6 0.7-1.7 1.2-1.5 1.4-1.1 1.6-0.6 1.6-0.3 1.5 0.2 5.3 1 2.1 0.8 3.1 1.7 2.6 1 1.6 1.2 1.1 1.3 1 1.9 1 2.6 0-5.1 1.4 3.8 0.4 0.7 0.4-0.2 0.8-2.3 1.4-6.7 0.7-1.6 3.4-0.3 4.2 0.3 3.6 0.8 3.2 1.1 3.1 1.7 2.6 1.9 2.7 2.6 2.1 2.8 1.5 3 1.1 2.9 0.5 2.4 0.3 4 0.2 0.2 1.5-18.1 0.4-3.6 0.5-2 0.2-0.2 1.7 0.1 3.1 0.8 3.1 1.8 2.6 2.4 2.1 2.7 2.1 3.9 1.1 2.8 1 4.4 1 10.6 1.6-17.1 1.2-7.3 0.4-1.2 0.3-0.2 3.4 0.3 3.2 0.9 3.1 1.4 2.6 1.7 2.6 2.3 2.1 2.5 2.1 3.5 1.6 3.8 1 4.2 0-0.9 0.4 68.4"/>
<path fill="url(#g41)" stroke-opacity="0.30" stroke-width="0.85" d="M17.6 407.2l0-127.8 4 0 13.6 3.9 35.3 10.3 69.9 21.2 96.7 29.8 1.1 0.6 1.5 1.8 0.5-0.3 1-1 1-0.2 20.6 0.7 28.4 0.3 41.5 2.2 54.2 1.8 19.9-0.3 10-0.6 7.4-1 10-2 6.3-1.6 14.7-4.8 8.9-2.5 10-2.2 11-1.9 4.8-1 6.3-2 16.3-4.2 22.6-7.8 5.2-1.6 6.9-1.4 4.2-0.6 13.1-0.5 3.1 0.2 8.5 0.9 12.6 0.5 9.4 2.1 10.5 1.3 2.1 0.6 2.1 0.8 2.2 1.1 2.6 1.9 2.1 1.9 2.1 2.2 3.7 4.9 5.7 9.3 3.5 5.2 2.2 2.4 1.2 0.6 0.7 0.1 1.2-0.5 0.7-2 0.8-4.1 2.2-15.7 1.2-5.3 0.7-1.9 0.9-1.5 1-1 1.5-1 1.2-0.4 1.5-0.2 5.3 0.8 2.6 0.7 4.2 2.2 2.1 0.7 1.6 1 1.6 1.7 1 1.9 1 2.7 0-5.4 1.4 3.8 0.4 0.5 0.4-0.2 0.8-2.5 1.4-6.8 0.7-1.7 2.9-0.2 3.6 0.1 3.7 0.6 3.2 1 3.1 1.5 3.2 2.1 2.6 2.4 2.1 2.6 2.1 3.8 1.1 2.9 0.5 2.4 0.3 4.1 0.2 0.2 1.2-15.8 0.9-7 0.5-1.2 2.2 0.1 3.1 1 3.2 2 2.6 2.6 2.6 3.9 1.1 2.1 1 2.9 1.1 4.3 0.9 10.7 1.9-19 0.8-5.1 0.4-1.1 0.4-0.6 2.9 0.3 3.2 0.7 3.1 1.3 2.7 1.6 2.6 2.2 2.1 2.4 1.6 2.2 1.5 3 1.1 2.8 1 4.1 0-0.9 0.3 67.9"/>
<path fill="url(#g42)" stroke-opacity="0.29" stroke-width="0.85" d="M17.6 407.9l0-126.2 4 0 13.7 3.9 35.3 10.3 70 21.3 96.9 29.8 1.2 0.6 1.5 1.8 0.5-0.2 0.9-1.1 1-0.2 20.7 0.8 28.5 0.3 41 2.1 55.3 1.9 20-0.3 9.5-0.5 7.4-1.1 10-1.9 6.3-1.7 14.8-4.8 8.9-2.4 10-2.3 11.1-1.8 4.7-1 6.3-2 16.4-4.2 22.6-7.8 5.3-1.6 6.3-1.2 4.7-0.7 13.2-0.6 3.2 0.2 8.4 0.9 12.6 0.4 9.5 2.1 11.1 1.3 3.7 1.1 2.1 1.1 2.6 1.9 2.1 1.8 2.1 2.1 3.7 4.8 5.8 9 3.4 5 2.3 2.3 1.1 0.6 0.8 0.1 1.1-0.6 0.8-1.9 0.7-4 2.3-15.2 1.1-5.1 0.8-2 0.7-1.3 1.2-1.1 1.1-0.8 1.5-0.6 1.6-0.2 4.8 0.7 3.1 0.8 4.2 2.2 2.1 0.7 1.6 1 1.6 1.7 1.1 1.9 0.9 2.7 0-5.6 1.4 3.6 0.5 0.5 0.3-0.2 0.8-2.7 1.5-7 0.7-1.6 2.8-0.3 3.7 0.1 3.7 0.6 3.1 1 3.2 1.5 3.2 2.1 2.6 2.4 2.1 2.6 2.1 3.8 1.1 2.9 0.5 2.4 0.3 4.1 0.2 0.2 1.2-15.8 0.9-7 0.5-1.3 2.2 0.2 3.1 1 3.2 2 2.6 2.6 2.6 3.8 1.1 2.2 1 2.8 1.1 4.4 0.9 10.8 1.9-19 0.9-5.2 0.3-1 0.5-0.6 2.9 0.2 3.1 0.8 3.2 1.3 2.6 1.6 2.7 2.2 2.1 2.4 1.5 2.2 1.6 3 1.1 2.7 1 4.2 0-0.9 0.3 67.2"/>
<path fill="url(#g43)" stroke-opacity="0.29" stroke-width="0.85" d="M17.6 408.7l0-124.7 4 0 13.8 3.9 35.3 10.4 70.2 21.3 97.1 29.9 1.2 0.6 1.4 1.8 0.5-0.3 1-1 1-0.2 20.7 0.7 28.5 0.3 40.7 2.1 56.4 2 19.5-0.3 9.5-0.5 7.4-1 10.1-1.9 6.3-1.7 14.8-4.8 8.9-2.4 10.1-2.3 11-1.8 4.8-1 6.3-2 16.4-4.1 22.7-7.8 5.2-1.6 6.4-1.3 4.7-0.6 13.2-0.6 3.2 0.1 8.4 0.9 13.2 0.4 9 2 11.6 1.3 3.7 1.2 2.1 1.1 2.1 1.5 4.2 3.8 3.2 3.9 6.3 9.4 3.2 4.4 2.2 2.3 1.1 0.7 0.9 0.3 0.6-0.2 0.8-0.4 0.7-1.9 0.8-3.9 2.3-14.8 1.1-5 0.8-1.8 0.7-1.3 1.2-1.1 1.1-0.7 1.5-0.6 1.6-0.2 4.8 0.6 3.1 0.9 4.2 2.1 2.2 0.8 1.5 0.9 1.6 1.8 1.1 1.9 0.9 2.6 0-5.8 1.4 3.6 0.5 0.4 0.3-0.3 0.9-2.8 1.4-7.2 0.7-1.6 2.8-0.3 3.7 0 3.2 0.5 3.2 0.9 3.1 1.4 3.2 2 2.6 2.3 2.7 3.1 2.1 3.8 1 2.9 0.6 2.4 0.3 4.1 0.2 0.3 1.2-15.9 0.9-7 0.5-1.3 2.2 0.2 3.1 1 3.2 2 2.6 2.6 2.7 3.9 1 2.2 1.1 2.8 1 4.4 1 10.9 1.8-19.1 0.9-5.2 0.3-1 0.5-0.6 2.9 0.3 3.2 0.7 3.1 1.3 2.7 1.6 2.6 2.2 2.1 2.4 1.6 2.3 1.6 3 1.1 2.7 0.9 4.2 0.1-1 0.3 66.6"/>
<path fill="url(#g44)" stroke-opacity="0.29" stroke-width="0.85" d="M17.7 409.5l0-123.2 4 0 13.7 3.9 35.4 10.4 70.9 21.6 96.7 29.7 1.2 0.7 1.5 1.8 0.5-0.3 1-1 1-0.2 20.7 0.7 28.6 0.3 40.7 2.1 57.6 2.1 19.6-0.3 8.5-0.5 7.4-1 10-1.9 6.3-1.7 14.9-4.8 8.9-2.4 10.1-2.2 11.1-1.8 4.7-1 6.4-2.1 16.4-4.1 22.7-7.7 5.3-1.6 5.8-1.2 5.3-0.7 13.2-0.7 2.7 0.1 9 1 13.2 0.2 9 2 11.1 1.1 3.7 1 2.1 1 2.1 1.4 2.6 2 2.2 2 3.1 3.8 5.8 8.3 3.7 4.9 2.2 2.2 1.2 0.7 0.9 0.2 0.6-0.1 0.7-0.5 0.8-1.8 0.8-3.8 2.2-14.3 1.2-4.9 0.7-1.7 0.8-1.2 1.1-1.2 1.2-0.7 1.5-0.6 1.6-0.1 4.8 0.6 3.1 0.9 4.3 2.1 2.1 0.7 1.6 1 1.5 1.7 1.1 1.9 0.9 2.7 0.1-6 1.4 3.4 0.4 0.4 0.4-0.4 0.8-2.9 1.4-7.3 0.7-1.7 2.9-0.3 3.7 0.1 3.2 0.4 3.1 0.9 3.2 1.4 3.2 2 2.6 2.2 2.7 3.2 2.1 3.8 1 2.9 0.5 2.4 0.4 4.1 0.2 0.3 1.2-15.9 0.9-7 0.5-1.3 1.9 0.2 1.8 0.4 1.6 0.6 3.2 2 2.6 2.6 2.7 3.9 1 2.2 1.1 2.8 1.1 4.4 0.9 11 1.9-19.1 0.9-5.2 0.3-1 0.4-0.6 3 0.2 3.1 0.8 3.2 1.3 2.6 1.6 2.7 2.2 2.1 2.4 1.6 2.3 1.6 3 1 2.7 1 4.2 0.1-1 0.3 65.9"/>
<path fill="url(#g45)" stroke-opacity="0.29" stroke-width="0.85" d="M17.7 410.2l0-121.5 4 0 13.8 3.9 35.4 10.4 71 21.6 97 29.8 1.2 0.6 1.5 1.9 0.4-0.3 1-1 1-0.3 20.8 0.8 28.7 0.3 39.7 2.1 58.8 2.1 19.6-0.3 8.5-0.4 7.4-1 10.1-1.9 6.3-1.6 14.8-4.8 9-2.4 10.6-2.4 10.6-1.7 4.3-0.9 6.9-2.1 16.4-4.1 22.8-7.8 5.3-1.5 5.3-1.1 5.3-0.7 13.7-0.8 2.7 0.1 9 1 13.2 0.1 9 1.9 11.2 1 3.7 1 2.1 1 2.1 1.2 2.7 2.1 2.1 1.9 3.2 3.6 5.8 8 3.6 4.5 2.3 2.3 1.1 0.6 0.9 0.2 0.6-0.2 0.8-0.5 0.8-1.7 0.7-3.7 2.3-13.8 1.2-4.7 0.7-1.7 0.8-1.2 1.1-1.1 1.1-0.7 1.6-0.5 1.6-0.2 4.7 0.7 3.2 0.8 4.3 2.1 2.1 0.7 1.6 1 1.6 1.7 1 1.9 1 2.7 0-6.2 1.4 3.3 0.5 0.3 0.3-0.4 0.8-3 1.5-7.5 0.7-1.7 2.8-0.3 3.7 0 3.2 0.5 3.2 0.9 3.2 1.3 3.1 2 2.7 2.3 2.6 3.2 2.2 3.7 1 3 0.5 2.4 0.4 4.1 0.2 0.3 1.2-15.9 0.9-7.1 0.5-1.2 1.9 0.1 1.8 0.4 1.6 0.6 3.2 2 2.7 2.6 2.6 3.9 1.1 2.2 1 2.9 1.1 4.4 0.9 11.1 1.9-19.1 0.9-5.2 0.3-1.1 0.5-0.6 2.9 0.3 3.2 0.7 3.2 1.3 2.6 1.7 2.7 2.2 2.1 2.3 1.6 2.3 1.6 3 1 2.8 1 4.2 0-1.1 0.4 65.1"/>
<path fill="url(#g46)" stroke-opacity="0.28" stroke-width="0.85" d="M17.7 411l0-119.9 4 0 14.3 4 35.6 10.5 70.6 21.4 97.1 29.9 1.2 0.6 1.5 1.8 0.5-0.2 1-1.1 1-0.2 20.9 0.8 28.6 0.3 39.3 2 59.4 2.3 19.7-0.3 8.5-0.4 8.5-1.2 9.5-1.8 7.5-2 13.8-4.5 8.5-2.2 10.6-2.4 10.6-1.7 4.2-0.8 6.9-2.2 16.5-4 22.8-7.8 5.3-1.5 5.3-1.1 5.3-0.7 13.8-0.9 2.7 0.1 9 1 13.3 0 9 1.9 4.3 0.5 6.9 0.5 2.1 0.3 1.6 0.5 2.1 1 2.1 1.2 4.3 3.3 3.2 3.4 6.3 8.3 3.7 4.3 2.2 2.1 1.2 0.6 0.9 0.2 0.6-0.2 0.8-0.5 0.7-1.8 0.8-3.4 2.3-13.4 1.2-4.5 0.7-1.6 0.7-1.2 1.2-1.1 1.1-0.6 1.6-0.6 1.6-0.2 4.7 0.7 3.2 0.8 4.3 2.2 2.1 0.6 1.6 1 1.6 1.7 1 2 1 2.6 0-6.4 1.4 3.3 0.5 0.2 0.3-0.4 0.6-2 1.7-8.8 0.7-1.7 2.9-0.3 3.1 0 3.2 0.3 3.2 0.8 3.2 1.3 3.2 1.9 2.6 2.1 2.7 2.9 1.6 2.5 1.6 3.4 0.9 3.3 0.5 4.9 0.2 0.2 1.2-15.9 0.9-7 0.5-1.3 1.9 0.1 1.8 0.4 1.6 0.7 3.2 1.9 2.7 2.6 2.6 4 1.1 2.1 1.1 2.9 1 4.4 1 11.2 1.9-19.1 0.8-5.2 0.3-1.1 0.5-0.6 2.9 0.3 3.2 0.7 3.2 1.3 2.7 1.7 2.6 2.2 2.1 2.3 1.6 2.3 1.6 3 1.1 2.8 1 4.2 0-1.1 0.3 64.3"/>
<path fill="url(#g47)" stroke-opacity="0.28" stroke-width="0.85" d="M17.7 411.8l0-118.4 4 0 14.4 4.1 35.6 10.5 70.8 21.4 97.3 30 1.2 0.6 1.5 1.8 0.5-0.3 1-1 1-0.2 20.9 0.7 28.7 0.3 38.8 2.1 60.1 2.3 19.7-0.2 9-0.5 10.1-1.5 7.5-1.4 7.4-2 13.9-4.5 8.5-2.2 10.6-2.4 10.6-1.7 4.3-0.8 6.9-2.2 16.5-4 23.4-7.9 4.8-1.4 4.8-0.9 5.8-0.8 13.9-1 2.6 0.1 5.9 0.8 3.2 0.3 13.3-0.1 9 1.9 4.8 0.5 6.9 0.4 3.2 0.7 2.1 0.9 2.1 1.3 4.3 3.1 3.2 3.2 6.4 7.9 3.6 4.1 2.3 2 1.1 0.6 0.9 0.1 0.7-0.1 0.7-0.6 0.8-1.7 0.8-3.3 2.2-12.8 1.2-4.3 0.8-1.6 0.7-1.2 1.2-1 1.1-0.7 1.5-0.5 1.6-0.2 5.4 0.8 2.6 0.7 4.3 2.1 2.1 0.7 1.6 0.9 1.6 1.8 1.1 1.9 0.9 2.7 0-6.6 1.4 3.2 0.3 0.2 0.4-0.3 0.8-2.3 1.6-8.9 0.7-1.8 2.9-0.3 3.2 0 3.2 0.3 3.2 0.8 3.2 1.3 3.2 1.8 2.6 2.2 2.7 2.9 1.6 2.4 1.6 3.5 0.9 3.3 0.5 4.9 0.2 0.2 1.2-15.9 0.9-7.1 0.5-1.3 1.9 0.2 1.8 0.4 1.6 0.6 3.2 2 2.7 2.6 2.7 4 1 2.2 1.1 2.8 1 4.4 1 11.3 1.9-19.2 0.7-4.4 0.7-2.3 0.2-0.1 1.9 0.1 3.2 0.6 3.2 1.1 2.7 1.4 2.6 2 2.2 2.1 2.1 2.7 1.6 2.7 1.6 3.9 1 4.2 0-1.1 0.3 63.4"/>
<path fill="url(#g48)" stroke-opacity="0.28" stroke-width="0.85" d="M17.8 412.6l0-116.8 4 0 14.3 4.1 35.7 10.5 70.9 21.4 97.6 30 1.1 0.6 1.5 1.8 0.5-0.2 1-1.1 1-0.2 21 0.8 28.7 0.3 37.9 2 61.3 2.4 19.7-0.2 9-0.4 10.2-1.5 7.4-1.5 7.5-1.9 14.4-4.6 8.5-2.3 10.1-2.2 10.7-1.7 4.3-0.8 6.9-2.2 16.5-4 23.5-7.9 4.7-1.4 4.8-0.9 5.9-0.8 13.9-1 2.6 0.1 5.9 0.9 3.2 0.2 4.8 0.1 6.4-0.4 2.1 0.1 9.6 2 4.8 0.4 6.4 0.3 3.2 0.7 2.1 0.9 2.2 1.2 4.2 3 3.2 3.1 5.9 6.9 3.7 4 2.7 2.3 1.2 0.6 0.9 0.1 0.6-0.2 0.8-0.5 0.7-1.6 0.8-3.3 1.9-10.5 1.1-4.4 1-2.7 0.6-0.9 1-1.2 2.2-1.2 1.6-0.4 1-0.1 5.4 0.8 3.2 0.9 3.7 1.9 2.6 0.9 1.6 1.1 1.6 2.2 1.5 3.8 0.1-6.8 1.4 3.1 0.2 0.2 0.5-0.3 0.7-2.4 1.9-10 0.5-0.8 0.7-0.2 2.7-0.3 2.6 0.1 2.7 0.2 2.7 0.6 2.6 0.9 2.2 0.9 2.1 1.3 2.1 1.5 2.2 2 1.6 1.9 1.6 2.4 1 2.1 1.5 4.7 0.5 4.9 0.2 0.2 1.2-15.9 0.9-7.1 0.5-1.3 1.9 0.1 1.8 0.5 1.6 0.6 3.2 2 2.7 2.6 2.7 3.9 1 2.2 1.1 2.9 1.1 4.4 0.9 11.4 1.9-19.2 0.7-4.5 0.7-2.3 0.3-0.1 1.9 0.1 3.2 0.6 3.2 1.1 2.6 1.5 2.7 1.9 2.1 2.1 2.2 2.7 1.6 2.8 1.6 3.8 1 4.3 0-1.2 0.3 62.5"/>
<path fill="url(#g49)" stroke-opacity="0.28" stroke-width="0.85" d="M17.8 413.3l0-115.1 4 0 14.4 4.1 35.8 10.4 71 21.5 97.7 30 1.2 0.6 1.5 1.8 0.5-0.2 1-1.1 1-0.2 21 0.8 28.8 0.3 37.4 2 61.9 2.5 19.8-0.2 9.1-0.4 10.1-1.5 7.5-1.4 7.5-2 14.4-4.6 8.5-2.2 10.2-2.3 10.6-1.6 4.3-0.9 7-2.2 16.5-4 23.5-7.8 4.8-1.4 4.8-0.9 5.9-0.8 13.9-1.1 2.6 0.2 5.9 0.9 3.2 0.2 4.8 0 6.4-0.4 2.2 0 9.6 2.1 5.3 0.5 5.9 0.1 3.2 0.6 3.7 1.7 4.8 3.3 3.2 2.9 5.9 6.6 3.8 3.8 2.7 2.1 1.1 0.5 1 0.2 1.3-0.8 0.8-1.5 0.8-3.2 1.9-10 1-4.2 1.1-2.6 1.6-2 2-1.2 2.3-0.4 5.3 0.6 2.2 0.5 1.6 0.5 3.7 1.9 2.7 0.9 1.6 1.1 1.6 2.2 1.5 3.8 0-6.9 1.4 3 0.3 0.2 0.4-0.4 0.7-2.5 1.9-10.1 0.5-0.9 1.3-0.2 2.6-0.2 2.7 0 4.8 0.8 2.7 0.9 2.1 1 2.2 1.2 2.1 1.6 2.1 1.9 1.6 1.9 1.6 2.5 1.1 2.1 1.5 4.6 0.4 4.9 0.2 0.3 1.3-16 0.9-7.1 0.5-1.3 1.9 0.2 1.9 0.4 1.6 0.6 3.2 2 2.6 2.6 2.7 4 1.1 2.2 1 2.8 1.1 4.5 1 11.5 1.9-19.3 0.7-4.5 0.7-2.2 0.2-0.2 1.9 0.1 3.2 0.6 3.2 1.1 2.7 1.5 2.7 1.9 2.1 2.1 2.1 2.8 1.6 2.7 1.6 3.9 1 4.2 0.1-1.2 0.3 61.4"/>
<path fill="url(#g50)" stroke-opacity="0.28" stroke-width="0.85" d="M17.8 414.1l0-113.6 4 0 15 4.3 35.3 10.3 71.2 21.4 97.9 30.1 1.2 0.6 1.5 1.8 0.5-0.3 1-1 1-0.2 21 0.7 28.9 0.3 36.3 2 63.2 2.6 19.8-0.1 9.1-0.4 10.1-1.5 7.5-1.4 7.5-2 14.5-4.6 8.5-2.2 10.2-2.2 10.7-1.7 4.3-0.9 6.9-2.1 16.6-4 23.6-7.9 4.8-1.4 4.2-0.8 6.5-0.8 13.9-1.1 2.7 0.1 5.8 0.9 3.3 0.3 5.3-0.1 5.9-0.4 2.1 0 9.7 2 5.3 0.6 6.4 0.1 2.7 0.5 3.7 1.6 4.9 3.2 2.6 2.3 6.5 6.8 3.7 3.4 2.8 2.1 1.1 0.4 0.9 0.1 1.4-0.7 0.8-1.5 0.7-3 2-9.6 1-4 1.1-2.5 1.6-1.9 2-1.1 2.3-0.5 5.3 0.7 2.2 0.4 1.6 0.6 3.7 1.8 2.1 0.6 1.6 1 1.1 1 1.1 1.6 1.5 3.8 0-7 1.4 3 0.3 0.1 0.4-0.4 0.7-2.6 1.9-10.2 0.5-0.9 1.3-0.3 2.7-0.2 2.7 0.1 4.8 0.8 2.7 0.8 2.1 1 2.1 1.2 2.2 1.6 2.1 2 1.6 1.9 1.6 2.4 1.1 2.1 1.5 4.7 0.4 4.9 0.2 0.3 1.3-16.1 0.9-7.1 0.5-1.3 1.9 0.2 1.9 0.4 1.6 0.6 3.2 2 2.6 2.7 2.7 3.9 1.1 2.2 1.1 2.9 1 4.4 1 11.6 1.9-19.3 0.7-4.5 0.7-2.3 0.3-0.1 1.8 0.1 3.3 0.6 3.2 1.1 2.6 1.4 2.7 2 2.2 2.1 2.1 2.8 1.6 2.7 1.6 3.9 1 4.2 0-1.2 0.3 60.3"/>
<path fill="url(#g51)" stroke-opacity="0.28" stroke-width="0.85" d="M17.8 414.9l0-112 4 0 15.6 4.4 34.8 10.1 71.8 21.6 97.6 29.9 1.2 0.7 1.5 1.8 0.5-0.3 1-1 1-0.2 21.1 0.7 28.9 0.3 35.4 1.9 35.9 1.4 28.4 1.3 19.9-0.1 9.1-0.3 10.7-1.6 7.5-1.4 7-1.8 13.9-4.5 9.1-2.4 10.2-2.2 10.7-1.7 4.3-0.9 7-2.1 16.6-4 23.6-7.9 4.8-1.4 4.3-0.8 6.5-0.7 13.9-1.2 2.7 0.1 5.9 1 3.2 0.2 5.3 0 5.9-0.6 2.2 0 2.1 0.4 5.4 1.4 2.7 0.4 5.3 0.5 5.9 0 2.7 0.5 3.8 1.6 4.8 3 2.7 2.2 5.9 5.9 3.7 3.3 2.9 2.2 1.2 0.5 1.1 0.2 0.8-0.2 0.8-0.6 0.7-1.4 0.8-2.9 1.9-9.1 1.1-3.8 1-2.4 1.7-1.9 2-1.1 2.2-0.4 5.9 0.7 3.3 0.9 3.7 1.9 2.2 0.5 1.6 1 1 1 1.1 1.6 1.5 3.8 0-7.1 1.4 3 0.3 0.1 0.4-0.5 0.8-2.6 1.9-10.4 0.5-0.9 1.8-0.3 2.7-0.2 2.6 0.1 4.9 0.9 2.6 1 2.2 1 2.1 1.3 2.2 1.6 1.6 1.6 1.6 1.9 1.6 2.4 1.1 2.1 1.5 4.7 0.4 4.9 0.2 0.3 1.3-16.1 0.9-7.1 0.5-1.3 1.9 0.2 1.9 0.4 1.6 0.6 3.2 2 2.7 2.7 2.6 3.9 1.1 2.2 1.1 2.9 1.1 4.5 0.9 11.6 1.9-19.4 0.7-4.5 0.8-2.2 0.2-0.1 1.9 0.1 3.2 0.5 3.2 1.2 2.7 1.4 2.7 2 2.1 2.1 2.2 2.7 1.6 2.8 1.6 3.9 1 4.2 0-1.2 0.3 59.1"/>
<path fill="url(#g52)" stroke-opacity="0.28" stroke-width="0.85" d="M17.8 415.6l0-110.3 4 0 15.6 4.4 35.5 10.3 71.4 21.4 97.8 29.9 1.2 0.6 1.5 1.9 0.5-0.3 1-1 1-0.3 21.1 0.8 29 0.3 34.9 1.9 36.5 1.4 28.5 1.4 19.9-0.1 9.1-0.4 10.7-1.5 7.6-1.4 6.9-1.8 14.6-4.6 8.5-2.3 10.3-2.2 10.7-1.7 4.3-0.9 7-2.1 12.3-2.9 4.9-1.3 23.1-7.6 4.8-1.5 5.9-0.9 18.8-1.8 2.7 0.1 5.4 1 3.7 0.3 5.4-0.1 5.9-0.6 2.1 0 2.2 0.4 5.4 1.4 2.7 0.4 5.3 0.5 5.9-0.1 2.7 0.5 3.8 1.5 4.8 2.9 2.7 2.1 6.4 6.2 3.3 2.5 3.2 2.1 1.1 0.4 0.9 0.1 0.8-0.2 0.7-0.5 0.8-1.4 0.8-2.8 1.9-8.6 1-3.7 1.1-2.3 1.6-1.7 1.6-0.9 1.7-0.5 1.6-0.1 2.6 0.3 4.9 0.9 2.1 0.9 2.7 1.4 2.2 0.5 1.6 0.9 1.6 1.8 1.1 2 0.9 2.7 0-7.2 1.2 2.6 0.5 0.4 0.2-0.1 0.5-1 0.4-1.7 1.5-8.8 0.7-2.5 0.5-0.6 2.2-0.2 2.6-0.1 2.7 0.1 4.9 1 2.6 1 2.2 1.1 3.8 2.6 1.6 1.6 1.6 1.9 1.6 2.4 1.1 2.1 1.5 4.7 0.4 5 0.2 0.2 1.1-14.2 0.9-7.9 0.4-2.1 0.3-0.3 1.7 0.1 2.1 0.5 1.6 0.6 3.2 2 2.7 2.7 2.7 3.9 1 2.2 1.1 2.9 1.1 4.5 0.9 11.7 2-19.4 0.7-4.5 0.7-2.3 0.2-0.1 1.9 0.1 3.3 0.6 3.2 1.1 2.7 1.4 2.6 2 2.2 2.1 2.1 2.8 1.7 2.7 1.6 3.9 1 4.3 0-1.3 0.3 57.8"/>
<path fill="url(#g53)" stroke-opacity="0.28" stroke-width="0.85" d="M17.9 416.4l0-108.7 4 0 16.1 4.5 35 10.1 71.6 21.4 97.9 30 1.2 0.6 1.5 1.8 0.5-0.2 1-1.1 1-0.2 21.2 0.8 29.1 0.3 33.9 1.8 37.6 1.5 28.6 1.4 19.9 0 9.1-0.4 10.8-1.5 7.5-1.4 7-1.8 14.5-4.6 8.7-2.3 10.2-2.2 10.7-1.7 4.3-0.9 7-2.2 12.4-2.8 4.9-1.3 23.1-7.6 4.9-1.5 5.3-0.8 19.4-2 2.7 0.2 5.4 1 3.7 0.3 5.4 0 6-0.7 2.1 0 2.2 0.3 5.3 1.5 3.3 0.5 4.8 0.4 5.9-0.1 2.7 0.4 3.3 1.2 4.8 2.7 3.2 2.4 4.9 4.4 2.7 2.2 4.8 3.2 1.4 0.6 1.1 0.1 0.8-0.2 0.8-0.5 0.7-1.4 0.8-2.6 2-8.2 1-3.5 1.1-2.2 1.6-1.7 1.7-0.8 2.1-0.5 4.3 0.4 4.3 0.7 2.1 0.9 2.7 1.4 2.2 0.5 1.6 0.9 1.6 1.8 1.1 2 0.9 2.7 0.1-7.2 1.1 2.5 0.5 0.4 0.3-0.1 0.4-1.1 0.4-1.7 1.6-8.9 0.6-2.5 0.5-0.5 2.2-0.3 2.7-0.1 2.7 0.1 4.8 1 2.7 1 2.2 1.1 3.7 2.6 1.6 1.6 1.7 1.9 1.6 2.4 1 2.1 1.5 4.7 0.5 5 0.2 0.3 1.1-14.3 0.9-8 0.4-2 0.3-0.3 1.7 0.1 2.1 0.5 1.6 0.6 3.2 2 2.7 2.7 2.7 3.9 1.1 2.3 1 2.8 1.1 4.5 1 11.7 1.9-19.4 0.7-4.5 0.7-2.3 0.3-0.1 1.9 0.1 3.2 0.6 3.2 1.1 2.7 1.5 2.7 2 2.2 2.1 2.1 2.7 1.6 2.8 1.6 3.9 1.1 4.3 0-1.3 0.3 56.4"/>
<path fill="url(#g54)" stroke-opacity="0.29" stroke-width="0.85" d="M17.9 417.2l0-107.1 4 0 16.7 4.7 34.5 9.9 71.7 21.4 98.2 29.9 1.2 0.7 1.5 1.8 0.5-0.3 1-1 1-0.2 21.2 0.7 29.1 0.3 32.9 1.8 38.3 1.5 29.1 1.5 20.5 0 9.2-0.4 10.2-1.4 7.6-1.4 7-1.8 14.5-4.6 8.7-2.3 10.2-2.3 10.8-1.7 4.3-0.8 7-2.2 12.4-2.8 4.9-1.3 23.7-7.8 4.3-1.3 4.9-0.8 19.9-2 2.7 0.2 5.4 1.1 3.8 0.3 5.4-0.1 5.9-0.7 2.2-0.1 2.1 0.4 5.4 1.5 3.8 0.6 4.8 0.4 6-0.2 2.1 0.3 3.3 1.2 4.8 2.6 2.7 1.8 5.4 4.7 2.7 2 4.9 3 1.3 0.5 1.2 0.1 0.8-0.3 0.7-0.5 0.8-1.4 3.1-11.5 1.2-3.1 0.8-1.2 1.1-1.1 1.2-0.8 1.2-0.5 1.7-0.3 1 0 7 1 2.2 0.8 3.2 1.6 2.7 0.7 1.6 1.2 1.1 1.3 1.1 2 1 2.8 0-7.3 1.4 2.8 0.3 0.1 0.4-0.6 0.7-2.4 1.5-9 0.6-2.5 0.6-0.5 3.7-0.4 4.9 0.2 2.7 0.6 2.2 0.6 4.3 2.1 3.7 2.8 1.7 1.7 1.6 2 2.1 3.8 1.5 4.7 0.5 5 0.2 0.3 1.1-14.3 0.9-8 0.4-2 0.3-0.3 1.7 0.1 2.1 0.5 1.6 0.6 3.2 2 2.7 2.7 2.7 3.9 1.1 2.3 1.1 2.9 1 4.4 1 11.8 1.9-19.4 0.8-4.6 0.7-2.2 0.2-0.2 1.9 0.1 3.2 0.6 2.7 0.9 2.7 1.4 2.7 1.8 2.2 2 2.2 2.6 1.6 2.5 1 2.1 1.1 2.9 1 4.2 0.1-1.3 0.3 55"/>
<path fill="url(#g55)" stroke-opacity="0.29" stroke-width="0.86" d="M17.9 417.9l0-105.4 4 0 17.3 4.8 34.6 9.9 71.8 21.4 97.8 29.7 1.2 0.7 1.6 1.8 0.5-0.2 1-1.1 1-0.2 21.2 0.7 29.2 0.3 31.9 1.8 39.4 1.6 29.2 1.5 20.5 0 9.2-0.3 10.3-1.4 8.1-1.6 7-1.8 14-4.5 8.7-2.2 10.2-2.3 10.8-1.7 4.4-0.9 7.5-2.3 11.9-2.7 4.9-1.3 23.8-7.8 4.3-1.2 4.3-0.8 14.6-1.3 5.9-0.7 2.2 0 5.9 1.3 3.8 0.3 5.4-0.1 6-0.8 2.1-0.1 2.2 0.4 5.4 1.5 4.3 0.7 4.3 0.4 6-0.3 2.1 0.3 3.3 1.2 5.4 2.8 2.7 1.9 5.4 4.4 4.3 2.7 3.2 1.6 2.1 0.4 0.7-0.3 0.8-0.5 0.8-1.3 3.1-11 1.2-2.9 0.7-1.1 1.2-1.1 1.1-0.7 1.3-0.5 2.7-0.3 7 1 2.2 0.7 3.2 1.6 2.7 0.7 1.7 1.2 1 1.4 1.1 2 1 2.7 0-7.3 1.4 2.8 0.3 0.1 0.5-0.6 0.6-2.4 1.5-9.1 0.7-2.5 0.5-0.5 3.8-0.4 4.9 0.2 2.7 0.5 2.1 0.7 4.3 2.1 3.8 2.8 1.6 1.7 1.7 2 2.1 3.9 1.5 4.7 0.5 4.9 0.2 0.3 1.1-14.3 0.9-8 0.4-2 0.3-0.3 1.7 0.1 2.1 0.5 1.6 0.6 3.2 2 2.7 2.7 2.7 3.9 1.1 2.3 1.1 2.9 1.1 4.5 0.9 11.7 2-19.4 0.7-4.6 0.7-2.2 0.3-0.2 1.9 0.1 3.2 0.6 2.7 0.9 2.7 1.4 2.7 1.9 2.2 1.9 2.1 2.6 1.6 2.5 1.1 2.2 1.1 2.8 1 4.3 0-1.3 0.3 53.3"/>
<path fill="url(#g56)" stroke-opacity="0.29" stroke-width="0.86" d="M17.9 418.7l0-103.8 4 0 17.9 4.9 34.1 9.8 72 21.3 98 29.7 1.2 0.7 1.5 1.8 0.5-0.2 1-1.1 1-0.2 21.3 0.8 29.2 0.3 30.9 1.6 40.6 1.7 29.2 1.6 20.6 0 9.2-0.3 10.3-1.4 8.1-1.6 7-1.8 14.1-4.4 9.2-2.4 9.8-2.2 10.8-1.7 4.3-0.9 7.6-2.3 11.9-2.7 4.9-1.2 23.8-7.9 4.3-1.2 3.8-0.7 15.2-1.3 5.9-0.8 2.2 0.1 6 1.3 3.7 0.3 5.5-0.1 5.9-0.9 2.2 0 2.1 0.3 6 1.7 4.3 0.7 3.8 0.3 5.4-0.3 2.7 0.3 3.3 1.1 5.4 2.7 2.7 1.8 4.9 3.8 2.7 1.7 4.9 2.4 1.4 0.5 1.1 0 0.8-0.2 0.8-0.6 0.7-1.2 3.2-10.4 1.2-2.8 0.7-1 1.2-1 1.3-0.8 1.6-0.5 2.2-0.1 7 0.9 2.2 0.7 3.2 1.6 2.8 0.7 1.6 1.2 1.1 1.4 1 2 1 2.8 0-7.4 1.5 2.8 0.3 0.1 0.4-0.6 0.6-2.4 1.6-9.2 0.6-2.5 0.5-0.5 3.8-0.4 4.9 0.2 2.7 0.5 2.2 0.7 2.1 0.9 2.2 1.2 3.8 2.8 1.6 1.7 1.6 2 2.2 3.9 1.5 4.7 0.5 5 0.2 0.3 1.1-14.4 0.8-8 0.5-2 0.3-0.3 1.7 0.1 2.1 0.5 1.6 0.6 3.2 2 2.7 2.7 2.8 4 1 2.2 1.1 2.9 1.1 4.5 1 11.8 1.9-19.5 0.7-4.5 0.7-2.3 0.3-0.1 1.9 0.1 3.2 0.5 2.8 0.9 2.7 1.4 2.7 1.9 2.1 2 2.2 2.5 1.6 2.6 1.1 2.1 1.1 2.8 1 4.3 0-1.3 0.3 51.7"/>
<path fill="url(#g57)" stroke-opacity="0.29" stroke-width="0.86" d="M18 419.5l0-102.2 4 0 18.4 5 33.6 9.6 72.2 21.2 98.1 29.8 1.3 0.7 1.5 1.8 0.5-0.3 1-1 1-0.2 21.3 0.7 29.3 0.3 29.8 1.7 41.3 1.7 29.8 1.6 20.6 0.1 9.2-0.3 10.3-1.4 8.2-1.5 7-1.9 14.1-4.4 9.2-2.4 9.8-2.2 10.8-1.7 4.4-0.9 7.6-2.3 11.9-2.7 4.9-1.3 16.3-5.2 7.6-2.6 4.3-1.2 3.8-0.7 15.2-1.3 5.9-0.9 2.8 0.2 5.4 1.3 3.2 0.3 6 0 6-1 2.1-0.1 2.2 0.4 6 1.8 4.9 0.8 3.2 0.2 5.4-0.4 2.7 0.3 3.3 1.1 5.4 2.6 2.7 1.8 4.9 3.6 2.2 1.3 5.4 2.4 1.4 0.4 1.2 0 0.8-0.2 0.7-0.6 0.8-1.2 3.1-9.7 1.2-2.7 0.8-0.9 1.1-1 1.4-0.8 1.6-0.4 2.2-0.1 7 0.9 2.2 0.7 3.3 1.5 2.7 0.7 1.6 1.2 1.1 1.4 1.1 2 0.9 2.8 0.1-7.3 1.4 2.7 0.3 0.1 0.4-0.6 0.7-2.4 1.5-9.2 0.6-2.5 0.6-0.5 3.8-0.4 4.9 0.2 2.7 0.5 2.1 0.7 2.2 0.9 2.2 1.2 3.8 2.8 1.6 1.7 1.6 2.1 2.2 3.8 1.5 4.7 0.5 5 0.2 0.3 1-14.3 0.9-8.1 0.5-2 0.3-0.3 1.6 0.1 2.2 0.5 1.6 0.6 3.3 2 2.7 2.7 1.6 2.2 1.1 1.8 1.1 2.2 1 2.9 1.1 4.5 1 11.9 1.9-19.6 0.8-4.5 0.7-2.3 0.2-0.1 1.9 0.1 3.3 0.6 2.7 0.9 2.7 1.3 2.7 1.9 2.2 2 2.2 2.6 1.6 2.5 1.1 2.2 1.1 2.8 1 4.3 0-1.3 0.3 49.9"/>
<path fill="url(#g58)" stroke-opacity="0.30" stroke-width="0.87" d="M18 420.2l0-100.6 4 0 19 5.2 33.7 9.5 72.3 21.2 97.8 29.7 1.2 0.6 1.5 1.9 0.5-0.3 1.1-1.1 1-0.2 21.3 0.8 29.4 0.3 34.2 1.8 39.1 1.6 27.8 1.6 20.6 0.2 9.2-0.4 10.4-1.3 8.1-1.6 7.1-1.8 14.1-4.4 9.2-2.4 9.8-2.2 10.9-1.7 4.3-0.9 7.7-2.3 11.9-2.7 4.9-1.3 16.3-5.2 7.6-2.6 4.4-1.3 3.8-0.6 5.4-0.4 9.8-0.9 6-0.9 2.7 0.2 5.4 1.3 3.3 0.4 5.9-0.1 6-1 2.2-0.1 2.2 0.4 5.9 1.8 5.5 0.9 3.2 0.2 5.5-0.4 2.2 0.2 3.2 1.1 5.4 2.6 2.8 1.6 4.3 3.2 2.2 1.2 6 2.4 1.4 0.4 1.1 0 0.8-0.3 0.8-0.6 0.8-1.1 3.1-9.2 1.2-2.4 1.1-1.3 1.1-0.8 1.3-0.6 1.4-0.3 2.2-0.1 7 0.9 2.2 0.7 3.3 1.5 2.7 0.7 1.6 1.2 1.1 1.4 1.1 2 1 2.8 0-7.3 1.4 2.7 0.3 0.1 0.4-0.6 0.7-2.4 1.5-9.2 0.7-2.5 0.5-0.6 3.8-0.4 4.9 0.3 2.7 0.5 2.2 0.7 2.2 0.9 2.1 1.2 3.8 2.8 1.7 1.7 1.6 2.1 2.2 3.8 1.5 4.8 0.5 5 0.2 0.3 1-14.4 0.9-8.1 0.5-2 0.3-0.3 1.6 0.1 2.2 0.5 1.6 0.6 3.3 2 2.7 2.7 1.6 2.2 1.1 1.8 1.1 2.2 1.1 3 1.1 4.5 0.9 11.8 2-19.5 0.7-4.6 0.7-2.3 0.3-0.1 1.9 0.1 3.2 0.6 2.8 0.9 2.7 1.3 2.1 1.5 2.2 1.9 2.2 2.4 1.6 2.3 2.2 4.4 1.1 3.4 0.5 2.4 0-1.3 0.3 48"/>
<path fill="url(#g59)" stroke-opacity="0.30" stroke-width="0.87" d="M18 421l0-99 4 0 19.6 5.3 33.2 9.3 72.4 21.1 33.3 10 64.8 19.7 1.2 0.6 1.5 1.9 0.5-0.3 1-1.1 1-0.2 21.4 0.8 29.4 0.3 34.3 1.8 38.7 1.6 28.3 1.7 20.7 0.2 9.3-0.3 10.8-1.5 8.2-1.5 6.5-1.7 14.2-4.5 9.3-2.4 9.8-2.2 10.8-1.7 4.4-0.9 7.6-2.3 16.9-4 28.3-9.1 3.8-0.6 6-0.3 9.3-1 6-0.9 2.7 0.2 5.4 1.4 3.3 0.4 6-0.1 6-1.1 2.2-0.1 2.1 0.4 6 2 5.5 0.9 3.2 0.2 4.9-0.5 2.8 0.2 2.7 0.9 6 2.7 2.7 1.6 4.3 3 2.2 1.2 6.2 2.2 2.4 0.2 0.8-0.3 0.8-0.6 0.7-1.1 3.2-8.6 1.2-2.3 1.1-1.2 1-0.7 1.3-0.6 1.5-0.3 2.1-0.1 7.1 0.9 2.2 0.7 3.3 1.5 2.7 0.7 1.6 1.2 1.1 1.4 1.1 2.1 1 2.8 0-7.4 1.4 2.8 0.3 0.1 0.5-0.6 0.6-2.4 1.5-9.2 0.7-2.5 0.5-0.6 3.9-0.4 4.9 0.3 2.7 0.5 2.2 0.7 2.1 0.9 2.2 1.1 3.8 2.9 1.7 1.7 1.6 2.1 2.2 3.8 1.5 4.8 0.4 5 0.2 0.3 1.1-14.4 0.9-8.1 0.5-2.1 0.3-0.2 1.6 0.1 2.2 0.5 1.6 0.6 3.3 2 2.7 2.7 1.6 2.2 1.1 1.8 1.1 2.2 1.1 3 1.1 4.5 1 11.9 1.9-19.6 0.7-4.6 0.8-2.3 0.2-0.1 1.9 0.1 3.3 0.6 2.7 0.9 2.7 1.3 2.2 1.5 2.2 1.9 2.2 2.4 1.6 2.3 2.2 4.4 1.1 3.5 0.4 2.3 0.1-1.3 0.2 46.1"/>
<path fill="url(#g60)" stroke-opacity="0.31" stroke-width="0.87" d="M18 421.8l0-97.6 4 0 20.2 5.5 33.3 9.3 72 20.9 33.8 10.1 64.4 19.5 1.2 0.7 1.6 1.8 0.5-0.2 1-1.1 1-0.2 21.4 0.7 29.5 0.3 33.8 1.9 38.8 1.6 28.9 1.7 20.7 0.2 9.3-0.3 10.9-1.4 8.2-1.6 6.5-1.7 14.2-4.4 9.3-2.4 9.8-2.2 10.9-1.8 4.4-0.9 7.6-2.3 16.9-4 28.4-9.1 3.3-0.5 6.5-0.4 8.7-0.9 6-1 2.8 0.1 6 1.6 3.8 0.4 5.4-0.1 6-1.1 2.2-0.1 2.2 0.4 6 2 6 1.1 3.3 0.1 4.9-0.5 2.2 0.2 2.7 0.8 6.5 3 6 3.9 2.2 1.1 6.4 2.1 2 0.3 1.4-0.3 1.3-1.1 0.9-1.8 2.8-7.1 0.6-1.3 1-1.2 1.4-1.1 1.5-0.7 2-0.3 1.6 0 7.1 0.9 2.2 0.7 3.3 1.5 2.7 0.6 1.6 1.3 1.1 1.4 1.1 2.1 1 2.8 0-7.4 1.5 2.8 0.3 0.1 0.4-0.6 0.6-2.4 1.6-9.2 0.6-2.5 0.6-0.6 3.8-0.4 4.9 0.3 2.7 0.5 2.2 0.7 2.2 0.9 2.2 1.2 3.8 2.9 1.6 1.7 1.7 2 2.2 3.9 1.5 4.8 0.4 5 0.2 0.3 1.1-14.5 0.9-8 0.5-2.1 0.3-0.3 1.6 0.1 2.2 0.5 1.6 0.6 3.3 2.1 2.7 2.6 1.7 2.2 1 1.9 1.1 2.2 1.1 2.9 1.1 4.6 1 11.9 1.9-19.7 0.8-4.5 0.7-2.3 0.2-0.2 2 0.1 3.2 0.6 2.8 0.9 2.7 1.4 2.2 1.5 2.2 1.8 2.1 2.5 1.7 2.3 2.2 4.4 1 3.5 0.5 2.3 0.1-1.3 0.2 44.1"/>
<path fill="url(#g61)" stroke-opacity="0.31" stroke-width="0.88" d="M18.1 422.5l0-96 4 0 21.3 5.7 32.2 8.9 72.7 21 34.5 10.2 63.4 19.3 1.2 0.6 1.5 1.9 0.5-0.3 1-1 1.1-0.3 21.4 0.8 29.6 0.3 33.8 1.8 38.9 1.7 28.9 1.7 20.8 0.3 9.3-0.3 10.9-1.4 8.2-1.6 6.6-1.7 14.2-4.4 9.3-2.5 9.8-2.2 11-1.7 4.3-0.9 7.7-2.4 16.9-4 28.4-9.1 3.3-0.5 6.6-0.3 8.7-0.9 6.6-1.1 2.2 0.1 6 1.7 3.3 0.4 6-0.1 6-1.1 2.2-0.1 2.2 0.4 6 2.1 6 1.2 2.7 0.2 5.5-0.7 2.2 0.2 2.7 0.9 6.6 2.9 6 3.8 2.2 1.1 6.4 1.7 1.9 0.3 1.5-0.3 1.3-1.1 0.9-1.7 2.6-6.4 0.8-1.4 0.8-1 1.3-1 1.4-0.7 1.8-0.4 1.7 0 7.6 0.9 2.2 0.7 3.3 1.5 2.7 0.6 1.7 1.3 1.1 1.4 1 2.2 1 2.8 0-7.4 1.5 2.8 0.3 0.1 0.4-0.6 0.7-2.5 1.5-9.1 0.7-2.6 0.5-0.6 3.8-0.3 5 0.3 2.7 0.5 2.2 0.7 2.2 0.9 2.1 1.2 3.9 2.9 1.6 1.7 1.6 2.1 2.2 3.9 1.6 4.7 0.4 5.1 0.2 0.3 1.1-14.5 0.9-8.1 0.5-2.1 0.2-0.3 1.5 0.1 1.8 0.4 2.2 0.8 3.3 2 2.7 2.7 1.7 2.2 1.1 1.8 1.1 2.3 1.1 2.9 1 4.5 1 12 2-19.7 0.7-4.6 0.7-2.3 0.3-0.1 1.9 0.1 2.7 0.4 2.8 0.9 2.7 1.2 2.2 1.4 2.2 1.8 2.2 2.3 1.6 2.1 1.6 2.8 1.1 2.5 1.1 3.4 0.5 2.4 0-1.3 0.3 41.9"/>
<path fill="url(#g62)" stroke-opacity="0.32" stroke-width="0.88" d="M18.1 423.3l0-94.7 4 0 21.9 5.9 32.3 8.9 72.3 20.8 35.6 10.5 62.4 18.9 1.2 0.7 1.6 1.8 0.5-0.3 1-1 1-0.2 21.6 0.7 29.5 0.3 33.4 1.8 38.9 1.7 29.6 1.8 20.8 0.3 9.3-0.3 11-1.4 8.2-1.5 6.5-1.7 14.3-4.5 9.8-2.6 9.3-2 11-1.8 4.4-0.9 7.6-2.4 17-4 28.5-9.1 3.3-0.5 6.6-0.2 8.7-1 6.6-1.1 2.2 0.1 6 1.8 3.3 0.4 6-0.1 6-1.2 2.2-0.1 2.2 0.5 6 2.2 6.1 1.2 2.7 0.2 5.5-0.6 2.2 0.1 2.7 0.9 6.6 2.9 7.7 4.5 2.1 0.7 6.8 1.3 1.5-0.3 1.2-1.1 0.9-1.6 2.7-6 0.7-1.3 0.8-0.9 1.3-1 1.5-0.6 1.8-0.4 1.7 0 7.6 1 2.2 0.6 3.3 1.6 1.6 0.2 1.1 0.4 1.7 1.3 1.1 1.4 1.1 2.2 0.9 2.8 0.1-7.4 1.4 2.8 0.3 0.1 0.4-0.6 0.7-2.4 1.5-9.2 0.7-2.6 0.5-0.5 3.9-0.4 4.9 0.3 2.7 0.6 2.2 0.7 2.2 0.9 2.2 1.2 3.8 2.9 1.7 1.7 1.6 2.1 2.2 3.9 1.5 4.8 0.5 5 0.2 0.3 1.1-14.5 0.9-8.1 0.5-2.1 0.2-0.2 1.5 0 1.8 0.4 2.2 0.8 3.3 2 2.8 2.7 1.6 2.2 1.1 1.8 1.1 2.3 1.1 2.9 1.1 4.6 1 11.9 1.9-19.7 0.7-4.6 0.8-2.3 0.2-0.1 1.9 0.1 2.8 0.4 2.7 0.9 2.8 1.3 2.2 1.3 2.1 1.8 2.2 2.3 1.7 2.2 1.6 2.8 1.1 2.4 1.1 3.5 0.5 2.4 0-1.3 0.3 39.7"/>
<path fill="url(#g63)" stroke-opacity="0.32" stroke-width="0.89" d="M18.1 424.1l0-93.3 4 0 23.1 6.1 31.8 8.7 72.4 20.7 36.8 10.9 60.9 18.4 1.2 0.6 1.5 1.9 0.5-0.3 1.1-1 1-0.2 21.6 0.7 29.6 0.3 33.5 1.8 38.4 1.7 30.1 1.8 20.9 0.3 9.3-0.2 11-1.4 8.8-1.6 6.6-1.8 13.7-4.3 9.9-2.6 9.3-2.1 11-1.8 4.3-0.9 7.7-2.3 17-4.1 28.6-9.1 3.8-0.5 4.9-0.1 2.8-0.2 7.7-0.9 6-1.1 2.2 0.2 6 1.8 3.3 0.4 6.1 0 2.2-0.3 3.8-1 2.2-0.1 2.2 0.5 6 2.3 6.6 1.4 2.7 0.2 5-0.7 2.2 0.1 2.7 0.9 6.6 2.9 6 3.6 1.7 0.8 1.6 0.5 7.2 1.2 0.9 0 0.7-0.3 1.3-1 0.9-1.5 3-6.3 0.9-1.1 1.5-1.2 1.7-0.7 2.2-0.3 7.7 0.9 2.2 0.5 4.4 1.9 2.2 0.4 1.1 0.5 1.1 1 1.1 1.5 1.1 2.2 1 2.8 0-7.4 1.4 2.8 0.3 0.1 0.5-0.6 0.6-2.4 1.6-9.2 0.6-2.6 0.6-0.5 3.8-0.4 5 0.4 2.7 0.6 2.2 0.7 4.4 2.1 3.8 2.9 1.7 1.7 1.6 2.1 2.2 3.9 1.5 4.8 0.5 5.1 0.2 0.3 1.1-14.6 0.9-8.1 0.5-2.1 0.2-0.2 1.5 0 1.8 0.4 2.2 0.8 3.3 2 2.8 2.7 1.6 2.2 1.1 1.9 1.1 2.2 1.1 3 1.1 4.5 1 12 1.9-19.8 0.8-4.6 0.7-2.3 0.3-0.1 1.9 0.1 2.7 0.5 2.8 0.8 2.7 1.3 2.2 1.4 2.2 1.7 2.2 2.3 1.6 2.2 1.7 2.8 1.1 2.5 1.1 3.4 0.5 2.4 0-1.3 0.2 37.5"/>
<path fill="url(#g64)" stroke-opacity="0.33" stroke-width="0.89" d="M18.1 424.8l0-91.8 4 0 24.2 6.3 31.4 8.6 72 20.4 37.9 11.2 59.9 18.1 1.3 0.6 1.5 1.9 0.5-0.3 1-1 1.1-0.3 21.6 0.8 29.7 0.3 33.5 1.8 38.5 1.7 30.2 1.9 21.4 0.3 9.4-0.3 11-1.4 8.2-1.5 6.6-1.7 13.8-4.4 9.9-2.6 9.3-2.1 11-1.8 4.4-0.9 7.7-2.4 17-4 16.5-5.2 7.7-2.6 4.4-1.4 3.9-0.5 7.1-0.1 8.3-1 4.9-1 1.7-0.2 2.2 0.3 5.5 1.9 3.3 0.4 6 0 2.2-0.4 3.9-1 2.2-0.1 2.1 0.5 6.1 2.5 6.6 1.5 2.7 0.1 5-0.7 2.2 0.2 2.7 0.9 6.6 2.9 5.5 3.2 2.2 1.1 1.7 0.5 6.9 1 1.6-0.2 1.4-1 1.1-1.6 3-5.9 0.8-1 1.7-1.1 1.8-0.7 2-0.1 8.3 1 2.2 0.5 3.8 1.8 2.2 0.3 1.1 0.6 1.1 1 1.1 1.5 1.1 2.2 1 2.9 0-7.4 1.5 2.8 0.3 0.1 0.4-0.6 0.7-2.4 1.5-9.2 0.7-2.6 0.5-0.6 3.9-0.3 4.9 0.4 2.8 0.6 2.1 0.7 4.4 2.2 3.9 2.9 1.6 1.7 1.7 2.1 2.2 3.9 1.5 4.8 0.5 5.1 0.2 0.3 1.1-14.5 0.9-8.2 0.5-2.1 0.2-0.3 1.5 0.1 1.8 0.4 2.2 0.8 3.3 2 2.8 2.7 1.6 2.2 1.1 1.9 1.1 2.2 1.1 3 1.1 4.5 1 12 2-19.7 0.7-4.7 0.7-2.3 0.3-0.1 1.9 0.1 2.8 0.5 2.7 0.8 2.2 1 2.2 1.3 2.2 1.7 2.2 2.1 1.7 2 1.6 2.6 1.7 3.5 1.1 3.5 0.5 2.4 0-1.3 0.2 35"/>
<path fill="url(#g65)" stroke-opacity="0.33" stroke-width="0.90" d="M18.2 425.6l0-90.4 4 0 25.3 6.6 30.3 8.2 72.1 20.4 40.2 11.7 57.8 17.5 1.3 0.6 1.6 1.9 0.5-0.3 1-1 1-0.2 21.7 0.7 29.7 0.3 33.1 1.8 38.5 1.7 30.9 1.9 21.4 0.4 9.4-0.3 11-1.4 8.3-1.5 6.6-1.7 13.8-4.4 9.9-2.6 9.3-2.1 11.1-1.8 4.4-0.9 7.7-2.4 17-4.1 16.6-5.1 7.1-2.5 5-1.5 3.3-0.5 7.7-0.1 8.3-1 4.9-1.1 1.7-0.1 2.2 0.3 5.5 1.9 3.3 0.5 6-0.1 2.3-0.3 3.8-1 2.2-0.2 2.2 0.6 6.1 2.5 6.6 1.7 2.7 0.1 5-0.7 2.2 0.2 2.2 0.6 7.2 3.2 5.5 3.2 2.2 1.1 1.6 0.4 6.9 0.8 1.6-0.2 1.4-0.9 1.1-1.6 3.1-5.5 0.8-0.9 1.6-1 1.9-0.6 2-0.2 3.9 0.7 4.4 0.4 2.2 0.6 3.8 1.7 2.2 0.4 1.1 0.6 1.1 1 1.1 1.5 1.1 2.3 1 2.9 0-7.5 1.5 2.9 0.3 0.1 0.4-0.6 0.7-2.5 1.5-9.2 0.7-2.5 0.5-0.6 3.3-0.3 2.8 0.1 2.8 0.3 2.7 0.6 2.2 0.8 4.4 2.1 3.9 3 1.6 1.7 1.7 2.1 2.2 4 1.5 4.8 0.5 5 0.2 0.3 1.1-14.5 0.9-8.2 0.5-2.1 0.2-0.3 1.5 0.1 1.8 0.4 2.2 0.8 3.3 2 2.8 2.7 1.7 2.2 1.1 1.9 1.1 2.2 1.1 3 1.1 4.6 0.9 12 2-19.8 0.7-4.7 0.8-2.3 1.6-0.1 2.8 0.4 2.7 0.8 2.2 0.9 2.2 1.2 2.2 1.6 2.2 2 1.7 1.9 1.6 2.4 1.1 1.9 1.7 4.1 1 4.3 0.1-1.3 0.2 32.6"/>
<path fill="url(#g66)" stroke-opacity="0.34" stroke-width="0.90" d="M18.2 426.4l0-89 4 0 26.5 6.9 29.8 8 72.3 20.3 40.2 11.7 57.4 17.3 1.3 0.7 1.5 1.9 0.5-0.3 1.1-1.1 1-0.2 21.7 0.8 29.8 0.3 33.1 1.8 38.6 1.6 31.5 2.1 21.5 0.4 9.4-0.3 11-1.5 8.3-1.6 6.1-1.5 13.8-4.4 9.9-2.6 9.4-2.1 11-1.9 4.4-0.9 7.7-2.4 17.2-4.1 11.5-3.7 5-1.4 7.2-2.5 4.9-1.5 3.4-0.5 7.7 0 8.3-1 4.9-1.2 1.7-0.1 2.2 0.3 5.5 2 3.3 0.5 6.1 0 2.2-0.4 3.9-1 2.2-0.2 2.2 0.6 6 2.7 6.7 1.7 2.7 0.2 5-0.7 2.2 0.1 2.2 0.7 7.2 3.2 5.5 3.2 2.2 1 1.7 0.4 6.6 0.7 1.9-0.2 1.4-0.9 1.1-1.5 3-5.1 0.9-0.9 1.6-1 1.9-0.5 2-0.1 3.8 0.7 4.5 0.5 2.2 0.5 3.8 1.8 2.2 0.4 1.1 0.6 1.1 1 1.1 1.5 1.2 2.3 0.9 2.9 0.1-7.4 1.4 2.8 0.3 0.1 0.5-0.6 0.6-2.4 1.6-9.2 0.6-2.6 0.6-0.5 3.3-0.3 2.7 0.1 2.8 0.3 2.8 0.7 2.2 0.7 4.4 2.2 3.8 3 1.7 1.7 1.7 2.1 2.2 4 1.5 4.8 0.5 5.1 0.2 0.3 1.1-14.6 0.9-8.2 0.5-2.1 0.2-0.3 1.5 0.1 1.8 0.4 2.2 0.8 3.4 2 2.7 2.7 1.7 2.2 1.1 1.9 1.1 2.2 1.1 3 1.1 4.6 1 12 1.9-19.8 0.8-4.7 0.7-2.3 1.7-0.1 2.7 0.4 2.8 0.8 2.2 0.9 2.2 1.2 2.2 1.6 2.2 2 1.7 1.9 1.6 2.4 1.1 2 1.7 4 1 4.3 0-1.3 0.2 30.1"/>
<path fill="url(#g67)" stroke-opacity="0.35" stroke-width="0.90" d="M18.2 427.1l0-87.4 4 0 27.7 7.2 29.3 7.8 71.8 20 40.9 11.9 56.9 17.1 1.3 0.7 1.6 1.9 0.5-0.3 1-1.1 1.1-0.2 21.7 0.8 29.8 0.3 33.2 1.8 38.2 1.6 32 2.1 21.6 0.5 9.4-0.3 11-1.4 8.3-1.6 6.1-1.6 13.8-4.3 10-2.7 9.4-2.1 11.1-1.9 4.4-0.9 7.7-2.4 17.2-4.1 11.6-3.7 4.9-1.4 7.2-2.6 5-1.5 3.3-0.4 5.6 0.1 2.2-0.1 8.3-1 4.9-1.2 1.7-0.2 2.2 0.4 5.5 2.1 3.4 0.5 6.6-0.1 5.5-1.4 2.2-0.1 2.2 0.6 6.1 2.8 6.7 1.8 2.7 0.3 5-0.8 2.2 0.1 2.2 0.7 7.2 3.3 5.5 3.2 1.7 0.8 2.2 0.6 6.6 0.5 1.7-0.1 1.4-0.8 1.2-1.4 3.2-5 1.2-1.1 1.6-0.7 1.6-0.4 2 0 3.8 0.7 5 0.6 2.2 0.7 3.3 1.5 2.2 0.4 1.2 0.6 1.1 1.1 1.1 1.5 1.1 2.3 1 3 0-7.5 1.4 2.9 0.3 0.1 0.5-0.6 0.6-2.4 1.6-9.3 0.7-2.5 0.5-0.6 3.3-0.2 2.8 0.1 2.8 0.4 2.7 0.6 2.2 0.7 4.5 2.3 3.8 3 1.7 1.7 1.6 2.1 2.3 4 1.5 4.8 0.5 5.1 0.2 0.3 1.1-14.6 0.9-8.2 0.5-2.1 0.2-0.3 1.5 0.1 1.8 0.3 2.3 0.8 3.3 2.1 2.7 2.7 1.7 2.2 1.1 1.9 1.1 2.3 1.1 2.9 1.1 4.6 1 12.1 2-19.9 0.7-4.7 0.8-2.3 1.6-0.1 2.8 0.4 2.7 0.8 2.2 0.9 3.9 2.4 2.2 1.9 1.7 1.8 1.6 2.2 1.7 2.8 1.7 4 1 4.4 0-1.3 0.2 27.3"/>
<path fill="url(#g68)" stroke-opacity="0.35" stroke-width="0.91" d="M18.2 427.9l0-85.8 4 0 28.8 7.4 28.8 7.6 71.5 19.8 41.5 12.1 56.5 16.9 1.3 0.7 1.5 1.9 0.6-0.3 1-1.1 1-0.2 21.8 0.8 29.9 0.3 32.7 1.8 38.8 1.6 32.1 2.2 21.6 0.5 9.4-0.3 11.1-1.4 8.9-1.7 6-1.6 13.3-4.2 10.6-2.8 8.8-2 11.1-1.9 4.4-0.9 7.8-2.5 12.7-2.9 5-1.3 11.1-3.5 5-1.4 7.2-2.6 5-1.5 3.3-0.5 5.5 0.3 2.2-0.1 8.4-1.1 4.9-1.2 1.7-0.2 2.2 0.4 5.6 2.2 3.3 0.5 4.4 0.1 2.2-0.2 5.6-1.4 2.2-0.2 2.2 0.7 6.1 2.9 6.6 1.9 2.8 0.3 5-0.8 2.2 0.1 2.2 0.7 7.2 3.4 6.7 3.8 1.1 0.5 1.6 0.3 7.2 0.4 1.7-0.3 1.7-1.5 2.7-4.1 1.1-1.4 1.2-0.8 1.7-0.7 1.6-0.2 1.6 0 3.9 0.9 5 0.5 2.2 0.7 3.3 1.6 2.3 0.4 1.1 0.6 1.1 1.1 1.1 1.6 1.1 2.3 1 2.9 0-7.5 1.5 3 0.3 0 0.4-0.5 0.7-2.8 1.6-9.4 0.7-2.2 0.4-0.4 2.8-0.2 2.8 0.1 2.7 0.3 4.5 1.1 4.4 2 3.3 2.2 3.4 3.2 2.7 3.9 1.7 3.6 1 3.4 0.4 5.1 0.3 0.3 1.1-14.6 0.9-8.2 0.5-2.1 0.2-0.3 1.5 0.1 1.8 0.3 2.3 0.8 3.3 2.1 2.8 2.7 1.6 2.3 1.1 1.8 1.1 2.3 1.1 3 1.1 4.6 1 12 2-19.9 0.8-4.6 0.7-2.4 1.6-0.1 2.8 0.4 2.2 0.6 2.2 0.9 3.9 2.2 2.2 1.8 1.7 1.7 2.2 2.8 1.7 2.8 1.6 4.1 1.1 4.3 0-1.3 0.2 24.6"/>
<path fill="url(#g69)" stroke-opacity="0.36" stroke-width="0.91" d="M18.3 428.7l0-84 4 0 30.5 7.7 28.3 7.5 71 19.5 41.6 12 56 16.8 1.3 0.7 1.6 1.9 0.5-0.3 1-1 1.1-0.3 21.8 0.8 30 0.3 32.7 1.8 38.3 1.7 32.7 2.2 21.7 0.5 9.4-0.3 11.1-1.3 8.9-1.7 6.1-1.6 13.3-4.2 10.6-2.8 8.9-2.1 11.1-1.9 4.4-0.9 7.8-2.5 12.7-2.9 5-1.3 11.1-3.5 5-1.4 7.2-2.6 5-1.5 3.4-0.5 5.5 0.3 2.2-0.1 8.4-1.1 4.9-1.2 1.7-0.2 2.2 0.4 5.6 2.3 3.3 0.5 4.5 0.1 2.2-0.1 5.5-1.5 2.2-0.2 2.3 0.7 6.1 3 6.6 2.1 2.8 0.3 5-0.8 2.2 0.1 2.2 0.7 7.3 3.4 6.6 3.9 1.1 0.4 1.7 0.3 3.8 0 3.4 0.3 1.7-0.3 1.6-1.4 2.8-3.9 1.1-1.3 1.1-0.8 1.8-0.6 2.7-0.1 4.4 0.9 5 0.6 2.2 0.7 3.4 1.6 2.2 0.3 1.1 0.7 1.1 1.1 1.1 1.6 1.1 2.3 1 3 0-7.5 1.5 2.9 0.3 0.1 0.4-0.5 0.8-2.9 1.6-9.4 0.6-2.1 0.5-0.4 2.7-0.2 2.8 0.1 2.8 0.3 4.4 1.2 4.5 2 3.3 2.2 3.3 3.2 2.8 3.9 1.7 3.6 1 3.5 0.4 5.1 0.2 0.3 1.2-14.7 0.9-8.2 0.5-2.1 0.2-0.3 1.2 0.1 2.1 0.4 1.7 0.5 3.3 1.9 1.7 1.4 1.7 1.8 1.6 2.2 1.1 1.8 1.2 2.3 1.1 3 1.1 4.6 1 12.1 1.9-19.9 0.8-4.7 0.7-2.3 1.3-0.1 2.6 0.3 2.2 0.5 2.2 0.8 3.9 2 2.2 1.7 1.7 1.6 2.2 2.6 1.7 2.6 1.1 2.2 1.1 2.9 1.1 4.4 0-1.3 0.1 21.7"/>
<path fill="url(#g70)" stroke-opacity="0.36" stroke-width="0.92" d="M18.3 429.5l0-82.2 4 0 32.2 8.2 27.3 7.1 70.6 19.3 41.7 12 56.1 16.8 1.3 0.7 1.6 1.9 0.5-0.3 1-1.1 1-0.2 21.9 0.8 30 0.3 32.3 1.7 38.9 1.7 32.8 2.3 21.7 0.6 9.4-0.3 11.2-1.3 8.9-1.7 6.1-1.6 13.3-4.2 10.6-2.8 8.9-2.1 11.1-1.9 4.5-1 7.7-2.4 12.8-2.9 5-1.3 11.2-3.6 5-1.4 7.2-2.5 5-1.6 3.3-0.4 5.6 0.4 2.2-0.1 8.4-1.1 5-1.3 1.6-0.2 2.2 0.3 5.6 2.4 3.3 0.6 4.5 0.1 2.2-0.2 5.6-1.5 2.2-0.1 2.2 0.6 6.1 3.2 7.3 2.3 2.2 0.2 5-0.9 2.2 0.2 2.2 0.7 7.3 3.5 6.1 3.7 1.7 0.7 1.1 0.2 4.4 0 3.5 0.2 1.5-0.3 1.7-1.3 2.8-3.8 1.1-1.2 1.1-0.7 1.8-0.6 2.6 0 4.5 1 5 0.6 2.2 0.7 3.4 1.6 2.2 0.3 1.1 0.7 1.1 1.1 1.1 1.6 1.1 2.4 1 3 0.1-7.5 1.4 2.9 0.3 0.1 0.5-0.5 0.7-2.8 1.6-9.4 0.6-2.2 0.5-0.4 2.8-0.2 2.8 0.1 2.7 0.4 4.5 1.2 4.4 2 3.4 2.3 3.3 3.2 2.8 3.9 1.7 3.6 1 3.5 0.4 5.1 0.2 0.3 1.7-20.3 0.6-3.9 0.3-0.8 0.2-0.3 0.3 0 1.7 0.1 1.9 0.5 2.2 0.9 1.7 1 1.7 1.2 1.6 1.7 2.8 3.7 1.7 3.3 1.6 4.9 0.9 4.4 0.7 10.4 2-20 0.7-4.7 0.8-2.3 1.2-0.1 2.6 0.3 2.3 0.5 2.2 0.8 3.9 2.1 3.3 2.7 2.2 2.5 2.3 3.3 1.1 2.2 1.1 2.9 1 4.4 0.1-1.3 0.1 18.7"/>
<path fill="url(#g71)" stroke-opacity="0.37" stroke-width="0.92" d="M18.3 430.2l0-80.1 4 0 33.4 8.4 26.8 6.9 70.2 19.1 42.3 12.1 55.7 16.7 1.3 0.7 1.5 1.9 0.5-0.3 1.1-1.1 1-0.2 21.9 0.8 30.1 0.3 32.3 1.7 38.4 1.7 33.5 2.4 22.3 0.6 5.5-0.1 3.9-0.2 11.2-1.4 8.9-1.7 6.1-1.6 12.8-4.1 10.6-2.8 8.9-2 11.2-2 4.4-0.9 7.8-2.5 12.8-2.9 5-1.3 11.2-3.6 5-1.3 7.2-2.6 5.1-1.6 3.3-0.4 5.6 0.4 2.2 0 8.4-1.2 5-1.3 1.6-0.2 2.3 0.4 5.5 2.4 3.4 0.6 4.4 0.1 2.3-0.1 1.6-0.4 3.9-1.2 2.3-0.2 2.2 0.7 6.1 3.3 7.3 2.4 2.2 0.3 5-0.9 2.2 0.1 2.3 0.8 7.2 3.5 6.1 3.8 1.7 0.7 1.1 0.2 4.5-0.1 3.5 0.2 1.2-0.1 0.8-0.5 1.2-1 2.7-3.6 1.2-1.1 1.1-0.7 1.6-0.5 2.8 0 4.5 1.2 5 0.5 2.2 0.7 3.4 1.6 2.2 0.4 1.1 0.6 1.1 1.2 1.1 1.6 1.2 2.4 0.9 3.1 0.1-7.6 1.4 3 0.3 0.1 0.5-0.6 0.7-2.8 1.6-9.4 0.7-2.2 0.4-0.4 2.8-0.1 2.8 0.1 2.8 0.4 4.5 1.2 4.4 2 3.4 2.3 3.3 3.3 2.8 3.9 1.7 3.6 0.9 3.5 0.5 5.1 0.2 0.3 1.7-20.3 0.6-3.9 0.2-0.9 0.3-0.3 0.2 0 1.8 0.2 1.9 0.5 2.2 0.9 1.7 1 1.7 1.2 1.6 1.7 2.8 3.7 1.7 3.3 1.7 5 0.8 4.3 0.7 10.5 2-20.1 0.8-4.7 0.7-2.3 0.8-0.1 2.5 0.2 2.3 0.5 2.2 0.7 3.9 1.9 3.3 2.6 2.8 3 2.2 3.3 1.2 2.2 1.1 2.9 1 4.4 0-1.3 0.2 15.5"/>
<path fill="url(#g72)" stroke-opacity="0.37" stroke-width="0.93" d="M18.3 431l0-78 4 0 35.7 8.9 25.7 6.7 69.2 18.7 42.5 12 55.7 16.7 1.3 0.7 1.6 1.9 0.5-0.3 1-1.1 1.1-0.2 21.9 0.8 30.2 0.3 31.8 1.7 39 1.7 33.5 2.5 22.4 0.6 5.5 0 3.9-0.2 11.2-1.4 8.9-1.7 6.2-1.6 12.8-4.1 10.6-2.8 8.9-2.1 11.2-1.9 4.5-1 7.8-2.5 12.8-2.9 5-1.3 11.2-3.5 5-1.4 7.3-2.6 5-1.5 3.4-0.4 5.5 0.5 2.3-0.1 8.3-1.2 5.1-1.4 1.6-0.2 2.3 0.4 5.6 2.6 3.3 0.6 4.5 0.1 2.2-0.1 1.7-0.4 3.9-1.3 2.2-0.2 2.3 0.8 6.1 3.4 7.2 2.5 2.3 0.3 5-1 2.2 0.1 2.3 0.8 7.2 3.7 6.2 3.9 1.6 0.7 1.2 0.2 4.4-0.2 3.5 0.2 1.2-0.1 0.9-0.5 1.1-1 2.8-3.4 1.1-1.1 1.1-0.6 1.7-0.5 2.2 0 5.1 1.3 5 0.6 2.2 0.7 3.4 1.6 2.2 0.3 1.1 0.7 1.1 1.2 1.2 1.7 1.1 2.4 1 3.1 0-7.6 1.5 3 0.3 0.1 0.4-0.6 0.8-2.8 1.6-9.4 0.6-2.2 0.5-0.4 2.8-0.1 2.8 0.1 2.7 0.4 4.5 1.3 4.5 2 3.3 2.3 3.4 3.3 2.8 3.9 1.6 3.6 1 3.5 0.5 5.2 0.2 0.3 1.3-16.7 1-7.6 0.5-1.1 2.8 0.3 3.3 1.2 1.7 1 1.7 1.3 2.8 2.9 1.7 2.5 1.1 2 1.6 4.2 1.2 4.7 1 12.1 1.9-20 0.8-4.7 0.7-2.4 0.8-0.1 2.6 0.2 3.9 1 3.9 1.8 3.3 2.4 2.8 2.8 2.3 3.1 2.2 4.5 1.1 3.5 0.5 2.5 0-1.3 0.1 12.2"/>
<path fill="url(#g73)" stroke-opacity="0.38" stroke-width="0.93" d="M18.4 431.8l0-75.7 4 0 39.7 9.8 24 6.2 67.7 18.2 42.5 12 55.3 16.5 1.3 0.7 1.5 1.9 0.6-0.3 1-1.1 1-0.2 22 0.8 30.2 0.3 31.9 1.7 38.6 1.7 34.1 2.6 22.4 0.7 5.5 0 4-0.3 11.1-1.3 9-1.7 6.1-1.6 12.9-4.1 11.2-2.9 8.4-2 11.2-2 4.4-0.9 7.9-2.5 12.8-2.9 5.1-1.3 11.1-3.6 5.1-1.3 7.2-2.6 5.1-1.6 3.3-0.4 5.6 0.6 2.3 0 8.3-1.3 5.1-1.4 1.7-0.2 2.2 0.4 5.6 2.7 2.8 0.5 6.7 0.1 2.2-0.4 4.5-1.5 1.1-0.1 1.1 0.2 1.7 0.6 3.9 2.4 2.3 1.1 7.2 2.7 2.8 0.2 5.1-0.9 1.1 0 1.7 0.4 8.9 4.6 5.6 3.7 1.7 0.7 1.1 0.2 4.4-0.2 3.4 0.1 1.4-0.1 1.6-1 3.2-3.7 1.1-1.1 0.9-0.5 1.6-0.4 2.5 0 5.1 1.4 5 0.6 2.2 0.7 3.4 1.6 2.2 0.3 1.1 0.7 1.2 1.2 1.1 1.7 1.1 2.5 1 3.1 0-7.6 1.5 3 0.3 0.1 0.4-0.6 0.8-2.8 1.6-9.4 0.6-2.2 0.5-0.3 3.4-0.1 2.8 0.2 2.8 0.4 4.4 1.4 3.9 1.9 3.4 2.3 3.4 3.2 2.7 4 1.7 3.6 1 3.5 0.5 5.2 0.2 0.3 1.3-16.7 1-7.6 0.5-1.2 2.8 0.3 3.3 1.3 1.7 0.9 1.7 1.3 2.8 3 1.7 2.5 1.1 2 1.7 4.2 1.1 4.7 1 12.2 1.5-15.9 1.2-8.9 0.8-2.4 1.6-0.1 2.8 0.4 2.3 0.6 2.2 0.9 2.2 1.1 2.3 1.5 1.7 1.4 1.6 1.7 1.7 2.1 1.7 2.6 1.7 3.5 1.1 3.6 0.5 2.4 0-1.3 0.1 8.8"/>
<path fill="url(#g74)" stroke-opacity="0.38" stroke-width="0.93" d="M18.4 432.5l0-73.4 4 0 45.9 11.3 46.5 12.2 39.2 10.6 43.2 12.2 54.8 16.3 1.3 0.7 1.6 1.9 0.5-0.3 1.1-1.1 1-0.2 22 0.8 30.3 0.3 31.4 1.7 39.2 1.8 34.1 2.6 22.5 0.7 5.6 0 3.9-0.2 11.2-1.3 8.9-1.7 6.2-1.6 12.9-4.1 11.2-3 8.4-1.9 11.2-2 4.5-1 7.8-2.5 18-4.2 11.2-3.5 5-1.3 7.3-2.6 5-1.6 3.4-0.4 5.6 0.6 2.2 0 8.4-1.2 5.1-1.6 1.7-0.2 2.2 0.5 5.6 2.7 2.8 0.6 6.7 0.1 2.3-0.5 4.5-1.5 1.1-0.1 1.1 0.2 1.7 0.6 3.9 2.5 2.2 1.2 7.3 2.8 1.7 0.3 1.1-0.1 5.1-1 1.1 0.1 1.7 0.4 8.9 4.7 5.6 3.8 2.3 0.9 1.7 0 3.3-0.2 3.5 0.2 1.2-0.2 1.7-1 4-4.4 0.8-0.5 2-0.6 2.4 0.1 5.1 1.5 5.1 0.6 2.2 0.7 3.4 1.6 2.2 0.4 1.2 0.7 1.1 1.2 1.1 1.7 1.1 2.5 1 3.1 0-7.5 1.5 3 0.3 0.1 0.5-0.6 0.7-2.8 1.6-9.4 0.7-2.2 0.4-0.4 3.4 0 2.8 0.2 2.8 0.5 4.5 1.4 3.9 1.9 3.4 2.3 3.3 3.3 2.8 4 1.7 3.6 1 3.5 0.5 5.2 0.2 0.3 1.3-16.8 1-7.6 0.5-1.1 2.8 0.3 3.4 1.2 1.6 1 1.7 1.3 2.8 2.9 2.3 3.5 1.1 2.3 1.1 3 1.1 4.6 0.3 1.7 0.5 8.9M772.7 432.5l1.7-18.5 0.9-5.5 0.4-1.1 0.5-0.6 4.2 0.5 2.2 0.5 2.3 0.9 3.9 2.3 2.2 1.8 1.7 1.7 2.8 3.7 2.3 4.5 1.1 3.5 0.5 2.5 0-1.4 0.1 5.2"/>
<path fill="url(#g75)" stroke-opacity="0.39" stroke-width="0.94" d="M18.4 433.3l0-71 4 0 46 11.2 46.6 12.1 39.3 10.6 43.2 12.1 55 16.4 1.3 0.7 1.6 1.9 0.5-0.3 1-1.1 1.1-0.2 22 0.8 30.3 0.3 32 1.7 37.1 1.6 12.3 0.9 23 1.9 10.7 0.4M449.6 433.3l10-1.3 8.5-1.6 5.6-1.5 12.9-4 11.2-3 8.4-2 11.3-2 4.5-0.9 7.8-2.5 18-4.2 11.2-3.6 5-1.3 7.3-2.6 5.1-1.6 3.4-0.3 5.6 0.7 2.2-0.1 8.4-1.2 5.1-1.6 1.7-0.2 2.2 0.4 5.6 2.9 2.8 0.5 6.8 0.1 2.2-0.4 4.5-1.6 1.1-0.1 1.2 0.2 1.6 0.7 4 2.5 2.2 1.2 7.3 3 1.7 0.2 1.1 0 5.1-1 1.1 0.1 1.7 0.4 9 4.8 5.6 4 2.2 0.8 1.7 0.1 3.4-0.3 3.5 0.2 1.2-0.1 1.6-1 4-4.3 0.9-0.5 2-0.5 2.5 0.2 5 1.6 5.1 0.6 2.2 0.7 3.4 1.6 2.2 0.4 1.2 0.7 1.1 1.2 1.1 1.8 1.1 2.5 1 3.2 0.1-7.6 1.4 3 0.3 0.1 0.5-0.6 0.7-2.8 1.6-9.4 0.7-2.2 0.5-0.3 3.3-0.1 2.8 0.3 2.9 0.5 4.4 1.4 4 1.9 3.3 2.4 3.4 3.3 2.8 4 1.7 3.6 1 3.5 0.5 5.2 0.2 0.3 1.3-16.7 1-7.7 0.5-1.1 2.8 0.3 3.4 1.2 2.8 1.8 2.8 2.8 2.2 3.1 1.7 3.3 1.7 5 0.8 4.4 0.3 5.1M774.4 433.3l1-10.5 0.7-6.1 0.8-4 0.4-1.2 0.3-0.2 4.2 0.5 4 1.2 3.9 2.1 3.4 2.7 2.8 3.3 2.2 3.6 1.7 4.1 1 4.4 0.1-1.3 0 1.4"/>
<path fill="url(#g76)" stroke-opacity="0.39" stroke-width="0.94" d="M18.4 434.1l0-68.6 4 0 46.7 11.3 46.7 12.1 38.8 10.3 43.8 12.3 54.5 16.2 1.3 0.7 1.6 1.9 0.5-0.3 1.1-1.1 1-0.2 22.1 0.8 30.4 0.3 32.1 1.7 33.1 1.5 16.9 1.1M467 434.1l5.9-1.5 14-4.3 11.3-3.1 9.5-2.2 14.1-2.6 9.5-2.9 15.8-3.6 12.9-4 5.1-1.3 7.3-2.6 5.1-1.6 3.3-0.3 5.7 0.8 2.2-0.1 8.4-1.3 5.1-1.6 1.7-0.2 2.2 0.4 5.7 3 2.8 0.6 6.7 0.1 2.3-0.5 4.5-1.7 1.1-0.1 1.1 0.2 1.7 0.7 5.6 3.6 7.9 3.4 1.7 0.3 1.1 0 5.1-1.1 1.1 0.1 1.7 0.5 9 5 5.6 4 2.3 0.9 1.6 0.1 3.4-0.3 3.6 0.2 1.2-0.1 1.6-1 4-4.2 0.9-0.5 1.7-0.4 1.4 0 1.4 0.2 5 1.8 5.1 0.6 2.2 0.8 3.4 1.6 2.3 0.3 1.1 0.8 1.1 1.2 1.1 1.8 1.2 2.5 1 3.2 0-7.6 1.5 3.1 0.3 0.1 0.4-0.6 0.8-2.8 1.6-9.4 0.6-2.2 0.5-0.3 2.8-0.1 2.8 0.3 2.8 0.4 4.5 1.4 4 1.9 3.3 2.2 3.4 3.1 2.8 3.7 1.7 3.2 1.6 5 0.3 3M753.7 434.1l1.3-16.8 0.7-5 0.3-1.1 0.3-0.2 3.4 0.4 3.3 1.4 2.8 2 2.9 3 2.2 3.4 1.7 3.7 1.1 3.6 0.7 3.4 0.1 2.2M776.2 434.1l1.5-13.4 0.6-3.2 0.5-1.3 0.2-0.2 3.7 0.4 3.4 0.9 3.4 1.5 3.3 2.2 2.8 2.7 2.3 2.9 2.2 4 1.3 3.5"/>
<path fill="url(#g77)" stroke-opacity="0.39" stroke-width="0.94" d="M18.4 434.8l0-66.1 4 0 46.8 11.2 46.8 12.1 38.8 10.2 44 12.3 54.3 16.2 1.5 0.6 1.7 2.1 0.5-0.3 1.1-1.1 1-0.2 22.1 0.7 30.5 0.4 36.8 1.9M477.3 434.8l11.1-3.4 11.8-3.2 8.5-1.9 14-2.6 9.6-3 15.8-3.5 13-4 5-1.3 7.3-2.6 5.1-1.6 3.4-0.3 5.6 0.8 2.3 0 8.4-1.4 5.1-1.7 1.7-0.2 2.3 0.5 5.6 3 2.8 0.6 6.8 0.1 2.2-0.5 4.5-1.7 1.2-0.1 1.1 0.2 1.7 0.7 5.6 3.8 7.9 3.5 1.7 0.3 1.1 0 5.1-1.1 1.1 0.1 1.7 0.5 9 5.2 5.6 4.2 2.3 1 1.7 0 3.4-0.3 3.5 0.2 1.2-0.1 1.6-0.9 4.1-4.1 0.8-0.5 1.7-0.3 1.5 0 1.2 0.2 5.2 1.9 5.6 0.8 5.1 2.3 2.3 0.3 1.1 0.8 1.1 1.3 1.2 1.8 1.1 2.6 1 3.2 0-7.6 1.5 3 0.3 0.2 0.4-0.6 0.8-2.8 1.6-9.4 0.7-2.2 0.4-0.4 2.3 0 2.8 0.2 2.8 0.5 4 1.1 3.9 1.7 3.4 2 2.8 2.3 2.3 2.4 2.2 3 1.7 3.3 1.3 3.7M755.4 434.8l1.2-13.9 0.5-3.7 0.3-1.1 0.3-0.2 3.4 0.4 2.8 1.1 2.8 1.8 2.2 2.1 2.3 2.9 1.7 3 1.7 4.3 0.8 3.3M778 434.8l1.2-10 0.8-3.2 0.5-0.7 3.1 0.3 3.4 0.8 2.8 1.1 2.8 1.6 2.8 2.2 2.3 2.4 2.2 3.1 1.4 2.4"/>
<path fill="url(#g78)" stroke-opacity="0.39" stroke-width="0.95" d="M18.5 435.6l0-63.7 4 0 41.7 10 23.7 5.9 62.1 16.2 37.9 10.4 42.3 12.4 23.9 7.2 1.1 0.6 0.7 1M257.8 435.6l0.6-0.5 1-0.2 19.1 0.7M486.3 435.6l17.1-4.6 6.8-1.5 12.9-2.4 10.2-3 15.8-3.6 13-4 5.1-1.2 7.3-2.7 5.1-1.6 3.4-0.3 5.6 0.9 2.3 0 8.4-1.4 5.1-1.7 1.7-0.3 1.1 0.1 1.2 0.4 5.6 3.1 2.8 0.7 6.8 0.1 2.3-0.6 4.5-1.7 1.1-0.1 1.1 0.2 1.7 0.7 5.7 3.9 7.9 3.7 1.7 0.3 1.1 0 5.1-1.1 1.1 0.1 1.7 0.5 9 5.4 5.7 4.4 2.2 1 1.7 0.1 3.4-0.3 3.6 0.2 1.2-0.1 1.6-0.9 3.2-3.3 1.3-1 2.1-0.5 2.3 0.2 5.6 2.2 5.6 0.8 5.1 2.4 1.7 0.2 1.1 0.4 1.2 1.1 1.1 1.5 1.6 3.3M720 435.6l0-4 1.5 3.1 0.3 0.1 0.5-0.5 0.7-2.8 2-11 0.5-0.9 1.4-0.1 4.5 0.3 4 0.9 3.9 1.3 4 2.1 3.4 2.4 2.8 2.7 2.2 2.9 2 3.5M757.1 435.6l1-10.5 0.5-3 0.5-1.1 2.8 0.3 2.3 0.7 2.2 1.1 2.3 1.7 2.2 2.3 1.7 2.3 1.7 2.9 1.4 3.3M779.9 435.6l1-7 0.5-1.9 0.5-0.7 2.6 0.2 2.2 0.4 2.9 0.9 2.2 1 2.3 1.3 2.2 1.7 2.3 2.2 1.5 1.9"/>
<path fill="url(#g79)" stroke-opacity="0.40" stroke-width="0.95" d="M18.5 436.4l0-61.1 4 0 27.7 6.4 30 7.4 56.5 14.6 26 6.9 27.2 7.5 27.1 7.9 34.8 10.4M496.7 436.4l12.7-3.1 15.3-2.9 9.6-2.9 15.8-3.6 13-3.9 5.1-1.3 7.4-2.6 5-1.6 3.4-0.3 5.7 1 2.3 0 8.4-1.5 5.1-1.8 1.7-0.3 1.2 0.2 1.1 0.4 5.6 3.2 2.9 0.6 6.8 0.1 2.2-0.5 4.5-1.8 1.2-0.1 1.1 0.1 1.7 0.8 5.6 4 8 3.9 1.7 0.4 1.1-0.1 5.1-1.1 1.1 0.1 1.7 0.5 9.1 5.7 5.6 4.6 2.3 1 1.7 0.1 3.7-0.3 3.2 0.3 1.2-0.1 1.7-0.9 3.2-3.3 1.1-0.8 1.3-0.5 1.7 0 2.1 0.4 5.1 2.2 4.5 0.6 1.7 0.5 4.5 2.1 2.3 0.4 1.1 0.8 1.1 1.3M724.4 436.4l2-10.9 0.5-0.8 0.8-0.1 3.9 0.2 3.4 0.6 3.4 1 3.4 1.4 2.8 1.6 2.9 2 2.8 2.6 2 2.4M758.8 436.4l0.9-7.6 0.5-2.2 0.3-0.3 2 0.2 1.9 0.4 2.3 1 1.7 1 1.7 1.3 1.7 1.6 1.7 2.1 1.5 2.5M781.9 436.4l0.7-3.6 0.5-1.2 0.3-0.2 3.6 0.3 3.4 0.9 3.4 1.6 3.3 2.2"/>
<path fill="url(#g80)" stroke-opacity="0.40" stroke-width="0.95" d="M18.5 437.1l0-58.4 4 0 23.8 5.5 32.3 7.8 51 13.1 25.5 6.7 29.5 8.1 26.6 7.6 32.4 9.6M509.1 437.1l15.9-3 10.2-3 15.9-3.5 13-3.9 5.1-1.3 7.4-2.6 5.1-1.6 1.7-0.3 1.7 0 5.7 1 2.2 0 8.5-1.5 5.1-1.9 1.7-0.2 1.2 0.1 1.1 0.4 5.7 3.3 2.8 0.6 6.8 0.1 2.3-0.5 4.5-1.9 1.1-0.1 1.2 0.2 1.7 0.8 5.6 4.1 8 4 1.7 0.4 1.1 0 5.1-1.1 1.1 0.1 1.7 0.5 9.1 5.9 5.9 4.9M689.7 437.1l3.9-3.7 0.8-0.4 1.7-0.3 1.2 0.2 1.6 0.4 5.2 2.4 5.1 0.7 1.9 0.7M726.5 437.1l1-5.3 0.4-1.4 0.6-0.5 5.6 0.5 2.8 0.6 2.9 0.9 2.8 1.2 2.3 1.1 4.2 2.9M760.7 437.1l0.6-3.8 0.3-1.1 0.3-0.3 2.8 0.3 2.8 1 2.9 1.7 2.5 2.2"/>
<path fill="url(#g81)" stroke-opacity="0.40" stroke-width="0.95" d="M18.5 437.9l0-55.7 4 0 18.2 4.2 35.2 8.5 43.1 11 31.8 8.3 28.4 7.7 25.5 7.3 29.8 8.7M526.7 437.9l9.5-2.9 13.1-2.8 5.1-1.3 10.8-3.2 5.1-1.3 7.4-2.6 5.1-1.6 1.7-0.3 1.7 0 5.6 1 2.3 0.1 8.5-1.5 5.1-2 1.7-0.2 1.2 0.1 1.1 0.4 5.7 3.3 2.8 0.6 6.8 0.1 2.3-0.6 4.5-1.9 1.2-0.1 1.1 0.2 1.7 0.9 5.7 4.1 7.9 4.1 1.7 0.5 1.2 0 5.1-1.1 1.1 0.1 1.7 0.6 8 5.2 2.7 2.1M695.7 437.9l1.6-0.2 1.5 0.2M728.7 437.9l0.5-1.9 0.6-0.5 3.4 0.2 2.8 0.5 2.9 0.7 2.9 1"/>
<path fill="url(#g82)" stroke-opacity="0.40" stroke-width="0.95" d="M18.6 438.7l0-52.8 4 0 13 3 38.1 9.1 35.3 9 36.4 9.4 26.7 7.2 25.6 7.2 27.1 7.9M539 438.7l10.7-2.3 5.1-1.2 11.4-3.4 5.1-1.2 7.4-2.7 5.1-1.6 1.7-0.2 1.7-0.1 5.7 1.1 2.9 0 7.9-1.5 5.1-1.9 1.8-0.3 1.1 0.1 1.1 0.4 5.7 3.3 2.9 0.6 6.8 0.1 2.3-0.6 4.5-1.9 1.1-0.1 1.2 0.2 1.7 0.9 5.7 4.2 7.4 4 1.7 0.6 1.1 0.1 1.7-0.2 3.4-0.8 1.7 0.1 2.3 0.9 4.8 3.4"/>
<path fill="url(#g83)" stroke-opacity="0.40" stroke-width="0.95" d="M18.6 439.4l0-49.7 4 0 27.9 6.5 33.6 8.2 71.2 18.4 29.7 8.2 29.5 8.4M555.9 439.4l11.3-3.3 5.2-1.2 12.5-4.2 1.7-0.3 1.7 0 5.7 1.1 2.8-0.1 8-1.4 5.2-2 1.7-0.3 1.1 0.1 1.1 0.4 5.7 3.3 2.9 0.6 6.8 0 2.3-0.5 4.6-1.9 1.1-0.1 1.1 0.2 1.7 0.9 4 3.1 2.3 1.5 5.7 3.2 2.2 0.9M658.7 439.4l3.1-0.5 1.1 0.1 1.3 0.4"/>
<path fill="url(#g84)" stroke-opacity="0.40" stroke-width="0.95" d="M18.6 440.2l0-46.5 4 0 25.1 5.8 32.6 7.9 70.7 18.3 28.6 7.7 23.9 6.8M570.2 440.2l3.2-0.8 9.7-3.3 3.4-1 2.9-0.1 5.7 1.1 2.8-0.1 8-1.5 5.2-1.9 1.7-0.3 1.1 0.1 1.2 0.4 5.7 3.2 2.8 0.6 5.2 0.1 2.2-0.2 1.7-0.5 4-1.7 1.2-0.2 1.1 0.1 1.2 0.3 1.1 0.7 4.6 3.5 2.3 1.5"/>
<path fill="url(#g85)" stroke-opacity="0.40" stroke-width="0.95" d="M18.6 441l0-43.1 4 0 22.9 5.3 31.5 7.6 68.6 17.6 46 12.6M583.7 441l3.3-1 2.3-0.3 2.3 0.2 4.6 0.9 2.8 0 8-1.5 5.2-2 1.7-0.3 1.1 0.1 1.2 0.4 4.5 2.7 2.1 0.8M633.1 441l4.8-2 1.7-0.2 1.7 0.5 2.6 1.7"/>
<path fill="url(#g86)" stroke-opacity="0.40" stroke-width="0.95" d="M18.7 441.7l0-39.5 4 0 51.5 12.2 64.2 16.5 40.4 10.8"/>
<path fill="url(#g87)" stroke-opacity="0.40" stroke-width="0.95" d="M18.7 442.5l0-35.7 4 0 49.3 11.6 53.4 13.6 39.6 10.5"/>
<path fill="url(#g88)" stroke-opacity="0.40" stroke-width="0.95" d="M18.7 443.3l0-31.8 4 0 41.4 9.7 24.2 6 62.1 16.1"/>
<path fill="url(#g89)" stroke-opacity="0.40" stroke-width="0.95" d="M18.7 444l0-27.7 4 0 26.5 6.2 31.7 7.7 53.9 13.8"/>
<path fill="url(#g90)" stroke-opacity="0.40" stroke-width="0.95" d="M18.8 444.8l0-23.4 4 0 17.3 3.9 36.3 8.8 42.1 10.7"/>
<path fill="url(#g91)" stroke-opacity="0.40" stroke-width="0.95" d="M18.8 445.6l0-19.2 4 0 9.2 2.1 41.1 9.8 28.6 7.3"/>
<path fill="url(#g92)" stroke-opacity="0.40" stroke-width="0.95" d="M18.8 446.4l0-14.7 4 0 27.8 6.5 33.5 8.2"/>
<path fill="url(#g93)" stroke-opacity="0.40" stroke-width="0.95" d="M18.8 447.1l0-9.8 4 0 41.6 9.8"/>
<path fill="url(#g94)" stroke-opacity="0.40" stroke-width="0.95" d="M18.9 447.9l0-4.4 4 0 19 4.4"/>
</g>
</g>
<path d="M22.5 453.8H845.6" stroke="#d4d4d4" stroke-width="1" fill="none"/>
<text x="388.8" y="19.6" font-size="13" font-weight="bold" fill="#000" textLength="89.1" lengthAdjust="spacingAndGlyphs">Juzear Harrier</text>
<rect x="615" y="10.2" width="230.6" height="9.6" fill="#fff" stroke="#c4c4c4" stroke-width="0.8" stroke-dasharray="1 1"/>
<text x="616.9" y="17.7" font-size="8" fill="#2a2a2a" textLength="226" lengthAdjust="spacingAndGlyphs">500 ms window, 100 ms rise time, 1,00 ms slice interval, 1,7 Hz resn, t = 100 ms</text>
<g font-size="7.2" fill="#2a2a2a" text-anchor="end">
<text x="20.7" y="7.2" textLength="10" lengthAdjust="spacingAndGlyphs">SPL</text>
<text x="20.7" y="25.5" textLength="9.6" lengthAdjust="spacingAndGlyphs">145</text>
<text x="20.7" y="56.2" textLength="9.6" lengthAdjust="spacingAndGlyphs">140</text>
<text x="20.7" y="87.0" textLength="9.6" lengthAdjust="spacingAndGlyphs">135</text>
<text x="20.7" y="117.8" textLength="9.6" lengthAdjust="spacingAndGlyphs">130</text>
<text x="20.7" y="148.5" textLength="9.6" lengthAdjust="spacingAndGlyphs">125</text>
<text x="20.7" y="179.2" textLength="9.6" lengthAdjust="spacingAndGlyphs">120</text>
<text x="20.7" y="210.0" textLength="9.6" lengthAdjust="spacingAndGlyphs">115</text>
<text x="20.7" y="240.8" textLength="9.6" lengthAdjust="spacingAndGlyphs">110</text>
<text x="20.7" y="271.5" textLength="9.6" lengthAdjust="spacingAndGlyphs">105</text>
<text x="20.7" y="302.2" textLength="9.6" lengthAdjust="spacingAndGlyphs">100</text>
<text x="20.7" y="333.0" textLength="6.5" lengthAdjust="spacingAndGlyphs">95</text>
<text x="20.7" y="363.8" textLength="6.5" lengthAdjust="spacingAndGlyphs">90</text>
<text x="20.7" y="394.5" textLength="6.5" lengthAdjust="spacingAndGlyphs">85</text>
<text x="20.7" y="425.2" textLength="6.5" lengthAdjust="spacingAndGlyphs">80</text>
</g>
<g font-size="7.4" fill="#2a2a2a" text-anchor="middle">
<text x="23.0" y="464.2" textLength="6.5" lengthAdjust="spacingAndGlyphs">20</text>
<text x="71.2" y="464.2" textLength="6.5" lengthAdjust="spacingAndGlyphs">30</text>
<text x="105.5" y="464.2" textLength="6.5" lengthAdjust="spacingAndGlyphs">40</text>
<text x="132.0" y="464.2" textLength="6.5" lengthAdjust="spacingAndGlyphs">50</text>
<text x="153.7" y="464.2" textLength="6.5" lengthAdjust="spacingAndGlyphs">60</text>
<text x="172.1" y="464.2" textLength="6.5" lengthAdjust="spacingAndGlyphs">70</text>
<text x="188.0" y="464.2" textLength="6.5" lengthAdjust="spacingAndGlyphs">80</text>
<text x="202.0" y="464.2" textLength="6.5" lengthAdjust="spacingAndGlyphs">90</text>
<text x="214.5" y="464.2" textLength="9.6" lengthAdjust="spacingAndGlyphs">100</text>
<text x="297.0" y="464.2" textLength="9.6" lengthAdjust="spacingAndGlyphs">200</text>
<text x="345.2" y="464.2" textLength="9.6" lengthAdjust="spacingAndGlyphs">300</text>
<text x="379.5" y="464.2" textLength="9.6" lengthAdjust="spacingAndGlyphs">400</text>
<text x="406.0" y="464.2" textLength="9.6" lengthAdjust="spacingAndGlyphs">500</text>
<text x="427.7" y="464.2" textLength="9.6" lengthAdjust="spacingAndGlyphs">600</text>
<text x="446.1" y="464.2" textLength="9.6" lengthAdjust="spacingAndGlyphs">700</text>
<text x="462.0" y="464.2" textLength="9.6" lengthAdjust="spacingAndGlyphs">800</text>
<text x="476.0" y="464.2" textLength="9.6" lengthAdjust="spacingAndGlyphs">900</text>
<text x="488.5" y="464.2" textLength="6.2" lengthAdjust="spacingAndGlyphs">1k</text>
<text x="571.0" y="464.2" textLength="6.2" lengthAdjust="spacingAndGlyphs">2k</text>
<text x="619.2" y="464.2" textLength="6.2" lengthAdjust="spacingAndGlyphs">3k</text>
<text x="653.5" y="464.2" textLength="6.2" lengthAdjust="spacingAndGlyphs">4k</text>
<text x="680.0" y="464.2" textLength="6.2" lengthAdjust="spacingAndGlyphs">5k</text>
<text x="701.7" y="464.2" textLength="6.2" lengthAdjust="spacingAndGlyphs">6k</text>
<text x="720.1" y="464.2" textLength="6.2" lengthAdjust="spacingAndGlyphs">7k</text>
<text x="736.0" y="464.2" textLength="6.2" lengthAdjust="spacingAndGlyphs">8k</text>
<text x="750.0" y="464.2" textLength="6.2" lengthAdjust="spacingAndGlyphs">9k</text>
<text x="762.5" y="464.2" textLength="9.299999999999999" lengthAdjust="spacingAndGlyphs">10k</text>
<text x="845.0" y="464.2" textLength="17.3" lengthAdjust="spacingAndGlyphs">20kHz</text>
</g>
<g font-size="7.2" fill="#2a2a2a">
<rect x="690.3" y="32.8" width="5.6" height="8.4" fill="#fcfcfc" stroke="#cfcfcf" stroke-width="0.7" stroke-dasharray="1 1"/>
<text x="691.5" y="39.6" textLength="3.2" lengthAdjust="spacingAndGlyphs">0</text>
<rect x="717.1" y="41.8" width="8.7" height="8.4" fill="#fcfcfc" stroke="#cfcfcf" stroke-width="0.7" stroke-dasharray="1 1"/>
<text x="718.3" y="48.6" textLength="6.3" lengthAdjust="spacingAndGlyphs">20</text>
<rect x="747.0" y="51.4" width="8.7" height="8.4" fill="#fcfcfc" stroke="#cfcfcf" stroke-width="0.7" stroke-dasharray="1 1"/>
<text x="748.2" y="58.2" textLength="6.3" lengthAdjust="spacingAndGlyphs">40</text>
<rect x="776.8" y="62.0" width="8.7" height="8.4" fill="#fcfcfc" stroke="#cfcfcf" stroke-width="0.7" stroke-dasharray="1 1"/>
<text x="778.0" y="68.8" textLength="6.3" lengthAdjust="spacingAndGlyphs">60</text>
<rect x="806.7" y="73.5" width="8.7" height="8.4" fill="#fcfcfc" stroke="#cfcfcf" stroke-width="0.7" stroke-dasharray="1 1"/>
<text x="807.9" y="80.3" textLength="6.3" lengthAdjust="spacingAndGlyphs">80</text>
<rect x="833.6" y="85.1" width="11.7" height="8.4" fill="#fcfcfc" stroke="#cfcfcf" stroke-width="0.7" stroke-dasharray="1 1"/>
<text x="834.8" y="91.9" textLength="9.3" lengthAdjust="spacingAndGlyphs">100</text>
</g>
<g font-size="7.2" fill="#2a2a2a" clip-path="url(#cp)">
<rect x="20.4" y="32.8" width="5.6" height="8.4" fill="#f6f6f6" stroke="#c8c8c8" stroke-width="0.7" stroke-dasharray="1 1"/>
<text x="21.6" y="39.6" textLength="3.2" lengthAdjust="spacingAndGlyphs">0</text>
<rect x="20.9" y="41.8" width="8.7" height="8.4" fill="#f6f6f6" stroke="#c8c8c8" stroke-width="0.7" stroke-dasharray="1 1"/>
<text x="22.1" y="48.6" textLength="6.3" lengthAdjust="spacingAndGlyphs">20</text>
<rect x="21.4" y="51.4" width="8.7" height="8.4" fill="#f6f6f6" stroke="#c8c8c8" stroke-width="0.7" stroke-dasharray="1 1"/>
<text x="22.6" y="58.2" textLength="6.3" lengthAdjust="spacingAndGlyphs">40</text>
<rect x="21.9" y="62.0" width="8.7" height="8.4" fill="#f6f6f6" stroke="#c8c8c8" stroke-width="0.7" stroke-dasharray="1 1"/>
<text x="23.1" y="68.8" textLength="6.3" lengthAdjust="spacingAndGlyphs">60</text>
<rect x="22.4" y="73.5" width="8.7" height="8.4" fill="#f6f6f6" stroke="#c8c8c8" stroke-width="0.7" stroke-dasharray="1 1"/>
<text x="23.6" y="80.3" textLength="6.3" lengthAdjust="spacingAndGlyphs">80</text>
<rect x="22.9" y="85.1" width="11.7" height="8.4" fill="#f6f6f6" stroke="#c8c8c8" stroke-width="0.7" stroke-dasharray="1 1"/>
<text x="24.1" y="91.9" textLength="9.3" lengthAdjust="spacingAndGlyphs">100</text>
</g>
<linearGradient id="cb" x1="0" y1="0" x2="0" y2="1">
<stop offset="0.0000" stop-color="#f01010"/>
<stop offset="0.0496" stop-color="#f02c08"/>
<stop offset="0.0496" stop-color="#f04008"/>
<stop offset="0.1488" stop-color="#f09808"/>
<stop offset="0.1488" stop-color="#f0b808"/>
<stop offset="0.2479" stop-color="#e0e808"/>
<stop offset="0.2479" stop-color="#c8e008"/>
<stop offset="0.3471" stop-color="#80c808"/>
<stop offset="0.3471" stop-color="#68c408"/>
<stop offset="0.4463" stop-color="#28b410"/>
<stop offset="0.4463" stop-color="#18b018"/>
<stop offset="0.5455" stop-color="#00a848"/>
<stop offset="0.5455" stop-color="#00a858"/>
<stop offset="0.6446" stop-color="#00a090"/>
<stop offset="0.6446" stop-color="#009898"/>
<stop offset="0.7438" stop-color="#0070a8"/>
<stop offset="0.7438" stop-color="#0064a8"/>
<stop offset="0.8430" stop-color="#1030a8"/>
<stop offset="0.8430" stop-color="#1020a8"/>
<stop offset="0.9421" stop-color="#300c96"/>
<stop offset="0.9421" stop-color="#340c90"/>
<stop offset="1.0000" stop-color="#3c0878"/>
</linearGradient>
<rect x="847.3" y="99.7" width="15.6" height="264.4" fill="url(#cb)" stroke="#5a2a10" stroke-opacity="0.55" stroke-width="0.8"/>
<path d="M847.3 112.8H862.9M847.3 139.0H862.9M847.3 165.2H862.9M847.3 191.5H862.9M847.3 217.7H862.9M847.3 243.9H862.9M847.3 270.1H862.9M847.3 296.4H862.9M847.3 322.6H862.9M847.3 348.8H862.9" stroke="#101010" stroke-opacity="0.7" stroke-width="0.9" fill="none"/>
<g font-size="7.2" fill="#2a2a2a">
<text x="864.9" y="115.0" textLength="9.2" lengthAdjust="spacingAndGlyphs">102</text>
<text x="864.9" y="141.2" textLength="6.3" lengthAdjust="spacingAndGlyphs">96</text>
<text x="864.9" y="167.4" textLength="6.3" lengthAdjust="spacingAndGlyphs">90</text>
<text x="864.9" y="193.7" textLength="6.3" lengthAdjust="spacingAndGlyphs">84</text>
<text x="864.9" y="219.9" textLength="6.3" lengthAdjust="spacingAndGlyphs">78</text>
<text x="864.9" y="246.1" textLength="6.3" lengthAdjust="spacingAndGlyphs">72</text>
<text x="864.9" y="272.3" textLength="6.3" lengthAdjust="spacingAndGlyphs">66</text>
<text x="864.9" y="298.6" textLength="6.3" lengthAdjust="spacingAndGlyphs">60</text>
<text x="864.9" y="324.8" textLength="6.3" lengthAdjust="spacingAndGlyphs">54</text>
<text x="864.9" y="351.0" textLength="6.3" lengthAdjust="spacingAndGlyphs">48</text>
<text x="850" y="97.8" textLength="9.5" lengthAdjust="spacingAndGlyphs">105</text>
<text x="849.4" y="372.6" textLength="6.6" lengthAdjust="spacingAndGlyphs">45</text>
</g>
</svg></body></html>
